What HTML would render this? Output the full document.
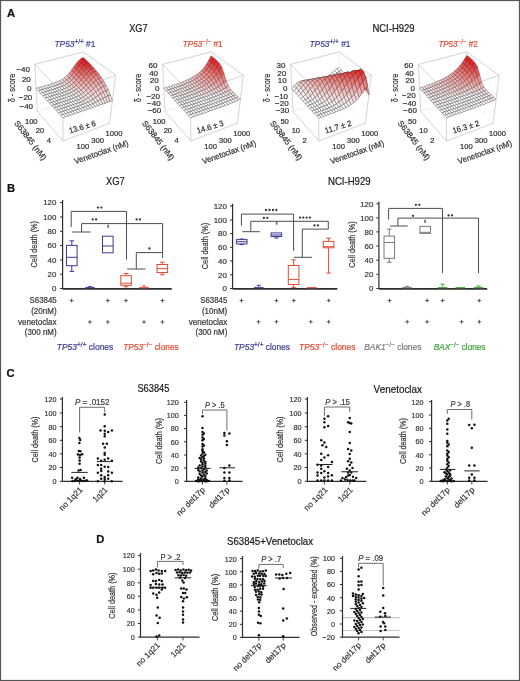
<!DOCTYPE html>
<html><head><meta charset="utf-8"><style>
html,body{margin:0;padding:0;background:#fff;}
body{width:520px;height:681px;overflow:hidden;font-family:"Liberation Sans",sans-serif;}
svg{display:block;will-change:transform;}
</style></head><body>
<svg width="520" height="681" viewBox="0 0 520 681" font-family="Liberation Sans"><text x="7.00" y="16.50" font-size="11.2" fill="#111" stroke="#111" stroke-width="0.22" font-weight="bold">A</text>
<text x="7.00" y="191.90" font-size="11.2" fill="#111" stroke="#111" stroke-width="0.22" font-weight="bold">B</text>
<text x="6.60" y="376.90" font-size="11.2" fill="#111" stroke="#111" stroke-width="0.22" font-weight="bold">C</text>
<text x="96.20" y="542.90" font-size="11.2" fill="#111" stroke="#111" stroke-width="0.22" font-weight="bold">D</text>
<text x="129.20" y="32.10" font-size="10.2" fill="#222" stroke="#222" stroke-width="0.22" textLength="18.40" lengthAdjust="spacingAndGlyphs">XG7</text>
<text x="372.40" y="32.10" font-size="10.2" fill="#222" stroke="#222" stroke-width="0.22" textLength="42.20" lengthAdjust="spacingAndGlyphs">NCI-H929</text>
<line x1="37.30" y1="111.50" x2="83.50" y2="96.00" stroke="#cfcfcf" stroke-width="0.6" stroke-dasharray="1.2,1.2"/>
<line x1="83.50" y1="96.00" x2="109.60" y2="123.30" stroke="#cfcfcf" stroke-width="0.6" stroke-dasharray="1.2,1.2"/>
<line x1="83.50" y1="96.00" x2="83.30" y2="51.90" stroke="#cfcfcf" stroke-width="0.6" stroke-dasharray="1.2,1.2"/>
<line x1="34.80" y1="64.40" x2="83.30" y2="51.90" stroke="#bdbdbd" stroke-width="0.65"/>
<line x1="83.30" y1="51.90" x2="115.60" y2="75.30" stroke="#bdbdbd" stroke-width="0.65"/>
<line x1="34.80" y1="64.40" x2="62.80" y2="93.60" stroke="#bdbdbd" stroke-width="0.65"/>
<line x1="62.80" y1="93.60" x2="115.60" y2="75.30" stroke="#bdbdbd" stroke-width="0.65"/>
<line x1="34.80" y1="64.40" x2="37.30" y2="111.50" stroke="#bdbdbd" stroke-width="0.65"/>
<line x1="115.60" y1="75.30" x2="109.60" y2="123.30" stroke="#bdbdbd" stroke-width="0.65"/>
<line x1="37.30" y1="111.50" x2="63.00" y2="141.00" stroke="#bdbdbd" stroke-width="0.65"/>
<line x1="63.00" y1="141.00" x2="109.60" y2="123.30" stroke="#bdbdbd" stroke-width="0.65"/>
<line x1="62.80" y1="93.60" x2="63.00" y2="141.00" stroke="#bdbdbd" stroke-width="0.65"/>
<g stroke-width="0.5" stroke-linejoin="round"><path d="M83.5,61.3 L85.9,60.1 L83.3,57.6 L80.9,58.8Z" fill="#e41818" stroke="#7d1515"/><path d="M81.1,63.4 L83.5,61.3 L80.9,58.8 L78.5,60.9Z" fill="#e52323" stroke="#7a1a1a"/><path d="M86.1,63.8 L88.6,62.6 L85.9,60.1 L83.5,61.3Z" fill="#e51f1f" stroke="#7b1818"/><path d="M78.7,66.2 L81.1,63.4 L78.5,60.9 L76.1,63.8Z" fill="#e83636" stroke="#762222"/><path d="M83.7,65.9 L86.1,63.8 L83.5,61.3 L81.1,63.4Z" fill="#e62a2a" stroke="#791d1d"/><path d="M76.3,69.4 L78.7,66.2 L76.1,63.8 L73.8,67.0Z" fill="#eb5151" stroke="#722d2d"/><path d="M88.7,66.5 L91.2,65.3 L88.6,62.6 L86.1,63.8Z" fill="#e72d2d" stroke="#781e1e"/><path d="M81.2,68.7 L83.7,65.9 L81.1,63.4 L78.7,66.2Z" fill="#e83d3d" stroke="#752525"/><path d="M73.9,72.6 L76.3,69.4 L73.8,67.0 L71.4,70.2Z" fill="#ee6e6e" stroke="#6c3838"/><path d="M86.2,68.6 L88.7,66.5 L86.1,63.8 L83.7,65.9Z" fill="#e83636" stroke="#762222"/><path d="M78.8,71.9 L81.2,68.7 L78.7,66.2 L76.3,69.4Z" fill="#eb5656" stroke="#712f2f"/><path d="M71.5,75.5 L73.9,72.6 L71.4,70.2 L69.1,73.2Z" fill="#f28c8c" stroke="#684343"/><path d="M91.2,69.2 L93.7,68.0 L91.2,65.3 L88.7,66.5Z" fill="#e94040" stroke="#752626"/><path d="M83.7,71.3 L86.2,68.6 L83.7,65.9 L81.2,68.7Z" fill="#ea4848" stroke="#732a2a"/><path d="M76.3,75.0 L78.8,71.9 L76.3,69.4 L73.9,72.6Z" fill="#ef7373" stroke="#6c3a3a"/><path d="M69.2,78.0 L71.5,75.5 L69.1,73.2 L66.8,75.7Z" fill="#f5a8a8" stroke="#644b4b"/><path d="M88.7,71.3 L91.2,69.2 L88.7,66.5 L86.2,68.6Z" fill="#ea4848" stroke="#732a2a"/><path d="M81.2,74.4 L83.7,71.3 L81.2,68.7 L78.8,71.9Z" fill="#ed6060" stroke="#6f3333"/><path d="M73.9,77.9 L76.3,75.0 L73.9,72.6 L71.5,75.5Z" fill="#f29090" stroke="#674444"/><path d="M93.8,72.2 L96.3,71.0 L93.7,68.0 L91.2,69.2Z" fill="#eb5656" stroke="#712f2f"/><path d="M66.8,80.1 L69.2,78.0 L66.8,75.7 L64.4,77.8Z" fill="#f8c0c0" stroke="#615252"/><path d="M86.2,74.0 L88.7,71.3 L86.2,68.6 L83.7,71.3Z" fill="#ec5959" stroke="#703030"/><path d="M78.8,77.5 L81.2,74.4 L78.8,71.9 L76.3,75.0Z" fill="#f07b7b" stroke="#6a3d3d"/><path d="M71.5,80.4 L73.9,77.9 L71.5,75.5 L69.2,78.0Z" fill="#f5abab" stroke="#634c4c"/><path d="M91.2,74.2 L93.8,72.2 L91.2,69.2 L88.7,71.3Z" fill="#ec5e5e" stroke="#6f3232"/><path d="M64.4,81.7 L66.8,80.1 L64.4,77.8 L62.1,79.4Z" fill="#fad4d4" stroke="#5f5656"/><path d="M83.7,77.0 L86.2,74.0 L83.7,71.3 L81.2,74.4Z" fill="#ee6e6e" stroke="#6c3838"/><path d="M76.4,80.4 L78.8,77.5 L76.3,75.0 L73.9,77.9Z" fill="#f39797" stroke="#664646"/><path d="M96.3,75.3 L98.8,74.1 L96.3,71.0 L93.8,72.2Z" fill="#ee6f6f" stroke="#6c3838"/><path d="M69.2,82.4 L71.5,80.4 L69.2,78.0 L66.8,80.1Z" fill="#f8c2c2" stroke="#615252"/><path d="M88.7,76.8 L91.2,74.2 L88.7,71.3 L86.2,74.0Z" fill="#ee6c6c" stroke="#6d3737"/><path d="M62.1,83.0 L64.4,81.7 L62.1,79.4 L59.7,80.7Z" fill="#fce3e3" stroke="#5d5959"/><path d="M81.2,80.0 L83.7,77.0 L81.2,74.4 L78.8,77.5Z" fill="#f18787" stroke="#684141"/><path d="M73.9,82.8 L76.4,80.4 L73.9,77.9 L71.5,80.4Z" fill="#f6b0b0" stroke="#634d4d"/><path d="M93.7,77.3 L96.3,75.3 L93.8,72.2 L91.2,74.2Z" fill="#ef7575" stroke="#6b3b3b"/><path d="M66.8,84.1 L69.2,82.4 L66.8,80.1 L64.4,81.7Z" fill="#fad5d5" stroke="#5f5656"/><path d="M86.2,79.7 L88.7,76.8 L86.2,74.0 L83.7,77.0Z" fill="#f07f7f" stroke="#6a3e3e"/><path d="M59.7,84.1 L62.1,83.0 L59.7,80.7 L57.4,81.7Z" fill="#fdeded" stroke="#5d5a5a"/><path d="M78.8,82.8 L81.2,80.0 L78.8,77.5 L76.4,80.4Z" fill="#f4a0a0" stroke="#654949"/><path d="M98.7,78.7 L101.3,77.5 L98.8,74.1 L96.3,75.3Z" fill="#f18787" stroke="#684141"/><path d="M71.5,84.8 L73.9,82.8 L71.5,80.4 L69.2,82.4Z" fill="#f8c6c6" stroke="#605353"/><path d="M91.2,79.8 L93.7,77.3 L91.2,74.2 L88.7,76.8Z" fill="#f08181" stroke="#693f3f"/><path d="M64.4,85.4 L66.8,84.1 L64.4,81.7 L62.1,83.0Z" fill="#fce4e4" stroke="#5d5959"/><path d="M83.7,82.6 L86.2,79.7 L83.7,77.0 L81.2,80.0Z" fill="#f39595" stroke="#664545"/><path d="M57.3,85.0 L59.7,84.1 L57.4,81.7 L55.0,82.6Z" fill="#fef4f4" stroke="#5c5b5b"/><path d="M76.3,85.2 L78.8,82.8 L76.4,80.4 L73.9,82.8Z" fill="#f7b7b7" stroke="#624f4f"/><path d="M96.2,80.5 L98.7,78.7 L96.3,75.3 L93.7,77.3Z" fill="#f28d8d" stroke="#684343"/><path d="M69.1,86.4 L71.5,84.8 L69.2,82.4 L66.8,84.1Z" fill="#fad8d8" stroke="#5e5757"/><path d="M88.6,82.6 L91.2,79.8 L88.7,76.8 L86.2,79.7Z" fill="#f29292" stroke="#674444"/><path d="M62.0,86.4 L64.4,85.4 L62.1,83.0 L59.7,84.1Z" fill="#fdeeee" stroke="#5d5a5a"/><path d="M81.2,85.3 L83.7,82.6 L81.2,80.0 L78.8,82.8Z" fill="#f5abab" stroke="#634c4c"/><path d="M101.2,82.4 L103.7,81.2 L101.3,77.5 L98.7,78.7Z" fill="#f49f9f" stroke="#654848"/><path d="M54.9,85.8 L57.3,85.0 L55.0,82.6 L52.6,83.4Z" fill="#fef9f9" stroke="#5c5c5c"/><path d="M73.9,87.2 L76.3,85.2 L73.9,82.8 L71.5,84.8Z" fill="#f9cbcb" stroke="#605454"/><path d="M93.6,82.9 L96.2,80.5 L93.7,77.3 L91.2,79.8Z" fill="#f39797" stroke="#664646"/><path d="M66.7,87.7 L69.1,86.4 L66.8,84.1 L64.4,85.4Z" fill="#fce5e5" stroke="#5d5959"/><path d="M86.1,85.4 L88.6,82.6 L86.2,79.7 L83.7,82.6Z" fill="#f4a4a4" stroke="#644a4a"/><path d="M59.6,87.3 L62.0,86.4 L59.7,84.1 L57.3,85.0Z" fill="#fef5f5" stroke="#5c5b5b"/><path d="M78.7,87.7 L81.2,85.3 L78.8,82.8 L76.3,85.2Z" fill="#f8c0c0" stroke="#615151"/><path d="M98.6,84.1 L101.2,82.4 L98.7,78.7 L96.2,80.5Z" fill="#f4a3a3" stroke="#644a4a"/><path d="M71.5,88.8 L73.9,87.2 L71.5,84.8 L69.1,86.4Z" fill="#fbdbdb" stroke="#5e5757"/><path d="M91.0,85.5 L93.6,82.9 L91.2,79.8 L88.6,82.6Z" fill="#f5a4a4" stroke="#644a4a"/><path d="M52.6,86.5 L54.9,85.8 L52.6,83.4 L50.3,84.2Z" fill="#fffcfc" stroke="#5c5c5c"/><path d="M64.3,88.8 L66.7,87.7 L64.4,85.4 L62.0,86.4Z" fill="#fdefef" stroke="#5d5b5b"/><path d="M83.6,87.9 L86.1,85.4 L83.7,82.6 L81.2,85.3Z" fill="#f7b7b7" stroke="#624f4f"/><path d="M103.5,86.4 L106.0,85.3 L103.7,81.2 L101.2,82.4Z" fill="#f6b4b4" stroke="#624e4e"/><path d="M57.2,88.1 L59.6,87.3 L57.3,85.0 L54.9,85.8Z" fill="#fef9f9" stroke="#5c5c5c"/><path d="M76.3,89.6 L78.7,87.7 L76.3,85.2 L73.9,87.2Z" fill="#fad1d1" stroke="#5f5555"/><path d="M96.0,86.3 L98.6,84.1 L96.2,80.5 L93.6,82.9Z" fill="#f5abab" stroke="#634c4c"/><path d="M88.5,88.2 L91.0,85.5 L88.6,82.6 L86.1,85.4Z" fill="#f6b4b4" stroke="#624e4e"/><path d="M50.2,87.3 L52.6,86.5 L50.3,84.2 L47.9,84.9Z" fill="#fffdfd" stroke="#5c5c5c"/><path d="M69.1,90.0 L71.5,88.8 L69.1,86.4 L66.7,87.7Z" fill="#fce8e8" stroke="#5d5a5a"/><path d="M61.9,89.7 L64.3,88.8 L62.0,86.4 L59.6,87.3Z" fill="#fef5f5" stroke="#5c5b5b"/><path d="M81.1,90.2 L83.6,87.9 L81.2,85.3 L78.7,87.7Z" fill="#f9c9c9" stroke="#605454"/><path d="M100.9,88.0 L103.5,86.4 L101.2,82.4 L98.6,84.1Z" fill="#f7b7b7" stroke="#624f4f"/><path d="M54.9,88.9 L57.2,88.1 L54.9,85.8 L52.6,86.5Z" fill="#fffcfc" stroke="#5c5c5c"/><path d="M73.8,91.1 L76.3,89.6 L73.9,87.2 L71.5,88.8Z" fill="#fbdfdf" stroke="#5e5858"/><path d="M93.4,88.7 L96.0,86.3 L93.6,82.9 L91.0,85.5Z" fill="#f7b6b6" stroke="#624f4f"/><path d="M47.8,88.0 L50.2,87.3 L47.9,84.9 L45.5,85.6Z" fill="#fffefe" stroke="#5c5c5c"/><path d="M66.7,91.1 L69.1,90.0 L66.7,87.7 L64.3,88.8Z" fill="#fdf0f0" stroke="#5d5b5b"/><path d="M86.0,90.6 L88.5,88.2 L86.1,85.4 L83.6,87.9Z" fill="#f8c3c3" stroke="#605252"/><path d="M105.8,90.9 L108.3,89.8 L106.0,85.3 L103.5,86.4Z" fill="#f8c6c6" stroke="#605353"/><path d="M59.5,90.5 L61.9,89.7 L59.6,87.3 L57.2,88.1Z" fill="#fef9f9" stroke="#5c5c5c"/><path d="M78.6,92.0 L81.1,90.2 L78.7,87.7 L76.3,89.6Z" fill="#fad8d8" stroke="#5e5757"/><path d="M98.4,89.9 L100.9,88.0 L98.6,84.1 L96.0,86.3Z" fill="#f7bebe" stroke="#615151"/><path d="M52.5,89.7 L54.9,88.9 L52.6,86.5 L50.2,87.3Z" fill="#fffdfd" stroke="#5c5c5c"/><path d="M71.4,92.4 L73.8,91.1 L71.5,88.8 L69.1,90.0Z" fill="#fdeaea" stroke="#5d5a5a"/><path d="M90.9,91.1 L93.4,88.7 L91.0,85.5 L88.5,88.2Z" fill="#f8c3c3" stroke="#615252"/><path d="M45.4,88.7 L47.8,88.0 L45.5,85.6 L43.2,86.3Z" fill="#ffffff" stroke="#5c5c5c"/><path d="M64.3,92.0 L66.7,91.1 L64.3,88.8 L61.9,89.7Z" fill="#fef6f6" stroke="#5c5b5b"/><path d="M83.4,92.7 L86.0,90.6 L83.6,87.9 L81.1,90.2Z" fill="#fad2d2" stroke="#5f5656"/><path d="M103.2,92.3 L105.8,90.9 L103.5,86.4 L100.9,88.0Z" fill="#f9c9c9" stroke="#605454"/><path d="M57.2,91.3 L59.5,90.5 L57.2,88.1 L54.9,88.9Z" fill="#fffcfc" stroke="#5c5c5c"/><path d="M76.2,93.5 L78.6,92.0 L76.3,89.6 L73.8,91.1Z" fill="#fce4e4" stroke="#5d5959"/><path d="M95.8,92.1 L98.4,89.9 L96.0,86.3 L93.4,88.7Z" fill="#f8c6c6" stroke="#605353"/><path d="M50.1,90.4 L52.5,89.7 L50.2,87.3 L47.8,88.0Z" fill="#fffefe" stroke="#5c5c5c"/><path d="M69.0,93.5 L71.4,92.4 L69.1,90.0 L66.7,91.1Z" fill="#fdf2f2" stroke="#5c5b5b"/><path d="M88.3,93.3 L90.9,91.1 L88.5,88.2 L86.0,90.6Z" fill="#f9cfcf" stroke="#5f5555"/><path d="M107.9,95.9 L110.4,94.9 L108.3,89.8 L105.8,90.9Z" fill="#fad6d6" stroke="#5f5656"/><path d="M43.1,89.4 L45.4,88.7 L43.2,86.3 L40.8,87.0Z" fill="#ffffff" stroke="#5c5c5c"/><path d="M61.9,92.9 L64.3,92.0 L61.9,89.7 L59.5,90.5Z" fill="#fefafa" stroke="#5c5c5c"/><path d="M81.0,94.5 L83.4,92.7 L81.1,90.2 L78.6,92.0Z" fill="#fbdfdf" stroke="#5e5858"/><path d="M100.7,93.9 L103.2,92.3 L100.9,88.0 L98.4,89.9Z" fill="#f9cece" stroke="#5f5555"/><path d="M54.8,92.0 L57.2,91.3 L54.9,88.9 L52.5,89.7Z" fill="#fffdfd" stroke="#5c5c5c"/><path d="M73.7,94.8 L76.2,93.5 L73.8,91.1 L71.4,92.4Z" fill="#fdeded" stroke="#5d5a5a"/><path d="M93.2,94.2 L95.8,92.1 L93.4,88.7 L90.9,91.1Z" fill="#fad0d0" stroke="#5f5555"/><path d="M47.7,91.1 L50.1,90.4 L47.8,88.0 L45.4,88.7Z" fill="#ffffff" stroke="#5c5c5c"/><path d="M66.6,94.4 L69.0,93.5 L66.7,91.1 L64.3,92.0Z" fill="#fef7f7" stroke="#5c5c5c"/><path d="M85.8,95.3 L88.3,93.3 L86.0,90.6 L83.4,92.7Z" fill="#fbdbdb" stroke="#5e5757"/><path d="M105.4,97.1 L107.9,95.9 L105.8,90.9 L103.2,92.3Z" fill="#fad7d7" stroke="#5e5757"/><path d="M78.5,95.9 L81.0,94.5 L78.6,92.0 L76.2,93.5Z" fill="#fce9e9" stroke="#5d5a5a"/><path d="M40.7,90.2 L43.1,89.4 L40.8,87.0 L38.4,87.7Z" fill="#ffffff" stroke="#5c5c5c"/><path d="M98.1,95.7 L100.7,93.9 L98.4,89.9 L95.8,92.1Z" fill="#fad4d4" stroke="#5f5656"/><path d="M59.4,93.7 L61.9,92.9 L59.5,90.5 L57.2,91.3Z" fill="#fffcfc" stroke="#5c5c5c"/><path d="M52.4,92.8 L54.8,92.0 L52.5,89.7 L50.1,90.4Z" fill="#fffefe" stroke="#5c5c5c"/><path d="M71.3,95.8 L73.7,94.8 L71.4,92.4 L69.0,93.5Z" fill="#fef4f4" stroke="#5c5b5b"/><path d="M90.7,96.2 L93.2,94.2 L90.9,91.1 L88.3,93.3Z" fill="#fbdada" stroke="#5e5757"/><path d="M109.9,101.6 L112.4,100.7 L110.4,94.9 L107.9,95.9Z" fill="#fce2e2" stroke="#5e5959"/><path d="M45.3,91.9 L47.7,91.1 L45.4,88.7 L43.1,89.4Z" fill="#ffffff" stroke="#5c5c5c"/><path d="M64.2,95.2 L66.6,94.4 L64.3,92.0 L61.9,92.9Z" fill="#fefbfb" stroke="#5c5c5c"/><path d="M83.3,97.0 L85.8,95.3 L83.4,92.7 L81.0,94.5Z" fill="#fce5e5" stroke="#5d5959"/><path d="M102.9,98.4 L105.4,97.1 L103.2,92.3 L100.7,93.9Z" fill="#fbdbdb" stroke="#5e5757"/><path d="M76.1,97.1 L78.5,95.9 L76.2,93.5 L73.7,94.8Z" fill="#fdf0f0" stroke="#5d5b5b"/><path d="M38.3,90.9 L40.7,90.2 L38.4,87.7 L36.1,88.4Z" fill="#ffffff" stroke="#5c5c5c"/><path d="M57.0,94.4 L59.4,93.7 L57.2,91.3 L54.8,92.0Z" fill="#fffefe" stroke="#5c5c5c"/><path d="M95.5,97.5 L98.1,95.7 L95.8,92.1 L93.2,94.2Z" fill="#fbdbdb" stroke="#5e5757"/><path d="M50.0,93.5 L52.4,92.8 L50.1,90.4 L47.7,91.1Z" fill="#ffffff" stroke="#5c5c5c"/><path d="M68.9,96.7 L71.3,95.8 L69.0,93.5 L66.6,94.4Z" fill="#fef8f8" stroke="#5c5c5c"/><path d="M88.2,98.0 L90.7,96.2 L88.3,93.3 L85.8,95.3Z" fill="#fce3e3" stroke="#5d5959"/><path d="M107.5,102.4 L109.9,101.6 L107.9,95.9 L105.4,97.1Z" fill="#fce3e3" stroke="#5d5959"/><path d="M42.9,92.6 L45.3,91.9 L43.1,89.4 L40.7,90.2Z" fill="#ffffff" stroke="#5c5c5c"/><path d="M100.4,99.7 L102.9,98.4 L100.7,93.9 L98.1,95.7Z" fill="#fbe0e0" stroke="#5e5858"/><path d="M61.7,96.0 L64.2,95.2 L61.9,92.9 L59.4,93.7Z" fill="#fffdfd" stroke="#5c5c5c"/><path d="M80.9,98.4 L83.3,97.0 L81.0,94.5 L78.5,95.9Z" fill="#fdeded" stroke="#5d5a5a"/><path d="M54.6,95.2 L57.0,94.4 L54.8,92.0 L52.4,92.8Z" fill="#fffefe" stroke="#5c5c5c"/><path d="M73.6,98.2 L76.1,97.1 L73.7,94.8 L71.3,95.8Z" fill="#fef6f6" stroke="#5c5b5b"/><path d="M93.0,99.2 L95.5,97.5 L93.2,94.2 L90.7,96.2Z" fill="#fce3e3" stroke="#5d5959"/><path d="M47.6,94.3 L50.0,93.5 L47.7,91.1 L45.3,91.9Z" fill="#ffffff" stroke="#5c5c5c"/><path d="M66.5,97.6 L68.9,96.7 L66.6,94.4 L64.2,95.2Z" fill="#fffbfb" stroke="#5c5c5c"/><path d="M85.7,99.5 L88.2,98.0 L85.8,95.3 L83.3,97.0Z" fill="#fdebeb" stroke="#5d5a5a"/><path d="M105.0,103.3 L107.5,102.4 L105.4,97.1 L102.9,98.4Z" fill="#fce5e5" stroke="#5d5959"/><path d="M40.5,93.3 L42.9,92.6 L40.7,90.2 L38.3,90.9Z" fill="#ffffff" stroke="#5c5c5c"/><path d="M59.3,96.8 L61.7,96.0 L59.4,93.7 L57.0,94.4Z" fill="#fffefe" stroke="#5c5c5c"/><path d="M97.8,101.1 L100.4,99.7 L98.1,95.7 L95.5,97.5Z" fill="#fce5e5" stroke="#5d5959"/><path d="M78.4,99.5 L80.9,98.4 L78.5,95.9 L76.1,97.1Z" fill="#fef3f3" stroke="#5c5b5b"/><path d="M52.2,95.9 L54.6,95.2 L52.4,92.8 L50.0,93.5Z" fill="#ffffff" stroke="#5c5c5c"/><path d="M71.2,99.1 L73.6,98.2 L71.3,95.8 L68.9,96.7Z" fill="#fef9f9" stroke="#5c5c5c"/><path d="M90.5,100.8 L93.0,99.2 L90.7,96.2 L88.2,98.0Z" fill="#fdeaea" stroke="#5d5a5a"/><path d="M45.2,95.0 L47.6,94.3 L45.3,91.9 L42.9,92.6Z" fill="#ffffff" stroke="#5c5c5c"/><path d="M64.0,98.4 L66.5,97.6 L64.2,95.2 L61.7,96.0Z" fill="#fffdfd" stroke="#5c5c5c"/><path d="M83.2,100.8 L85.7,99.5 L83.3,97.0 L80.9,98.4Z" fill="#fdf1f1" stroke="#5d5b5b"/><path d="M102.5,104.1 L105.0,103.3 L102.9,98.4 L100.4,99.7Z" fill="#fce9e9" stroke="#5d5a5a"/><path d="M56.9,97.6 L59.3,96.8 L57.0,94.4 L54.6,95.2Z" fill="#fffefe" stroke="#5c5c5c"/><path d="M75.9,100.5 L78.4,99.5 L76.1,97.1 L73.6,98.2Z" fill="#fef8f8" stroke="#5c5c5c"/><path d="M95.3,102.4 L97.8,101.1 L95.5,97.5 L93.0,99.2Z" fill="#fdeaea" stroke="#5d5a5a"/><path d="M49.8,96.7 L52.2,95.9 L50.0,93.5 L47.6,94.3Z" fill="#ffffff" stroke="#5c5c5c"/><path d="M68.8,100.0 L71.2,99.1 L68.9,96.7 L66.5,97.6Z" fill="#fffcfc" stroke="#5c5c5c"/><path d="M88.0,102.1 L90.5,100.8 L88.2,98.0 L85.7,99.5Z" fill="#fdf0f0" stroke="#5d5b5b"/><path d="M42.8,95.8 L45.2,95.0 L42.9,92.6 L40.5,93.3Z" fill="#ffffff" stroke="#5c5c5c"/><path d="M61.6,99.2 L64.0,98.4 L61.7,96.0 L59.3,96.8Z" fill="#fffefe" stroke="#5c5c5c"/><path d="M80.7,101.9 L83.2,100.8 L80.9,98.4 L78.4,99.5Z" fill="#fef6f6" stroke="#5c5b5b"/><path d="M100.1,105.0 L102.5,104.1 L100.4,99.7 L97.8,101.1Z" fill="#fdeded" stroke="#5d5a5a"/><path d="M54.5,98.4 L56.9,97.6 L54.6,95.2 L52.2,95.9Z" fill="#ffffff" stroke="#5c5c5c"/><path d="M73.5,101.5 L75.9,100.5 L73.6,98.2 L71.2,99.1Z" fill="#fefbfb" stroke="#5c5c5c"/><path d="M92.8,103.7 L95.3,102.4 L93.0,99.2 L90.5,100.8Z" fill="#fdefef" stroke="#5d5b5b"/><path d="M47.4,97.5 L49.8,96.7 L47.6,94.3 L45.2,95.0Z" fill="#ffffff" stroke="#5c5c5c"/><path d="M66.3,100.8 L68.8,100.0 L66.5,97.6 L64.0,98.4Z" fill="#fffdfd" stroke="#5c5c5c"/><path d="M85.5,103.3 L88.0,102.1 L85.7,99.5 L83.2,100.8Z" fill="#fef4f4" stroke="#5c5b5b"/><path d="M59.2,100.0 L61.6,99.2 L59.3,96.8 L56.9,97.6Z" fill="#fffefe" stroke="#5c5c5c"/><path d="M78.3,102.9 L80.7,101.9 L78.4,99.5 L75.9,100.5Z" fill="#fef9f9" stroke="#5c5c5c"/><path d="M97.6,105.8 L100.1,105.0 L97.8,101.1 L95.3,102.4Z" fill="#fdf0f0" stroke="#5d5b5b"/><path d="M52.1,99.1 L54.5,98.4 L52.2,95.9 L49.8,96.7Z" fill="#ffffff" stroke="#5c5c5c"/><path d="M71.1,102.3 L73.5,101.5 L71.2,99.1 L68.8,100.0Z" fill="#fffcfc" stroke="#5c5c5c"/><path d="M90.3,104.8 L92.8,103.7 L90.5,100.8 L88.0,102.1Z" fill="#fef4f4" stroke="#5c5b5b"/><path d="M63.9,101.6 L66.3,100.8 L64.0,98.4 L61.6,99.2Z" fill="#fffefe" stroke="#5c5c5c"/><path d="M45.0,98.2 L47.4,97.5 L45.2,95.0 L42.8,95.8Z" fill="#ffffff" stroke="#5c5c5c"/><path d="M83.1,104.3 L85.5,103.3 L83.2,100.8 L80.7,101.9Z" fill="#fef8f8" stroke="#5c5c5c"/><path d="M56.8,100.8 L59.2,100.0 L56.9,97.6 L54.5,98.4Z" fill="#ffffff" stroke="#5c5c5c"/><path d="M75.8,103.8 L78.3,102.9 L75.9,100.5 L73.5,101.5Z" fill="#fffcfc" stroke="#5c5c5c"/><path d="M95.1,106.7 L97.6,105.8 L95.3,102.4 L92.8,103.7Z" fill="#fef4f4" stroke="#5c5b5b"/><path d="M49.7,99.9 L52.1,99.1 L49.8,96.7 L47.4,97.5Z" fill="#ffffff" stroke="#5c5c5c"/><path d="M87.8,105.8 L90.3,104.8 L88.0,102.1 L85.5,103.3Z" fill="#fef7f7" stroke="#5c5c5c"/><path d="M68.6,103.2 L71.1,102.3 L68.8,100.0 L66.3,100.8Z" fill="#fffefe" stroke="#5c5c5c"/><path d="M61.5,102.4 L63.9,101.6 L61.6,99.2 L59.2,100.0Z" fill="#ffffff" stroke="#5c5c5c"/><path d="M80.6,105.3 L83.1,104.3 L80.7,101.9 L78.3,102.9Z" fill="#fefbfb" stroke="#5c5c5c"/><path d="M54.3,101.5 L56.8,100.8 L54.5,98.4 L52.1,99.1Z" fill="#ffffff" stroke="#5c5c5c"/><path d="M73.4,104.7 L75.8,103.8 L73.5,101.5 L71.1,102.3Z" fill="#fffdfd" stroke="#5c5c5c"/><path d="M92.6,107.6 L95.1,106.7 L92.8,103.7 L90.3,104.8Z" fill="#fef7f7" stroke="#5c5b5b"/><path d="M47.3,100.7 L49.7,99.9 L47.4,97.5 L45.0,98.2Z" fill="#ffffff" stroke="#5c5c5c"/><path d="M85.4,106.8 L87.8,105.8 L85.5,103.3 L83.1,104.3Z" fill="#fefafa" stroke="#5c5c5c"/><path d="M66.2,104.0 L68.6,103.2 L66.3,100.8 L63.9,101.6Z" fill="#fffefe" stroke="#5c5c5c"/><path d="M59.0,103.2 L61.5,102.4 L59.2,100.0 L56.8,100.8Z" fill="#ffffff" stroke="#5c5c5c"/><path d="M78.1,106.2 L80.6,105.3 L78.3,102.9 L75.8,103.8Z" fill="#fffcfc" stroke="#5c5c5c"/><path d="M51.9,102.3 L54.3,101.5 L52.1,99.1 L49.7,99.9Z" fill="#ffffff" stroke="#5c5c5c"/><path d="M70.9,105.5 L73.4,104.7 L71.1,102.3 L68.6,103.2Z" fill="#fffefe" stroke="#5c5c5c"/><path d="M90.2,108.4 L92.6,107.6 L90.3,104.8 L87.8,105.8Z" fill="#fefafa" stroke="#5c5c5c"/><path d="M63.7,104.8 L66.2,104.0 L63.9,101.6 L61.5,102.4Z" fill="#ffffff" stroke="#5c5c5c"/><path d="M82.9,107.7 L85.4,106.8 L83.1,104.3 L80.6,105.3Z" fill="#fffcfc" stroke="#5c5c5c"/><path d="M56.6,104.0 L59.0,103.2 L56.8,100.8 L54.3,101.5Z" fill="#ffffff" stroke="#5c5c5c"/><path d="M75.7,107.1 L78.1,106.2 L75.8,103.8 L73.4,104.7Z" fill="#fffefe" stroke="#5c5c5c"/><path d="M49.5,103.1 L51.9,102.3 L49.7,99.9 L47.3,100.7Z" fill="#ffffff" stroke="#5c5c5c"/><path d="M68.5,106.4 L70.9,105.5 L68.6,103.2 L66.2,104.0Z" fill="#fffefe" stroke="#5c5c5c"/><path d="M87.7,109.3 L90.2,108.4 L87.8,105.8 L85.4,106.8Z" fill="#fffbfb" stroke="#5c5c5c"/><path d="M80.4,108.6 L82.9,107.7 L80.6,105.3 L78.1,106.2Z" fill="#fffdfd" stroke="#5c5c5c"/><path d="M61.3,105.6 L63.7,104.8 L61.5,102.4 L59.0,103.2Z" fill="#ffffff" stroke="#5c5c5c"/><path d="M54.2,104.8 L56.6,104.0 L54.3,101.5 L51.9,102.3Z" fill="#ffffff" stroke="#5c5c5c"/><path d="M73.2,107.9 L75.7,107.1 L73.4,104.7 L70.9,105.5Z" fill="#fffefe" stroke="#5c5c5c"/><path d="M66.0,107.2 L68.5,106.4 L66.2,104.0 L63.7,104.8Z" fill="#ffffff" stroke="#5c5c5c"/><path d="M85.2,110.1 L87.7,109.3 L85.4,106.8 L82.9,107.7Z" fill="#fffdfd" stroke="#5c5c5c"/><path d="M58.8,106.4 L61.3,105.6 L59.0,103.2 L56.6,104.0Z" fill="#ffffff" stroke="#5c5c5c"/><path d="M78.0,109.4 L80.4,108.6 L78.1,106.2 L75.7,107.1Z" fill="#fffefe" stroke="#5c5c5c"/><path d="M51.7,105.5 L54.2,104.8 L51.9,102.3 L49.5,103.1Z" fill="#ffffff" stroke="#5c5c5c"/><path d="M70.7,108.7 L73.2,107.9 L70.9,105.5 L68.5,106.4Z" fill="#ffffff" stroke="#5c5c5c"/><path d="M63.6,108.0 L66.0,107.2 L63.7,104.8 L61.3,105.6Z" fill="#ffffff" stroke="#5c5c5c"/><path d="M82.7,111.0 L85.2,110.1 L82.9,107.7 L80.4,108.6Z" fill="#fffefe" stroke="#5c5c5c"/><path d="M56.4,107.2 L58.8,106.4 L56.6,104.0 L54.2,104.8Z" fill="#ffffff" stroke="#5c5c5c"/><path d="M75.5,110.3 L78.0,109.4 L75.7,107.1 L73.2,107.9Z" fill="#fffefe" stroke="#5c5c5c"/><path d="M68.3,109.6 L70.7,108.7 L68.5,106.4 L66.0,107.2Z" fill="#ffffff" stroke="#5c5c5c"/><path d="M61.1,108.8 L63.6,108.0 L61.3,105.6 L58.8,106.4Z" fill="#ffffff" stroke="#5c5c5c"/><path d="M80.3,111.8 L82.7,111.0 L80.4,108.6 L78.0,109.4Z" fill="#fffefe" stroke="#5c5c5c"/><path d="M54.0,108.0 L56.4,107.2 L54.2,104.8 L51.7,105.5Z" fill="#ffffff" stroke="#5c5c5c"/><path d="M73.0,111.1 L75.5,110.3 L73.2,107.9 L70.7,108.7Z" fill="#ffffff" stroke="#5c5c5c"/><path d="M65.8,110.4 L68.3,109.6 L66.0,107.2 L63.6,108.0Z" fill="#ffffff" stroke="#5c5c5c"/><path d="M58.6,109.6 L61.1,108.8 L58.8,106.4 L56.4,107.2Z" fill="#ffffff" stroke="#5c5c5c"/><path d="M77.8,112.7 L80.3,111.8 L78.0,109.4 L75.5,110.3Z" fill="#ffffff" stroke="#5c5c5c"/><path d="M70.6,112.0 L73.0,111.1 L70.7,108.7 L68.3,109.6Z" fill="#ffffff" stroke="#5c5c5c"/><path d="M63.4,111.2 L65.8,110.4 L63.6,108.0 L61.1,108.8Z" fill="#ffffff" stroke="#5c5c5c"/><path d="M56.2,110.4 L58.6,109.6 L56.4,107.2 L54.0,108.0Z" fill="#ffffff" stroke="#5c5c5c"/><path d="M75.3,113.5 L77.8,112.7 L75.5,110.3 L73.0,111.1Z" fill="#ffffff" stroke="#5c5c5c"/><path d="M68.1,112.8 L70.6,112.0 L68.3,109.6 L65.8,110.4Z" fill="#ffffff" stroke="#5c5c5c"/><path d="M60.9,112.1 L63.4,111.2 L61.1,108.8 L58.6,109.6Z" fill="#ffffff" stroke="#5c5c5c"/><path d="M72.8,114.4 L75.3,113.5 L73.0,111.1 L70.6,112.0Z" fill="#ffffff" stroke="#5c5c5c"/><path d="M65.6,113.6 L68.1,112.8 L65.8,110.4 L63.4,111.2Z" fill="#ffffff" stroke="#5c5c5c"/><path d="M58.4,112.9 L60.9,112.1 L58.6,109.6 L56.2,110.4Z" fill="#ffffff" stroke="#5c5c5c"/><path d="M70.3,115.2 L72.8,114.4 L70.6,112.0 L68.1,112.8Z" fill="#ffffff" stroke="#5c5c5c"/><path d="M63.1,114.5 L65.6,113.6 L63.4,111.2 L60.9,112.1Z" fill="#ffffff" stroke="#5c5c5c"/><path d="M67.9,116.1 L70.3,115.2 L68.1,112.8 L65.6,113.6Z" fill="#ffffff" stroke="#5c5c5c"/><path d="M60.7,115.3 L63.1,114.5 L60.9,112.1 L58.4,112.9Z" fill="#ffffff" stroke="#5c5c5c"/><path d="M65.4,116.9 L67.9,116.1 L65.6,113.6 L63.1,114.5Z" fill="#ffffff" stroke="#5c5c5c"/><path d="M62.9,117.8 L65.4,116.9 L63.1,114.5 L60.7,115.3Z" fill="#ffffff" stroke="#5c5c5c"/></g>
<line x1="165.10" y1="111.50" x2="211.30" y2="96.00" stroke="#cfcfcf" stroke-width="0.6" stroke-dasharray="1.2,1.2"/>
<line x1="211.30" y1="96.00" x2="237.40" y2="123.30" stroke="#cfcfcf" stroke-width="0.6" stroke-dasharray="1.2,1.2"/>
<line x1="211.30" y1="96.00" x2="211.10" y2="51.90" stroke="#cfcfcf" stroke-width="0.6" stroke-dasharray="1.2,1.2"/>
<line x1="162.60" y1="64.40" x2="211.10" y2="51.90" stroke="#bdbdbd" stroke-width="0.65"/>
<line x1="211.10" y1="51.90" x2="243.40" y2="75.30" stroke="#bdbdbd" stroke-width="0.65"/>
<line x1="162.60" y1="64.40" x2="190.60" y2="93.60" stroke="#bdbdbd" stroke-width="0.65"/>
<line x1="190.60" y1="93.60" x2="243.40" y2="75.30" stroke="#bdbdbd" stroke-width="0.65"/>
<line x1="162.60" y1="64.40" x2="165.10" y2="111.50" stroke="#bdbdbd" stroke-width="0.65"/>
<line x1="243.40" y1="75.30" x2="237.40" y2="123.30" stroke="#bdbdbd" stroke-width="0.65"/>
<line x1="165.10" y1="111.50" x2="190.80" y2="141.00" stroke="#bdbdbd" stroke-width="0.65"/>
<line x1="190.80" y1="141.00" x2="237.40" y2="123.30" stroke="#bdbdbd" stroke-width="0.65"/>
<line x1="190.60" y1="93.60" x2="190.80" y2="141.00" stroke="#bdbdbd" stroke-width="0.65"/>
<g stroke-width="0.5" stroke-linejoin="round"><path d="M211.3,62.8 L213.8,58.0 L211.1,55.9 L208.7,60.6Z" fill="#e62929" stroke="#791c1c"/><path d="M208.9,66.7 L211.3,62.8 L208.7,60.6 L206.4,64.5Z" fill="#ea4a4a" stroke="#732a2a"/><path d="M213.9,65.0 L216.4,60.2 L213.8,58.0 L211.3,62.8Z" fill="#e62a2a" stroke="#791d1d"/><path d="M206.5,69.9 L208.9,66.7 L206.4,64.5 L204.0,67.7Z" fill="#ed6666" stroke="#6e3535"/><path d="M211.4,68.9 L213.9,65.0 L211.3,62.8 L208.9,66.7Z" fill="#ea4c4c" stroke="#722b2b"/><path d="M204.1,72.5 L206.5,69.9 L204.0,67.7 L201.6,70.3Z" fill="#f07e7e" stroke="#6a3e3e"/><path d="M216.5,67.6 L219.0,62.9 L216.4,60.2 L213.9,65.0Z" fill="#e72e2e" stroke="#781f1f"/><path d="M209.0,72.1 L211.4,68.9 L208.9,66.7 L206.5,69.9Z" fill="#ed6868" stroke="#6d3636"/><path d="M201.7,74.7 L204.1,72.5 L201.6,70.3 L199.3,72.5Z" fill="#f29393" stroke="#674545"/><path d="M213.9,71.4 L216.5,67.6 L213.9,65.0 L211.4,68.9Z" fill="#eb4f4f" stroke="#722c2c"/><path d="M206.6,74.8 L209.0,72.1 L206.5,69.9 L204.1,72.5Z" fill="#f08080" stroke="#6a3e3e"/><path d="M199.3,76.6 L201.7,74.7 L199.3,72.5 L196.9,74.4Z" fill="#f4a4a4" stroke="#644a4a"/><path d="M219.0,71.3 L221.6,66.9 L219.0,62.9 L216.5,67.6Z" fill="#e83939" stroke="#762323"/><path d="M211.5,74.6 L213.9,71.4 L211.4,68.9 L209.0,72.1Z" fill="#ee6b6b" stroke="#6d3737"/><path d="M204.1,77.0 L206.6,74.8 L204.1,72.5 L201.7,74.7Z" fill="#f39494" stroke="#674545"/><path d="M197.0,78.3 L199.3,76.6 L196.9,74.4 L194.6,76.0Z" fill="#f6b2b2" stroke="#624e4e"/><path d="M216.4,74.8 L219.0,71.3 L216.5,67.6 L213.9,71.4Z" fill="#ec5858" stroke="#703030"/><path d="M209.0,77.2 L211.5,74.6 L209.0,72.1 L206.6,74.8Z" fill="#f18282" stroke="#693f3f"/><path d="M201.7,78.9 L204.1,77.0 L201.7,74.7 L199.3,76.6Z" fill="#f5a5a5" stroke="#644a4a"/><path d="M221.4,76.8 L223.9,73.4 L221.6,66.9 L219.0,71.3Z" fill="#eb5353" stroke="#712e2e"/><path d="M194.6,79.7 L197.0,78.3 L194.6,76.0 L192.2,77.4Z" fill="#f7bebe" stroke="#615151"/><path d="M213.9,77.7 L216.4,74.8 L213.9,71.4 L211.5,74.6Z" fill="#ef7373" stroke="#6c3a3a"/><path d="M206.6,79.4 L209.0,77.2 L206.6,74.8 L204.1,77.0Z" fill="#f39696" stroke="#664646"/><path d="M199.3,80.6 L201.7,78.9 L199.3,76.6 L197.0,78.3Z" fill="#f6b3b3" stroke="#624e4e"/><path d="M218.8,79.6 L221.4,76.8 L219.0,71.3 L216.4,74.8Z" fill="#ee6f6f" stroke="#6c3838"/><path d="M192.2,81.0 L194.6,79.7 L192.2,77.4 L189.9,78.7Z" fill="#f9c8c8" stroke="#605353"/><path d="M211.4,80.2 L213.9,77.7 L211.5,74.6 L209.0,77.2Z" fill="#f18989" stroke="#684242"/><path d="M204.1,81.3 L206.6,79.4 L204.1,77.0 L201.7,78.9Z" fill="#f5a7a7" stroke="#644b4b"/><path d="M223.6,83.2 L226.2,80.9 L223.9,73.4 L221.4,76.8Z" fill="#f08181" stroke="#693f3f"/><path d="M197.0,82.0 L199.3,80.6 L197.0,78.3 L194.6,79.7Z" fill="#f8bfbf" stroke="#615151"/><path d="M216.3,82.0 L218.8,79.6 L216.4,74.8 L213.9,77.7Z" fill="#f18686" stroke="#694141"/><path d="M189.8,82.2 L192.2,81.0 L189.9,78.7 L187.5,79.8Z" fill="#fad1d1" stroke="#5f5555"/><path d="M209.0,82.2 L211.4,80.2 L209.0,77.2 L206.6,79.4Z" fill="#f49c9c" stroke="#654848"/><path d="M201.7,83.0 L204.1,81.3 L201.7,78.9 L199.3,80.6Z" fill="#f6b5b5" stroke="#624f4f"/><path d="M221.1,85.1 L223.6,83.2 L221.4,76.8 L218.8,79.6Z" fill="#f39595" stroke="#664545"/><path d="M194.6,83.3 L197.0,82.0 L194.6,79.7 L192.2,81.0Z" fill="#f9c9c9" stroke="#605454"/><path d="M213.8,84.0 L216.3,82.0 L213.9,77.7 L211.4,80.2Z" fill="#f39a9a" stroke="#664747"/><path d="M187.5,83.2 L189.8,82.2 L187.5,79.8 L185.1,80.9Z" fill="#fad8d8" stroke="#5e5757"/><path d="M206.5,84.0 L209.0,82.2 L206.6,79.4 L204.1,81.3Z" fill="#f5acac" stroke="#634c4c"/><path d="M225.9,87.9 L228.4,86.4 L226.2,80.9 L223.6,83.2Z" fill="#f6b0b0" stroke="#634d4d"/><path d="M199.3,84.4 L201.7,83.0 L199.3,80.6 L197.0,82.0Z" fill="#f8c1c1" stroke="#615252"/><path d="M218.6,86.7 L221.1,85.1 L218.8,79.6 L216.3,82.0Z" fill="#f5a7a7" stroke="#644b4b"/><path d="M192.2,84.5 L194.6,83.3 L192.2,81.0 L189.8,82.2Z" fill="#fad2d2" stroke="#5f5656"/><path d="M211.4,85.7 L213.8,84.0 L211.4,80.2 L209.0,82.2Z" fill="#f5aaaa" stroke="#634c4c"/><path d="M185.1,84.2 L187.5,83.2 L185.1,80.9 L182.8,81.9Z" fill="#fbdede" stroke="#5e5858"/><path d="M204.1,85.6 L206.5,84.0 L204.1,81.3 L201.7,83.0Z" fill="#f7b9b9" stroke="#625050"/><path d="M223.4,89.3 L225.9,87.9 L223.6,83.2 L221.1,85.1Z" fill="#f7bebe" stroke="#615151"/><path d="M196.9,85.7 L199.3,84.4 L197.0,82.0 L194.6,83.3Z" fill="#f9cbcb" stroke="#605454"/><path d="M216.2,88.2 L218.6,86.7 L216.3,82.0 L213.8,84.0Z" fill="#f6b5b5" stroke="#624f4f"/><path d="M189.8,85.6 L192.2,84.5 L189.8,82.2 L187.5,83.2Z" fill="#fbd9d9" stroke="#5e5757"/><path d="M208.9,87.3 L211.4,85.7 L209.0,82.2 L206.5,84.0Z" fill="#f7b8b8" stroke="#624f4f"/><path d="M228.3,91.1 L230.8,89.8 L228.4,86.4 L225.9,87.9Z" fill="#fad0d0" stroke="#5f5555"/><path d="M182.7,85.1 L185.1,84.2 L182.8,81.9 L180.4,82.8Z" fill="#fce3e3" stroke="#5d5959"/><path d="M201.7,86.9 L204.1,85.6 L201.7,83.0 L199.3,84.4Z" fill="#f8c5c5" stroke="#605353"/><path d="M221.0,90.5 L223.4,89.3 L221.1,85.1 L218.6,86.7Z" fill="#f9c9c9" stroke="#605454"/><path d="M194.5,86.8 L196.9,85.7 L194.6,83.3 L192.2,84.5Z" fill="#fad3d3" stroke="#5f5656"/><path d="M213.7,89.5 L216.2,88.2 L213.8,84.0 L211.4,85.7Z" fill="#f8c2c2" stroke="#615252"/><path d="M187.4,86.5 L189.8,85.6 L187.5,83.2 L185.1,84.2Z" fill="#fbdfdf" stroke="#5e5858"/><path d="M206.5,88.6 L208.9,87.3 L206.5,84.0 L204.1,85.6Z" fill="#f8c4c4" stroke="#605252"/><path d="M225.8,92.3 L228.3,91.1 L225.9,87.9 L223.4,89.3Z" fill="#fbd9d9" stroke="#5e5757"/><path d="M199.3,88.2 L201.7,86.9 L199.3,84.4 L196.9,85.7Z" fill="#f9cece" stroke="#5f5555"/><path d="M218.5,91.7 L221.0,90.5 L218.6,86.7 L216.2,88.2Z" fill="#fad3d3" stroke="#5f5656"/><path d="M180.3,86.0 L182.7,85.1 L180.4,82.8 L178.1,83.6Z" fill="#fce8e8" stroke="#5d5a5a"/><path d="M192.1,87.9 L194.5,86.8 L192.2,84.5 L189.8,85.6Z" fill="#fbdada" stroke="#5e5757"/><path d="M211.3,90.7 L213.7,89.5 L211.4,85.7 L208.9,87.3Z" fill="#f9cccc" stroke="#605454"/><path d="M230.7,93.6 L233.2,92.4 L230.8,89.8 L228.3,91.1Z" fill="#fbdfdf" stroke="#5e5858"/><path d="M185.0,87.5 L187.4,86.5 L185.1,84.2 L182.7,85.1Z" fill="#fce4e4" stroke="#5d5959"/><path d="M204.1,89.8 L206.5,88.6 L204.1,85.6 L201.7,86.9Z" fill="#f9cdcd" stroke="#5f5555"/><path d="M223.3,93.4 L225.8,92.3 L223.4,89.3 L221.0,90.5Z" fill="#fce1e1" stroke="#5e5858"/><path d="M216.1,92.7 L218.5,91.7 L216.2,88.2 L213.7,89.5Z" fill="#fbdbdb" stroke="#5e5757"/><path d="M178.0,86.8 L180.3,86.0 L178.1,83.6 L175.7,84.5Z" fill="#fdebeb" stroke="#5d5a5a"/><path d="M196.9,89.3 L199.3,88.2 L196.9,85.7 L194.5,86.8Z" fill="#fad6d6" stroke="#5f5656"/><path d="M189.7,88.9 L192.1,87.9 L189.8,85.6 L187.4,86.5Z" fill="#fbe0e0" stroke="#5e5858"/><path d="M208.8,91.8 L211.3,90.7 L208.9,87.3 L206.5,88.6Z" fill="#fad5d5" stroke="#5f5656"/><path d="M228.2,94.7 L230.7,93.6 L228.3,91.1 L225.8,92.3Z" fill="#fce7e7" stroke="#5d5959"/><path d="M182.6,88.4 L185.0,87.5 L182.7,85.1 L180.3,86.0Z" fill="#fce8e8" stroke="#5d5a5a"/><path d="M201.6,91.0 L204.1,89.8 L201.7,86.9 L199.3,88.2Z" fill="#fad6d6" stroke="#5f5656"/><path d="M220.9,94.4 L223.3,93.4 L221.0,90.5 L218.5,91.7Z" fill="#fce8e8" stroke="#5d5a5a"/><path d="M175.6,87.7 L178.0,86.8 L175.7,84.5 L173.3,85.3Z" fill="#fdeeee" stroke="#5d5b5b"/><path d="M194.5,90.4 L196.9,89.3 L194.5,86.8 L192.1,87.9Z" fill="#fbdddd" stroke="#5e5858"/><path d="M213.6,93.7 L216.1,92.7 L213.7,89.5 L211.3,90.7Z" fill="#fce2e2" stroke="#5e5959"/><path d="M233.1,95.9 L235.6,94.7 L233.2,92.4 L230.7,93.6Z" fill="#fce5e5" stroke="#5d5959"/><path d="M187.3,89.9 L189.7,88.9 L187.4,86.5 L185.0,87.5Z" fill="#fce5e5" stroke="#5d5959"/><path d="M206.4,92.9 L208.8,91.8 L206.5,88.6 L204.1,89.8Z" fill="#fbdcdc" stroke="#5e5858"/><path d="M225.7,95.8 L228.2,94.7 L225.8,92.3 L223.3,93.4Z" fill="#fdeded" stroke="#5d5a5a"/><path d="M180.3,89.2 L182.6,88.4 L180.3,86.0 L178.0,86.8Z" fill="#fdecec" stroke="#5d5a5a"/><path d="M199.2,92.0 L201.6,91.0 L199.3,88.2 L196.9,89.3Z" fill="#fbdddd" stroke="#5e5858"/><path d="M218.4,95.3 L220.9,94.4 L218.5,91.7 L216.1,92.7Z" fill="#fdeded" stroke="#5d5a5a"/><path d="M173.2,88.4 L175.6,87.7 L173.3,85.3 L171.0,86.0Z" fill="#fdf1f1" stroke="#5d5b5b"/><path d="M192.1,91.4 L194.5,90.4 L192.1,87.9 L189.7,88.9Z" fill="#fce3e3" stroke="#5d5959"/><path d="M211.2,94.7 L213.6,93.7 L211.3,90.7 L208.8,91.8Z" fill="#fce8e8" stroke="#5d5a5a"/><path d="M230.6,97.0 L233.1,95.9 L230.7,93.6 L228.2,94.7Z" fill="#fdeded" stroke="#5d5a5a"/><path d="M184.9,90.8 L187.3,89.9 L185.0,87.5 L182.6,88.4Z" fill="#fce9e9" stroke="#5d5a5a"/><path d="M204.0,93.8 L206.4,92.9 L204.1,89.8 L201.6,91.0Z" fill="#fce3e3" stroke="#5d5959"/><path d="M223.2,96.8 L225.7,95.8 L223.3,93.4 L220.9,94.4Z" fill="#fef3f3" stroke="#5c5b5b"/><path d="M177.9,90.1 L180.3,89.2 L178.0,86.8 L175.6,87.7Z" fill="#fdefef" stroke="#5d5b5b"/><path d="M196.8,93.0 L199.2,92.0 L196.9,89.3 L194.5,90.4Z" fill="#fce3e3" stroke="#5d5959"/><path d="M216.0,96.3 L218.4,95.3 L216.1,92.7 L213.6,93.7Z" fill="#fef2f2" stroke="#5c5b5b"/><path d="M235.5,98.1 L238.0,96.9 L235.6,94.7 L233.1,95.9Z" fill="#fce9e9" stroke="#5d5a5a"/><path d="M170.9,89.2 L173.2,88.4 L171.0,86.0 L168.6,86.8Z" fill="#fef3f3" stroke="#5c5b5b"/><path d="M189.6,92.3 L192.1,91.4 L189.7,88.9 L187.3,89.9Z" fill="#fce7e7" stroke="#5d5959"/><path d="M208.7,95.6 L211.2,94.7 L208.8,91.8 L206.4,92.9Z" fill="#fdeded" stroke="#5d5a5a"/><path d="M228.1,98.0 L230.6,97.0 L228.2,94.7 L225.7,95.8Z" fill="#fef3f3" stroke="#5c5b5b"/><path d="M182.5,91.6 L184.9,90.8 L182.6,88.4 L180.3,89.2Z" fill="#fdeded" stroke="#5d5a5a"/><path d="M201.5,94.8 L204.0,93.8 L201.6,91.0 L199.2,92.0Z" fill="#fce8e8" stroke="#5d5a5a"/><path d="M220.8,97.7 L223.2,96.8 L220.9,94.4 L218.4,95.3Z" fill="#fef8f8" stroke="#5c5c5c"/><path d="M175.5,90.9 L177.9,90.1 L175.6,87.7 L173.2,88.4Z" fill="#fdf2f2" stroke="#5c5b5b"/><path d="M194.4,93.9 L196.8,93.0 L194.5,90.4 L192.1,91.4Z" fill="#fce7e7" stroke="#5d5a5a"/><path d="M213.5,97.2 L216.0,96.3 L213.6,93.7 L211.2,94.7Z" fill="#fef7f7" stroke="#5c5b5b"/><path d="M233.0,99.2 L235.5,98.1 L233.1,95.9 L230.6,97.0Z" fill="#fdf0f0" stroke="#5d5b5b"/><path d="M206.3,96.5 L208.7,95.6 L206.4,92.9 L204.0,93.8Z" fill="#fdf1f1" stroke="#5d5b5b"/><path d="M168.5,90.0 L170.9,89.2 L168.6,86.8 L166.2,87.5Z" fill="#fef5f5" stroke="#5c5b5b"/><path d="M225.6,99.0 L228.1,98.0 L225.7,95.8 L223.2,96.8Z" fill="#fef9f9" stroke="#5c5c5c"/><path d="M187.2,93.2 L189.6,92.3 L187.3,89.9 L184.9,90.8Z" fill="#fdebeb" stroke="#5d5a5a"/><path d="M180.2,92.5 L182.5,91.6 L180.3,89.2 L177.9,90.1Z" fill="#fdf0f0" stroke="#5d5b5b"/><path d="M199.1,95.7 L201.5,94.8 L199.2,92.0 L196.8,93.0Z" fill="#fdecec" stroke="#5d5a5a"/><path d="M218.3,98.6 L220.8,97.7 L218.4,95.3 L216.0,96.3Z" fill="#fffefe" stroke="#5c5c5c"/><path d="M237.9,100.3 L240.4,99.1 L238.0,96.9 L235.5,98.1Z" fill="#fdebeb" stroke="#5d5a5a"/><path d="M173.1,91.6 L175.5,90.9 L173.2,88.4 L170.9,89.2Z" fill="#fef4f4" stroke="#5c5b5b"/><path d="M192.0,94.8 L194.4,93.9 L192.1,91.4 L189.6,92.3Z" fill="#fdecec" stroke="#5d5a5a"/><path d="M211.1,98.1 L213.5,97.2 L211.2,94.7 L208.7,95.6Z" fill="#fefbfb" stroke="#5c5c5c"/><path d="M230.5,100.3 L233.0,99.2 L230.6,97.0 L228.1,98.0Z" fill="#fef7f7" stroke="#5c5b5b"/><path d="M203.9,97.4 L206.3,96.5 L204.0,93.8 L201.5,94.8Z" fill="#fef4f4" stroke="#5c5b5b"/><path d="M166.1,90.7 L168.5,90.0 L166.2,87.5 L163.9,88.3Z" fill="#fef7f7" stroke="#5c5b5b"/><path d="M184.8,94.1 L187.2,93.2 L184.9,90.8 L182.5,91.6Z" fill="#fdeeee" stroke="#5d5b5b"/><path d="M223.2,100.0 L225.6,99.0 L223.2,96.8 L220.8,97.7Z" fill="#ffffff" stroke="#5c5c5c"/><path d="M177.8,93.3 L180.2,92.5 L177.9,90.1 L175.5,90.9Z" fill="#fef2f2" stroke="#5c5b5b"/><path d="M196.7,96.5 L199.1,95.7 L196.8,93.0 L194.4,93.9Z" fill="#fdf0f0" stroke="#5d5b5b"/><path d="M215.9,99.5 L218.3,98.6 L216.0,96.3 L213.5,97.2Z" fill="#ffffff" stroke="#5c5c5c"/><path d="M235.4,101.5 L237.9,100.3 L235.5,98.1 L233.0,99.2Z" fill="#fef3f3" stroke="#5c5b5b"/><path d="M170.7,92.4 L173.1,91.6 L170.9,89.2 L168.5,90.0Z" fill="#fef5f5" stroke="#5c5b5b"/><path d="M228.0,101.3 L230.5,100.3 L228.1,98.0 L225.6,99.0Z" fill="#ffffff" stroke="#5c5c5c"/><path d="M189.5,95.7 L192.0,94.8 L189.6,92.3 L187.2,93.2Z" fill="#fdefef" stroke="#5d5b5b"/><path d="M208.6,98.9 L211.1,98.1 L208.7,95.6 L206.3,96.5Z" fill="#ffffff" stroke="#5c5c5c"/><path d="M182.4,94.9 L184.8,94.1 L182.5,91.6 L180.2,92.5Z" fill="#fdf1f1" stroke="#5d5b5b"/><path d="M201.4,98.2 L203.9,97.4 L201.5,94.8 L199.1,95.7Z" fill="#fef7f7" stroke="#5c5c5c"/><path d="M220.7,100.9 L223.2,100.0 L220.8,97.7 L218.3,98.6Z" fill="#ffffff" stroke="#5c5c5c"/><path d="M175.4,94.1 L177.8,93.3 L175.5,90.9 L173.1,91.6Z" fill="#fef4f4" stroke="#5c5b5b"/><path d="M194.3,97.4 L196.7,96.5 L194.4,93.9 L192.0,94.8Z" fill="#fef3f3" stroke="#5c5b5b"/><path d="M213.4,100.4 L215.9,99.5 L213.5,97.2 L211.1,98.1Z" fill="#ffffff" stroke="#5c5c5c"/><path d="M232.9,102.5 L235.4,101.5 L233.0,99.2 L230.5,100.3Z" fill="#fefafa" stroke="#5c5c5c"/><path d="M168.3,93.2 L170.7,92.4 L168.5,90.0 L166.1,90.7Z" fill="#fef7f7" stroke="#5c5b5b"/><path d="M187.1,96.5 L189.5,95.7 L187.2,93.2 L184.8,94.1Z" fill="#fdf2f2" stroke="#5c5b5b"/><path d="M225.5,102.3 L228.0,101.3 L225.6,99.0 L223.2,100.0Z" fill="#ffffff" stroke="#5c5c5c"/><path d="M206.2,99.8 L208.6,98.9 L206.3,96.5 L203.9,97.4Z" fill="#ffffff" stroke="#5c5c5c"/><path d="M180.0,95.7 L182.4,94.9 L180.2,92.5 L177.8,93.3Z" fill="#fef3f3" stroke="#5c5b5b"/><path d="M199.0,99.1 L201.4,98.2 L199.1,95.7 L196.7,96.5Z" fill="#fefafa" stroke="#5c5c5c"/><path d="M218.2,101.8 L220.7,100.9 L218.3,98.6 L215.9,99.5Z" fill="#ffffff" stroke="#5c5c5c"/><path d="M173.0,94.9 L175.4,94.1 L173.1,91.6 L170.7,92.4Z" fill="#fef6f6" stroke="#5c5b5b"/><path d="M191.8,98.2 L194.3,97.4 L192.0,94.8 L189.5,95.7Z" fill="#fef5f5" stroke="#5c5b5b"/><path d="M211.0,101.3 L213.4,100.4 L211.1,98.1 L208.6,98.9Z" fill="#ffffff" stroke="#5c5c5c"/><path d="M230.4,103.6 L232.9,102.5 L230.5,100.3 L228.0,101.3Z" fill="#ffffff" stroke="#5c5c5c"/><path d="M184.7,97.4 L187.1,96.5 L184.8,94.1 L182.4,94.9Z" fill="#fef4f4" stroke="#5c5b5b"/><path d="M203.7,100.6 L206.2,99.8 L203.9,97.4 L201.4,98.2Z" fill="#ffffff" stroke="#5c5c5c"/><path d="M223.1,103.2 L225.5,102.3 L223.2,100.0 L220.7,100.9Z" fill="#ffffff" stroke="#5c5c5c"/><path d="M177.6,96.5 L180.0,95.7 L177.8,93.3 L175.4,94.1Z" fill="#fef5f5" stroke="#5c5b5b"/><path d="M196.6,99.9 L199.0,99.1 L196.7,96.5 L194.3,97.4Z" fill="#fffcfc" stroke="#5c5c5c"/><path d="M215.8,102.7 L218.2,101.8 L215.9,99.5 L213.4,100.4Z" fill="#ffffff" stroke="#5c5c5c"/><path d="M170.6,95.6 L173.0,94.9 L170.7,92.4 L168.3,93.2Z" fill="#fef7f7" stroke="#5c5b5b"/><path d="M189.4,99.1 L191.8,98.2 L189.5,95.7 L187.1,96.5Z" fill="#fef7f7" stroke="#5c5c5c"/><path d="M208.5,102.1 L211.0,101.3 L208.6,98.9 L206.2,99.8Z" fill="#ffffff" stroke="#5c5c5c"/><path d="M227.9,104.5 L230.4,103.6 L228.0,101.3 L225.5,102.3Z" fill="#ffffff" stroke="#5c5c5c"/><path d="M182.3,98.2 L184.7,97.4 L182.4,94.9 L180.0,95.7Z" fill="#fef6f6" stroke="#5c5b5b"/><path d="M201.3,101.5 L203.7,100.6 L201.4,98.2 L199.0,99.1Z" fill="#ffffff" stroke="#5c5c5c"/><path d="M220.6,104.1 L223.1,103.2 L220.7,100.9 L218.2,101.8Z" fill="#ffffff" stroke="#5c5c5c"/><path d="M175.2,97.3 L177.6,96.5 L175.4,94.1 L173.0,94.9Z" fill="#fef6f6" stroke="#5c5b5b"/><path d="M194.1,100.7 L196.6,99.9 L194.3,97.4 L191.8,98.2Z" fill="#fffefe" stroke="#5c5c5c"/><path d="M213.3,103.6 L215.8,102.7 L213.4,100.4 L211.0,101.3Z" fill="#ffffff" stroke="#5c5c5c"/><path d="M187.0,99.9 L189.4,99.1 L187.1,96.5 L184.7,97.4Z" fill="#fef9f9" stroke="#5c5c5c"/><path d="M206.1,103.0 L208.5,102.1 L206.2,99.8 L203.7,100.6Z" fill="#ffffff" stroke="#5c5c5c"/><path d="M225.4,105.5 L227.9,104.5 L225.5,102.3 L223.1,103.2Z" fill="#ffffff" stroke="#5c5c5c"/><path d="M179.9,99.0 L182.3,98.2 L180.0,95.7 L177.6,96.5Z" fill="#fef7f7" stroke="#5c5b5b"/><path d="M198.9,102.3 L201.3,101.5 L199.0,99.1 L196.6,99.9Z" fill="#ffffff" stroke="#5c5c5c"/><path d="M218.1,105.0 L220.6,104.1 L218.2,101.8 L215.8,102.7Z" fill="#ffffff" stroke="#5c5c5c"/><path d="M191.7,101.5 L194.1,100.7 L191.8,98.2 L189.4,99.1Z" fill="#ffffff" stroke="#5c5c5c"/><path d="M172.8,98.1 L175.2,97.3 L173.0,94.9 L170.6,95.6Z" fill="#fef7f7" stroke="#5c5c5c"/><path d="M210.8,104.5 L213.3,103.6 L211.0,101.3 L208.5,102.1Z" fill="#ffffff" stroke="#5c5c5c"/><path d="M184.6,100.7 L187.0,99.9 L184.7,97.4 L182.3,98.2Z" fill="#fefafa" stroke="#5c5c5c"/><path d="M203.6,103.8 L206.1,103.0 L203.7,100.6 L201.3,101.5Z" fill="#ffffff" stroke="#5c5c5c"/><path d="M222.9,106.4 L225.4,105.5 L223.1,103.2 L220.6,104.1Z" fill="#ffffff" stroke="#5c5c5c"/><path d="M177.5,99.8 L179.9,99.0 L177.6,96.5 L175.2,97.3Z" fill="#fef8f8" stroke="#5c5c5c"/><path d="M215.6,105.9 L218.1,105.0 L215.8,102.7 L213.3,103.6Z" fill="#ffffff" stroke="#5c5c5c"/><path d="M196.4,103.1 L198.9,102.3 L196.6,99.9 L194.1,100.7Z" fill="#ffffff" stroke="#5c5c5c"/><path d="M189.3,102.3 L191.7,101.5 L189.4,99.1 L187.0,99.9Z" fill="#ffffff" stroke="#5c5c5c"/><path d="M208.4,105.3 L210.8,104.5 L208.5,102.1 L206.1,103.0Z" fill="#ffffff" stroke="#5c5c5c"/><path d="M182.1,101.5 L184.6,100.7 L182.3,98.2 L179.9,99.0Z" fill="#fefafa" stroke="#5c5c5c"/><path d="M201.2,104.7 L203.6,103.8 L201.3,101.5 L198.9,102.3Z" fill="#ffffff" stroke="#5c5c5c"/><path d="M220.5,107.3 L222.9,106.4 L220.6,104.1 L218.1,105.0Z" fill="#ffffff" stroke="#5c5c5c"/><path d="M175.1,100.6 L177.5,99.8 L175.2,97.3 L172.8,98.1Z" fill="#fef8f8" stroke="#5c5c5c"/><path d="M213.2,106.8 L215.6,105.9 L213.3,103.6 L210.8,104.5Z" fill="#ffffff" stroke="#5c5c5c"/><path d="M194.0,103.9 L196.4,103.1 L194.1,100.7 L191.7,101.5Z" fill="#ffffff" stroke="#5c5c5c"/><path d="M186.8,103.1 L189.3,102.3 L187.0,99.9 L184.6,100.7Z" fill="#ffffff" stroke="#5c5c5c"/><path d="M205.9,106.2 L208.4,105.3 L206.1,103.0 L203.6,103.8Z" fill="#ffffff" stroke="#5c5c5c"/><path d="M179.7,102.3 L182.1,101.5 L179.9,99.0 L177.5,99.8Z" fill="#fefafa" stroke="#5c5c5c"/><path d="M198.7,105.5 L201.2,104.7 L198.9,102.3 L196.4,103.1Z" fill="#ffffff" stroke="#5c5c5c"/><path d="M218.0,108.2 L220.5,107.3 L218.1,105.0 L215.6,105.9Z" fill="#ffffff" stroke="#5c5c5c"/><path d="M191.5,104.7 L194.0,103.9 L191.7,101.5 L189.3,102.3Z" fill="#ffffff" stroke="#5c5c5c"/><path d="M210.7,107.7 L213.2,106.8 L210.8,104.5 L208.4,105.3Z" fill="#ffffff" stroke="#5c5c5c"/><path d="M184.4,103.9 L186.8,103.1 L184.6,100.7 L182.1,101.5Z" fill="#ffffff" stroke="#5c5c5c"/><path d="M203.5,107.0 L205.9,106.2 L203.6,103.8 L201.2,104.7Z" fill="#ffffff" stroke="#5c5c5c"/><path d="M177.3,103.1 L179.7,102.3 L177.5,99.8 L175.1,100.6Z" fill="#fefafa" stroke="#5c5c5c"/><path d="M196.3,106.3 L198.7,105.5 L196.4,103.1 L194.0,103.9Z" fill="#ffffff" stroke="#5c5c5c"/><path d="M215.5,109.1 L218.0,108.2 L215.6,105.9 L213.2,106.8Z" fill="#ffffff" stroke="#5c5c5c"/><path d="M208.2,108.5 L210.7,107.7 L208.4,105.3 L205.9,106.2Z" fill="#ffffff" stroke="#5c5c5c"/><path d="M189.1,105.6 L191.5,104.7 L189.3,102.3 L186.8,103.1Z" fill="#ffffff" stroke="#5c5c5c"/><path d="M182.0,104.7 L184.4,103.9 L182.1,101.5 L179.7,102.3Z" fill="#fffdfd" stroke="#5c5c5c"/><path d="M201.0,107.9 L203.5,107.0 L201.2,104.7 L198.7,105.5Z" fill="#ffffff" stroke="#5c5c5c"/><path d="M193.8,107.1 L196.3,106.3 L194.0,103.9 L191.5,104.7Z" fill="#ffffff" stroke="#5c5c5c"/><path d="M213.0,110.0 L215.5,109.1 L213.2,106.8 L210.7,107.7Z" fill="#ffffff" stroke="#5c5c5c"/><path d="M186.6,106.4 L189.1,105.6 L186.8,103.1 L184.4,103.9Z" fill="#ffffff" stroke="#5c5c5c"/><path d="M205.8,109.4 L208.2,108.5 L205.9,106.2 L203.5,107.0Z" fill="#ffffff" stroke="#5c5c5c"/><path d="M179.5,105.5 L182.0,104.7 L179.7,102.3 L177.3,103.1Z" fill="#fffcfc" stroke="#5c5c5c"/><path d="M198.5,108.7 L201.0,107.9 L198.7,105.5 L196.3,106.3Z" fill="#ffffff" stroke="#5c5c5c"/><path d="M191.4,108.0 L193.8,107.1 L191.5,104.7 L189.1,105.6Z" fill="#ffffff" stroke="#5c5c5c"/><path d="M210.5,110.9 L213.0,110.0 L210.7,107.7 L208.2,108.5Z" fill="#ffffff" stroke="#5c5c5c"/><path d="M184.2,107.2 L186.6,106.4 L184.4,103.9 L182.0,104.7Z" fill="#ffffff" stroke="#5c5c5c"/><path d="M203.3,110.2 L205.8,109.4 L203.5,107.0 L201.0,107.9Z" fill="#ffffff" stroke="#5c5c5c"/><path d="M196.1,109.5 L198.5,108.7 L196.3,106.3 L193.8,107.1Z" fill="#ffffff" stroke="#5c5c5c"/><path d="M188.9,108.8 L191.4,108.0 L189.1,105.6 L186.6,106.4Z" fill="#ffffff" stroke="#5c5c5c"/><path d="M208.1,111.7 L210.5,110.9 L208.2,108.5 L205.8,109.4Z" fill="#ffffff" stroke="#5c5c5c"/><path d="M181.8,108.0 L184.2,107.2 L182.0,104.7 L179.5,105.5Z" fill="#fffefe" stroke="#5c5c5c"/><path d="M200.8,111.1 L203.3,110.2 L201.0,107.9 L198.5,108.7Z" fill="#ffffff" stroke="#5c5c5c"/><path d="M193.6,110.4 L196.1,109.5 L193.8,107.1 L191.4,108.0Z" fill="#ffffff" stroke="#5c5c5c"/><path d="M186.4,109.6 L188.9,108.8 L186.6,106.4 L184.2,107.2Z" fill="#ffffff" stroke="#5c5c5c"/><path d="M205.6,112.6 L208.1,111.7 L205.8,109.4 L203.3,110.2Z" fill="#ffffff" stroke="#5c5c5c"/><path d="M198.4,111.9 L200.8,111.1 L198.5,108.7 L196.1,109.5Z" fill="#ffffff" stroke="#5c5c5c"/><path d="M191.2,111.2 L193.6,110.4 L191.4,108.0 L188.9,108.8Z" fill="#ffffff" stroke="#5c5c5c"/><path d="M184.0,110.4 L186.4,109.6 L184.2,107.2 L181.8,108.0Z" fill="#ffffff" stroke="#5c5c5c"/><path d="M203.1,113.5 L205.6,112.6 L203.3,110.2 L200.8,111.1Z" fill="#ffffff" stroke="#5c5c5c"/><path d="M195.9,112.8 L198.4,111.9 L196.1,109.5 L193.6,110.4Z" fill="#ffffff" stroke="#5c5c5c"/><path d="M188.7,112.0 L191.2,111.2 L188.9,108.8 L186.4,109.6Z" fill="#ffffff" stroke="#5c5c5c"/><path d="M200.6,114.3 L203.1,113.5 L200.8,111.1 L198.4,111.9Z" fill="#ffffff" stroke="#5c5c5c"/><path d="M193.4,113.6 L195.9,112.8 L193.6,110.4 L191.2,111.2Z" fill="#ffffff" stroke="#5c5c5c"/><path d="M186.2,112.9 L188.7,112.0 L186.4,109.6 L184.0,110.4Z" fill="#ffffff" stroke="#5c5c5c"/><path d="M198.1,115.2 L200.6,114.3 L198.4,111.9 L195.9,112.8Z" fill="#ffffff" stroke="#5c5c5c"/><path d="M190.9,114.5 L193.4,113.6 L191.2,111.2 L188.7,112.0Z" fill="#ffffff" stroke="#5c5c5c"/><path d="M195.7,116.1 L198.1,115.2 L195.9,112.8 L193.4,113.6Z" fill="#ffffff" stroke="#5c5c5c"/><path d="M188.5,115.3 L190.9,114.5 L188.7,112.0 L186.2,112.9Z" fill="#ffffff" stroke="#5c5c5c"/><path d="M193.2,116.9 L195.7,116.1 L193.4,113.6 L190.9,114.5Z" fill="#ffffff" stroke="#5c5c5c"/><path d="M190.7,117.8 L193.2,116.9 L190.9,114.5 L188.5,115.3Z" fill="#ffffff" stroke="#5c5c5c"/></g>
<line x1="293.10" y1="111.50" x2="339.30" y2="96.00" stroke="#cfcfcf" stroke-width="0.6" stroke-dasharray="1.2,1.2"/>
<line x1="339.30" y1="96.00" x2="365.40" y2="123.30" stroke="#cfcfcf" stroke-width="0.6" stroke-dasharray="1.2,1.2"/>
<line x1="339.30" y1="96.00" x2="339.10" y2="51.90" stroke="#cfcfcf" stroke-width="0.6" stroke-dasharray="1.2,1.2"/>
<line x1="290.60" y1="64.40" x2="339.10" y2="51.90" stroke="#bdbdbd" stroke-width="0.65"/>
<line x1="339.10" y1="51.90" x2="371.40" y2="75.30" stroke="#bdbdbd" stroke-width="0.65"/>
<line x1="290.60" y1="64.40" x2="318.60" y2="93.60" stroke="#bdbdbd" stroke-width="0.65"/>
<line x1="318.60" y1="93.60" x2="371.40" y2="75.30" stroke="#bdbdbd" stroke-width="0.65"/>
<line x1="290.60" y1="64.40" x2="293.10" y2="111.50" stroke="#bdbdbd" stroke-width="0.65"/>
<line x1="371.40" y1="75.30" x2="365.40" y2="123.30" stroke="#bdbdbd" stroke-width="0.65"/>
<line x1="293.10" y1="111.50" x2="318.80" y2="141.00" stroke="#bdbdbd" stroke-width="0.65"/>
<line x1="318.80" y1="141.00" x2="365.40" y2="123.30" stroke="#bdbdbd" stroke-width="0.65"/>
<line x1="318.60" y1="93.60" x2="318.80" y2="141.00" stroke="#bdbdbd" stroke-width="0.65"/>
<g stroke-width="0.5" stroke-linejoin="round"><path d="M339.3,71.5 L341.7,70.4 L339.2,67.8 L336.8,68.8Z" fill="#ffffff" stroke="#5c5c5c"/><path d="M336.9,73.0 L339.3,71.5 L336.8,68.8 L334.4,70.5Z" fill="#ffffff" stroke="#5c5c5c"/><path d="M341.7,74.9 L344.1,74.0 L341.7,70.4 L339.3,71.5Z" fill="#ffffff" stroke="#5c5c5c"/><path d="M334.5,74.9 L336.9,73.0 L334.4,70.5 L332.1,72.4Z" fill="#ffffff" stroke="#5c5c5c"/><path d="M339.3,76.2 L341.7,74.9 L339.3,71.5 L336.9,73.0Z" fill="#ffffff" stroke="#5c5c5c"/><path d="M332.1,76.8 L334.5,74.9 L332.1,72.4 L329.7,74.5Z" fill="#ffffff" stroke="#5c5c5c"/><path d="M344.2,78.5 L346.6,77.9 L344.1,74.0 L341.7,74.9Z" fill="#ffffff" stroke="#5c5c5c"/><path d="M336.9,77.8 L339.3,76.2 L336.9,73.0 L334.5,74.9Z" fill="#ffffff" stroke="#5c5c5c"/><path d="M329.7,78.4 L332.1,76.8 L329.7,74.5 L327.3,76.3Z" fill="#ffffff" stroke="#5c5c5c"/><path d="M341.8,79.3 L344.2,78.5 L341.7,74.9 L339.3,76.2Z" fill="#fffefe" stroke="#5c5c5c"/><path d="M334.5,79.2 L336.9,77.8 L334.5,74.9 L332.1,76.8Z" fill="#fffefe" stroke="#5c5c5c"/><path d="M327.4,79.7 L329.7,78.4 L327.3,76.3 L325.0,77.8Z" fill="#fffefe" stroke="#5c5c5c"/><path d="M346.6,81.1 L349.0,81.3 L346.6,77.9 L344.2,78.5Z" fill="#fffdfd" stroke="#5c5c5c"/><path d="M339.4,80.2 L341.8,79.3 L339.3,76.2 L336.9,77.8Z" fill="#fffdfd" stroke="#5c5c5c"/><path d="M332.1,80.3 L334.5,79.2 L332.1,76.8 L329.7,78.4Z" fill="#fffdfd" stroke="#5c5c5c"/><path d="M325.0,80.6 L327.4,79.7 L325.0,77.8 L322.6,78.9Z" fill="#fffdfd" stroke="#5c5c5c"/><path d="M344.2,81.3 L346.6,81.1 L344.2,78.5 L341.8,79.3Z" fill="#fefafa" stroke="#5c5c5c"/><path d="M336.9,80.9 L339.4,80.2 L336.9,77.8 L334.5,79.2Z" fill="#fefbfb" stroke="#5c5c5c"/><path d="M329.7,81.1 L332.1,80.3 L329.7,78.4 L327.4,79.7Z" fill="#fffbfb" stroke="#5c5c5c"/><path d="M349.1,81.9 L351.4,84.0 L349.0,81.3 L346.6,81.1Z" fill="#fef8f8" stroke="#5c5c5c"/><path d="M322.6,81.1 L325.0,80.6 L322.6,78.9 L320.3,79.7Z" fill="#fffcfc" stroke="#5c5c5c"/><path d="M341.8,81.3 L344.2,81.3 L341.8,79.3 L339.4,80.2Z" fill="#fef6f6" stroke="#5c5b5b"/><path d="M334.5,81.3 L336.9,80.9 L334.5,79.2 L332.1,80.3Z" fill="#fef7f7" stroke="#5c5c5c"/><path d="M327.3,81.4 L329.7,81.1 L327.4,79.7 L325.0,80.6Z" fill="#fef9f9" stroke="#5c5c5c"/><path d="M346.7,81.2 L349.1,81.9 L346.6,81.1 L344.2,81.3Z" fill="#fdeeee" stroke="#5d5a5a"/><path d="M320.2,81.2 L322.6,81.1 L320.3,79.7 L317.9,80.3Z" fill="#fefafa" stroke="#5c5c5c"/><path d="M339.4,81.0 L341.8,81.3 L339.4,80.2 L336.9,80.9Z" fill="#fdf0f0" stroke="#5d5b5b"/><path d="M332.1,81.2 L334.5,81.3 L332.1,80.3 L329.7,81.1Z" fill="#fef2f2" stroke="#5c5b5b"/><path d="M351.8,80.1 L353.9,85.6 L351.4,84.0 L349.1,81.9Z" fill="#fdeaea" stroke="#5d5a5a"/><path d="M324.9,81.3 L327.3,81.4 L325.0,80.6 L322.6,81.1Z" fill="#fef4f4" stroke="#5c5b5b"/><path d="M344.4,80.2 L346.7,81.2 L344.2,81.3 L341.8,81.3Z" fill="#fce4e4" stroke="#5d5959"/><path d="M317.8,81.1 L320.2,81.2 L317.9,80.3 L315.5,80.6Z" fill="#fef6f6" stroke="#5c5b5b"/><path d="M337.0,80.4 L339.4,81.0 L336.9,80.9 L334.5,81.3Z" fill="#fce8e8" stroke="#5d5a5a"/><path d="M329.7,80.7 L332.1,81.2 L329.7,81.1 L327.3,81.4Z" fill="#fdebeb" stroke="#5d5a5a"/><path d="M349.5,78.4 L351.8,80.1 L349.1,81.9 L346.7,81.2Z" fill="#fad2d2" stroke="#5f5555"/><path d="M322.5,80.8 L324.9,81.3 L322.6,81.1 L320.2,81.2Z" fill="#fdeeee" stroke="#5d5a5a"/><path d="M342.0,78.9 L344.4,80.2 L341.8,81.3 L339.4,81.0Z" fill="#fad7d7" stroke="#5e5757"/><path d="M315.4,80.8 L317.8,81.1 L315.5,80.6 L313.1,80.8Z" fill="#fdf1f1" stroke="#5d5b5b"/><path d="M334.6,79.4 L337.0,80.4 L334.5,81.3 L332.1,81.2Z" fill="#fbdddd" stroke="#5e5858"/><path d="M354.7,75.9 L356.4,86.3 L353.9,85.6 L351.8,80.1Z" fill="#f9cece" stroke="#5f5555"/><path d="M327.3,79.9 L329.7,80.7 L327.3,81.4 L324.9,81.3Z" fill="#fce2e2" stroke="#5e5959"/><path d="M347.1,76.7 L349.5,78.4 L346.7,81.2 L344.4,80.2Z" fill="#f8bfbf" stroke="#615151"/><path d="M320.1,80.2 L322.5,80.8 L320.2,81.2 L317.8,81.1Z" fill="#fce6e6" stroke="#5d5959"/><path d="M339.6,77.5 L342.0,78.9 L339.4,81.0 L337.0,80.4Z" fill="#f9c7c7" stroke="#605353"/><path d="M313.0,80.4 L315.4,80.8 L313.1,80.8 L310.7,80.8Z" fill="#fdebeb" stroke="#5d5a5a"/><path d="M332.2,78.3 L334.6,79.4 L332.1,81.2 L329.7,80.7Z" fill="#f9cfcf" stroke="#5f5555"/><path d="M352.4,74.1 L354.7,75.9 L351.8,80.1 L349.5,78.4Z" fill="#f4a0a0" stroke="#654949"/><path d="M324.9,79.0 L327.3,79.9 L324.9,81.3 L322.5,80.8Z" fill="#fad6d6" stroke="#5f5656"/><path d="M344.7,75.2 L347.1,76.7 L344.4,80.2 L342.0,78.9Z" fill="#f5abab" stroke="#634c4c"/><path d="M317.7,79.5 L320.1,80.2 L317.8,81.1 L315.4,80.8Z" fill="#fbdddd" stroke="#5e5858"/><path d="M337.2,76.3 L339.6,77.5 L337.0,80.4 L334.6,79.4Z" fill="#f6b5b5" stroke="#624f4f"/><path d="M357.8,71.2 L359.0,86.4 L356.4,86.3 L354.7,75.9Z" fill="#f4a3a3" stroke="#644a4a"/><path d="M310.6,80.0 L313.0,80.4 L310.7,80.8 L308.3,80.7Z" fill="#fce4e4" stroke="#5d5959"/><path d="M329.8,77.3 L332.2,78.3 L329.7,80.7 L327.3,79.9Z" fill="#f8bfbf" stroke="#615151"/><path d="M350.0,72.7 L352.4,74.1 L349.5,78.4 L347.1,76.7Z" fill="#f18888" stroke="#684141"/><path d="M322.5,78.2 L324.9,79.0 L322.5,80.8 L320.1,80.2Z" fill="#f9c9c9" stroke="#605454"/><path d="M342.3,74.1 L344.7,75.2 L342.0,78.9 L339.6,77.5Z" fill="#f39696" stroke="#664646"/><path d="M315.3,79.0 L317.7,79.5 L315.4,80.8 L313.0,80.4Z" fill="#fad3d3" stroke="#5f5656"/><path d="M334.8,75.4 L337.2,76.3 L334.6,79.4 L332.2,78.3Z" fill="#f4a3a3" stroke="#644a4a"/><path d="M355.4,70.5 L357.8,71.2 L354.7,75.9 L352.4,74.1Z" fill="#ed6161" stroke="#6f3333"/><path d="M327.3,76.6 L329.8,77.3 L327.3,79.9 L324.9,79.0Z" fill="#f6b0b0" stroke="#634d4d"/><path d="M347.6,72.1 L350.0,72.7 L347.1,76.7 L344.7,75.2Z" fill="#ef7272" stroke="#6c3a3a"/><path d="M308.1,79.9 L310.6,80.0 L308.3,80.7 L305.9,80.5Z" fill="#fbdcdc" stroke="#5e5858"/><path d="M320.0,77.8 L322.5,78.2 L320.1,80.2 L317.7,79.5Z" fill="#f7bdbd" stroke="#615151"/><path d="M339.9,73.7 L342.3,74.1 L339.6,77.5 L337.2,76.3Z" fill="#f18383" stroke="#693f3f"/><path d="M360.8,69.1 L361.7,86.8 L359.0,86.4 L357.8,71.2Z" fill="#ef7979" stroke="#6b3c3c"/><path d="M312.8,78.9 L315.3,79.0 L313.0,80.4 L310.6,80.0Z" fill="#f9c9c9" stroke="#605454"/><path d="M332.3,75.1 L334.8,75.4 L332.2,78.3 L329.8,77.3Z" fill="#f29393" stroke="#674545"/><path d="M352.9,70.9 L355.4,70.5 L352.4,74.1 L350.0,72.7Z" fill="#eb4f4f" stroke="#722c2c"/><path d="M345.0,72.5 L347.6,72.1 L344.7,75.2 L342.3,74.1Z" fill="#ed6262" stroke="#6e3434"/><path d="M305.7,80.2 L308.1,79.9 L305.9,80.5 L303.5,80.5Z" fill="#fad6d6" stroke="#5f5656"/><path d="M324.9,76.5 L327.3,76.6 L324.9,79.0 L322.5,78.2Z" fill="#f4a3a3" stroke="#644a4a"/><path d="M317.6,77.9 L320.0,77.8 L317.7,79.5 L315.3,79.0Z" fill="#f6b2b2" stroke="#624e4e"/><path d="M337.4,74.1 L339.9,73.7 L337.2,76.3 L334.8,75.4Z" fill="#ef7575" stroke="#6b3b3b"/><path d="M358.2,70.6 L360.8,69.1 L357.8,71.2 L355.4,70.5Z" fill="#e73131" stroke="#782020"/><path d="M310.4,79.4 L312.8,78.9 L310.6,80.0 L308.1,79.9Z" fill="#f8c2c2" stroke="#615252"/><path d="M329.8,75.7 L332.3,75.1 L329.8,77.3 L327.3,76.6Z" fill="#f18787" stroke="#684141"/><path d="M350.3,72.4 L352.9,70.9 L350.0,72.7 L347.6,72.1Z" fill="#ea4646" stroke="#742929"/><path d="M303.4,81.1 L305.7,80.2 L303.5,80.5 L301.1,80.9Z" fill="#fad3d3" stroke="#5f5656"/><path d="M322.4,77.2 L324.9,76.5 L322.5,78.2 L320.0,77.8Z" fill="#f39999" stroke="#664747"/><path d="M342.5,74.0 L345.0,72.5 L342.3,74.1 L339.9,73.7Z" fill="#ec5a5a" stroke="#703131"/><path d="M363.5,71.5 L364.2,88.4 L361.7,86.8 L360.8,69.1Z" fill="#ed6565" stroke="#6e3535"/><path d="M315.2,78.8 L317.6,77.9 L315.3,79.0 L312.8,78.9Z" fill="#f5acac" stroke="#634c4c"/><path d="M334.8,75.5 L337.4,74.1 L334.8,75.4 L332.3,75.1Z" fill="#ee6e6e" stroke="#6c3838"/><path d="M355.5,73.2 L358.2,70.6 L355.4,70.5 L352.9,70.9Z" fill="#e73232" stroke="#772020"/><path d="M308.0,80.6 L310.4,79.4 L308.1,79.9 L305.7,80.2Z" fill="#f8c0c0" stroke="#615151"/><path d="M327.3,77.1 L329.8,75.7 L327.3,76.6 L324.9,76.5Z" fill="#f08282" stroke="#693f3f"/><path d="M347.6,74.7 L350.3,72.4 L347.6,72.1 L345.0,72.5Z" fill="#ea4747" stroke="#732929"/><path d="M301.0,82.8 L303.4,81.1 L301.1,80.9 L298.8,81.8Z" fill="#fad5d5" stroke="#5f5656"/><path d="M320.0,78.6 L322.4,77.2 L320.0,77.8 L317.6,77.9Z" fill="#f39696" stroke="#664646"/><path d="M339.9,76.2 L342.5,74.0 L339.9,73.7 L337.4,74.1Z" fill="#ec5b5b" stroke="#703131"/><path d="M360.6,74.9 L363.5,71.5 L360.8,69.1 L358.2,70.6Z" fill="#e62a2a" stroke="#791d1d"/><path d="M312.7,80.4 L315.2,78.8 L312.8,78.9 L310.4,79.4Z" fill="#f5abab" stroke="#634c4c"/><path d="M332.3,77.7 L334.8,75.5 L332.3,75.1 L329.8,75.7Z" fill="#ee6f6f" stroke="#6c3939"/><path d="M352.7,76.4 L355.5,73.2 L352.9,70.9 L350.3,72.4Z" fill="#e93e3e" stroke="#752525"/><path d="M305.6,82.5 L308.0,80.6 L305.7,80.2 L303.4,81.1Z" fill="#f8c2c2" stroke="#615252"/><path d="M324.9,79.2 L327.3,77.1 L324.9,76.5 L322.4,77.2Z" fill="#f18484" stroke="#694040"/><path d="M344.9,77.7 L347.6,74.7 L345.0,72.5 L342.5,74.0Z" fill="#eb5151" stroke="#712d2d"/><path d="M365.7,77.6 L366.7,91.2 L364.2,88.4 L363.5,71.5Z" fill="#ee6f6f" stroke="#6c3939"/><path d="M298.7,85.1 L301.0,82.8 L298.8,81.8 L296.4,83.3Z" fill="#fbdcdc" stroke="#5e5858"/><path d="M317.5,80.8 L320.0,78.6 L317.6,77.9 L315.2,78.8Z" fill="#f39a9a" stroke="#664747"/><path d="M337.3,79.1 L339.9,76.2 L337.4,74.1 L334.8,75.5Z" fill="#ed6565" stroke="#6e3535"/><path d="M357.8,78.9 L360.6,74.9 L358.2,70.6 L355.5,73.2Z" fill="#e93f3f" stroke="#752626"/><path d="M310.3,82.6 L312.7,80.4 L310.4,79.4 L308.0,80.6Z" fill="#f6b1b1" stroke="#634e4e"/><path d="M329.8,80.4 L332.3,77.7 L329.8,75.7 L327.3,77.1Z" fill="#ef7979" stroke="#6b3c3c"/><path d="M350.0,80.0 L352.7,76.4 L350.3,72.4 L347.6,74.7Z" fill="#eb5151" stroke="#722d2d"/><path d="M303.3,84.9 L305.6,82.5 L303.4,81.1 L301.0,82.8Z" fill="#f9cbcb" stroke="#605454"/><path d="M322.4,81.8 L324.9,79.2 L322.4,77.2 L320.0,78.6Z" fill="#f28e8e" stroke="#674343"/><path d="M342.3,81.2 L344.9,77.7 L342.5,74.0 L339.9,76.2Z" fill="#ed6363" stroke="#6e3434"/><path d="M362.8,82.0 L365.7,77.6 L363.5,71.5 L360.6,74.9Z" fill="#ea4949" stroke="#732a2a"/><path d="M334.7,82.3 L337.3,79.1 L334.8,75.5 L332.3,77.7Z" fill="#ef7575" stroke="#6b3b3b"/><path d="M296.4,88.0 L298.7,85.1 L296.4,83.3 L294.1,85.7Z" fill="#fce8e8" stroke="#5d5a5a"/><path d="M354.9,83.0 L357.8,78.9 L355.5,73.2 L352.7,76.4Z" fill="#ec5959" stroke="#703030"/><path d="M315.1,83.3 L317.5,80.8 L315.2,78.8 L312.7,80.4Z" fill="#f4a4a4" stroke="#644a4a"/><path d="M308.0,85.2 L310.3,82.6 L308.0,80.6 L305.6,82.5Z" fill="#f7bcbc" stroke="#615151"/><path d="M327.3,83.4 L329.8,80.4 L327.3,77.1 L324.9,79.2Z" fill="#f18888" stroke="#684141"/><path d="M347.2,83.9 L350.0,80.0 L347.6,74.7 L344.9,77.7Z" fill="#ee6969" stroke="#6d3636"/><path d="M367.6,85.7 L369.0,94.9 L366.7,91.2 L365.7,77.6Z" fill="#f28f8f" stroke="#674343"/><path d="M301.0,87.7 L303.3,84.9 L301.0,82.8 L298.7,85.1Z" fill="#fad8d8" stroke="#5e5757"/><path d="M319.9,84.7 L322.4,81.8 L320.0,78.6 L317.5,80.8Z" fill="#f49c9c" stroke="#654848"/><path d="M339.6,84.8 L342.3,81.2 L339.9,76.2 L337.3,79.1Z" fill="#ef7979" stroke="#6b3c3c"/><path d="M359.8,86.4 L362.8,82.0 L360.6,74.9 L357.8,78.9Z" fill="#ee6868" stroke="#6d3636"/><path d="M332.1,85.7 L334.7,82.3 L332.3,77.7 L329.8,80.4Z" fill="#f18989" stroke="#684242"/><path d="M294.1,91.3 L296.4,88.0 L294.1,85.7 L291.9,88.9Z" fill="#fef8f8" stroke="#5c5c5c"/><path d="M312.7,86.2 L315.1,83.3 L312.7,80.4 L310.3,82.6Z" fill="#f6b2b2" stroke="#624e4e"/><path d="M352.1,87.1 L354.9,83.0 L352.7,76.4 L350.0,80.0Z" fill="#ef7575" stroke="#6b3b3b"/><path d="M305.6,88.1 L308.0,85.2 L305.6,82.5 L303.3,84.9Z" fill="#f9cbcb" stroke="#605454"/><path d="M324.8,86.6 L327.3,83.4 L324.9,79.2 L322.4,81.8Z" fill="#f39b9b" stroke="#664747"/><path d="M344.5,87.8 L347.2,83.9 L344.9,77.7 L342.3,81.2Z" fill="#f18383" stroke="#693f3f"/><path d="M364.7,90.0 L367.6,85.7 L365.7,77.6 L362.8,82.0Z" fill="#f07d7d" stroke="#6a3d3d"/><path d="M298.7,90.8 L301.0,87.7 L298.7,85.1 L296.4,88.0Z" fill="#fce8e8" stroke="#5d5a5a"/><path d="M357.0,90.5 L359.8,86.4 L357.8,78.9 L354.9,83.0Z" fill="#f18787" stroke="#684141"/><path d="M317.5,87.7 L319.9,84.7 L317.5,80.8 L315.1,83.3Z" fill="#f6aeae" stroke="#634d4d"/><path d="M337.0,88.4 L339.6,84.8 L337.3,79.1 L334.7,82.3Z" fill="#f29090" stroke="#674444"/><path d="M310.3,89.1 L312.7,86.2 L310.3,82.6 L308.0,85.2Z" fill="#f8c3c3" stroke="#605252"/><path d="M329.6,89.1 L332.1,85.7 L329.8,80.4 L327.3,83.4Z" fill="#f49f9f" stroke="#654848"/><path d="M349.4,91.0 L352.1,87.1 L350.0,80.0 L347.2,83.9Z" fill="#f29292" stroke="#674444"/><path d="M303.3,91.0 L305.6,88.1 L303.3,84.9 L301.0,87.7Z" fill="#fbdcdc" stroke="#5e5858"/><path d="M322.3,89.8 L324.8,86.6 L322.4,81.8 L319.9,84.7Z" fill="#f6afaf" stroke="#634d4d"/><path d="M341.9,91.4 L344.5,87.8 L342.3,81.2 L339.6,84.8Z" fill="#f49d9d" stroke="#654848"/><path d="M361.8,94.0 L364.7,90.0 L362.8,82.0 L359.8,86.4Z" fill="#f49c9c" stroke="#654848"/><path d="M296.4,93.8 L298.7,90.8 L296.4,88.0 L294.1,91.3Z" fill="#fef8f8" stroke="#5c5c5c"/><path d="M315.1,90.7 L317.5,87.7 L315.1,83.3 L312.7,86.2Z" fill="#f8c0c0" stroke="#615151"/><path d="M354.2,94.3 L357.0,90.5 L354.9,83.0 L352.1,87.1Z" fill="#f4a4a4" stroke="#644a4a"/><path d="M334.4,91.8 L337.0,88.4 L334.7,82.3 L332.1,85.7Z" fill="#f5a8a8" stroke="#644b4b"/><path d="M307.9,91.9 L310.3,89.1 L308.0,85.2 L305.6,88.1Z" fill="#fad4d4" stroke="#5f5656"/><path d="M327.1,92.2 L329.6,89.1 L327.3,83.4 L324.8,86.6Z" fill="#f6b5b5" stroke="#624f4f"/><path d="M346.7,94.5 L349.4,91.0 L347.2,83.9 L344.5,87.8Z" fill="#f5acac" stroke="#634c4c"/><path d="M300.9,93.7 L303.3,91.0 L301.0,87.7 L298.7,90.8Z" fill="#fdecec" stroke="#5d5a5a"/><path d="M319.8,92.7 L322.3,89.8 L319.9,84.7 L317.5,87.7Z" fill="#f8c2c2" stroke="#615252"/><path d="M339.3,94.6 L341.9,91.4 L339.6,84.8 L337.0,88.4Z" fill="#f6b5b5" stroke="#624f4f"/><path d="M359.0,97.4 L361.8,94.0 L359.8,86.4 L357.0,90.5Z" fill="#f7b7b7" stroke="#624f4f"/><path d="M312.6,93.4 L315.1,90.7 L312.7,86.2 L310.3,89.1Z" fill="#fad2d2" stroke="#5f5656"/><path d="M331.9,94.8 L334.4,91.8 L332.1,85.7 L329.6,89.1Z" fill="#f7bebe" stroke="#615151"/><path d="M351.5,97.5 L354.2,94.3 L352.1,87.1 L349.4,91.0Z" fill="#f7bdbd" stroke="#615151"/><path d="M305.6,94.5 L307.9,91.9 L305.6,88.1 L303.3,91.0Z" fill="#fce4e4" stroke="#5d5959"/><path d="M324.6,95.1 L327.1,92.2 L324.8,86.6 L322.3,89.8Z" fill="#f9c8c8" stroke="#605353"/><path d="M344.1,97.5 L346.7,94.5 L344.5,87.8 L341.9,91.4Z" fill="#f8c3c3" stroke="#605252"/><path d="M298.6,96.2 L300.9,93.7 L298.7,90.8 L296.4,93.8Z" fill="#fefafa" stroke="#5c5c5c"/><path d="M317.4,95.4 L319.8,92.7 L317.5,87.7 L315.1,90.7Z" fill="#fad4d4" stroke="#5f5656"/><path d="M336.7,97.5 L339.3,94.6 L337.0,88.4 L334.4,91.8Z" fill="#f9caca" stroke="#605454"/><path d="M356.3,100.3 L359.0,97.4 L357.0,90.5 L354.2,94.3Z" fill="#f9cdcd" stroke="#5f5454"/><path d="M310.2,95.9 L312.6,93.4 L310.3,89.1 L307.9,91.9Z" fill="#fce1e1" stroke="#5e5959"/><path d="M329.4,97.5 L331.9,94.8 L329.6,89.1 L327.1,92.2Z" fill="#fad1d1" stroke="#5f5555"/><path d="M348.9,100.2 L351.5,97.5 L349.4,91.0 L346.7,94.5Z" fill="#fad1d1" stroke="#5f5555"/><path d="M303.2,96.8 L305.6,94.5 L303.3,91.0 L300.9,93.7Z" fill="#fdf2f2" stroke="#5c5b5b"/><path d="M322.1,97.5 L324.6,95.1 L322.3,89.8 L319.8,92.7Z" fill="#fbd9d9" stroke="#5e5757"/><path d="M341.5,100.1 L344.1,97.5 L341.9,91.4 L339.3,94.6Z" fill="#fad5d5" stroke="#5f5656"/><path d="M315.0,97.6 L317.4,95.4 L315.1,90.7 L312.6,93.4Z" fill="#fce3e3" stroke="#5d5959"/><path d="M334.2,99.9 L336.7,97.5 L334.4,91.8 L331.9,94.8Z" fill="#fbdada" stroke="#5e5757"/><path d="M353.7,102.7 L356.3,100.3 L354.2,94.3 L351.5,97.5Z" fill="#fbdddd" stroke="#5e5858"/><path d="M307.9,98.0 L310.2,95.9 L307.9,91.9 L305.6,94.5Z" fill="#fdeeee" stroke="#5d5a5a"/><path d="M326.9,99.7 L329.4,97.5 L327.1,92.2 L324.6,95.1Z" fill="#fbe0e0" stroke="#5e5858"/><path d="M346.3,102.5 L348.9,100.2 L346.7,94.5 L344.1,97.5Z" fill="#fbe0e0" stroke="#5e5858"/><path d="M319.7,99.6 L322.1,97.5 L319.8,92.7 L317.4,95.4Z" fill="#fce6e6" stroke="#5d5959"/><path d="M300.8,98.7 L303.2,96.8 L300.9,93.7 L298.6,96.2Z" fill="#fffcfc" stroke="#5c5c5c"/><path d="M338.9,102.2 L341.5,100.1 L339.3,94.6 L336.7,97.5Z" fill="#fce3e3" stroke="#5d5959"/><path d="M312.5,99.6 L315.0,97.6 L312.6,93.4 L310.2,95.9Z" fill="#fdeeee" stroke="#5d5a5a"/><path d="M331.7,101.9 L334.2,99.9 L331.9,94.8 L329.4,97.5Z" fill="#fce7e7" stroke="#5d5959"/><path d="M351.1,104.6 L353.7,102.7 L351.5,97.5 L348.9,100.2Z" fill="#fdeaea" stroke="#5d5a5a"/><path d="M305.5,99.7 L307.9,98.0 L305.6,94.5 L303.2,96.8Z" fill="#fef7f7" stroke="#5c5c5c"/><path d="M343.7,104.3 L346.3,102.5 L344.1,97.5 L341.5,100.1Z" fill="#fdebeb" stroke="#5d5a5a"/><path d="M324.4,101.6 L326.9,99.7 L324.6,95.1 L322.1,97.5Z" fill="#fdebeb" stroke="#5d5a5a"/><path d="M317.3,101.4 L319.7,99.6 L317.4,95.4 L315.0,97.6Z" fill="#fdf0f0" stroke="#5d5b5b"/><path d="M336.4,104.0 L338.9,102.2 L336.7,97.5 L334.2,99.9Z" fill="#fdeeee" stroke="#5d5a5a"/><path d="M310.1,101.2 L312.5,99.6 L310.2,95.9 L307.9,98.0Z" fill="#fef6f6" stroke="#5c5b5b"/><path d="M329.2,103.6 L331.7,101.9 L329.4,97.5 L326.9,99.7Z" fill="#fdf0f0" stroke="#5d5b5b"/><path d="M348.5,106.3 L351.1,104.6 L348.9,100.2 L346.3,102.5Z" fill="#fdf2f2" stroke="#5c5b5b"/><path d="M303.1,101.1 L305.5,99.7 L303.2,96.8 L300.8,98.7Z" fill="#fffdfd" stroke="#5c5c5c"/><path d="M341.2,105.9 L343.7,104.3 L341.5,100.1 L338.9,102.2Z" fill="#fef3f3" stroke="#5c5b5b"/><path d="M322.0,103.2 L324.4,101.6 L322.1,97.5 L319.7,99.6Z" fill="#fef3f3" stroke="#5c5b5b"/><path d="M314.8,102.8 L317.3,101.4 L315.0,97.6 L312.5,99.6Z" fill="#fef7f7" stroke="#5c5b5b"/><path d="M333.9,105.5 L336.4,104.0 L334.2,99.9 L331.7,101.9Z" fill="#fef5f5" stroke="#5c5b5b"/><path d="M307.7,102.5 L310.1,101.2 L307.9,98.0 L305.5,99.7Z" fill="#fffbfb" stroke="#5c5c5c"/><path d="M326.7,105.0 L329.2,103.6 L326.9,99.7 L324.4,101.6Z" fill="#fef6f6" stroke="#5c5b5b"/><path d="M346.0,107.7 L348.5,106.3 L346.3,102.5 L343.7,104.3Z" fill="#fef7f7" stroke="#5c5c5c"/><path d="M319.5,104.5 L322.0,103.2 L319.7,99.6 L317.3,101.4Z" fill="#fef8f8" stroke="#5c5c5c"/><path d="M338.7,107.2 L341.2,105.9 L338.9,102.2 L336.4,104.0Z" fill="#fef8f8" stroke="#5c5c5c"/><path d="M312.4,104.0 L314.8,102.8 L312.5,99.6 L310.1,101.2Z" fill="#fffbfb" stroke="#5c5c5c"/><path d="M331.5,106.7 L333.9,105.5 L331.7,101.9 L329.2,103.6Z" fill="#fef9f9" stroke="#5c5c5c"/><path d="M305.3,103.6 L307.7,102.5 L305.5,99.7 L303.1,101.1Z" fill="#fffefe" stroke="#5c5c5c"/><path d="M324.3,106.2 L326.7,105.0 L324.4,101.6 L322.0,103.2Z" fill="#fefafa" stroke="#5c5c5c"/><path d="M343.5,108.9 L346.0,107.7 L343.7,104.3 L341.2,105.9Z" fill="#fffbfb" stroke="#5c5c5c"/><path d="M336.2,108.4 L338.7,107.2 L336.4,104.0 L333.9,105.5Z" fill="#fffbfb" stroke="#5c5c5c"/><path d="M317.1,105.6 L319.5,104.5 L317.3,101.4 L314.8,102.8Z" fill="#fffcfc" stroke="#5c5c5c"/><path d="M310.0,105.1 L312.4,104.0 L310.1,101.2 L307.7,102.5Z" fill="#fffdfd" stroke="#5c5c5c"/><path d="M329.0,107.9 L331.5,106.7 L329.2,103.6 L326.7,105.0Z" fill="#fffcfc" stroke="#5c5c5c"/><path d="M321.8,107.3 L324.3,106.2 L322.0,103.2 L319.5,104.5Z" fill="#fffdfd" stroke="#5c5c5c"/><path d="M341.0,109.9 L343.5,108.9 L341.2,105.9 L338.7,107.2Z" fill="#fffdfd" stroke="#5c5c5c"/><path d="M314.6,106.7 L317.1,105.6 L314.8,102.8 L312.4,104.0Z" fill="#fffefe" stroke="#5c5c5c"/><path d="M333.8,109.4 L336.2,108.4 L333.9,105.5 L331.5,106.7Z" fill="#fffdfd" stroke="#5c5c5c"/><path d="M307.5,106.0 L310.0,105.1 L307.7,102.5 L305.3,103.6Z" fill="#ffffff" stroke="#5c5c5c"/><path d="M326.5,108.9 L329.0,107.9 L326.7,105.0 L324.3,106.2Z" fill="#fffdfd" stroke="#5c5c5c"/><path d="M319.4,108.2 L321.8,107.3 L319.5,104.5 L317.1,105.6Z" fill="#fffefe" stroke="#5c5c5c"/><path d="M338.5,110.9 L341.0,109.9 L338.7,107.2 L336.2,108.4Z" fill="#fffefe" stroke="#5c5c5c"/><path d="M312.2,107.6 L314.6,106.7 L312.4,104.0 L310.0,105.1Z" fill="#fffefe" stroke="#5c5c5c"/><path d="M331.3,110.4 L333.8,109.4 L331.5,106.7 L329.0,107.9Z" fill="#fffefe" stroke="#5c5c5c"/><path d="M324.1,109.8 L326.5,108.9 L324.3,106.2 L321.8,107.3Z" fill="#fffefe" stroke="#5c5c5c"/><path d="M316.9,109.2 L319.4,108.2 L317.1,105.6 L314.6,106.7Z" fill="#ffffff" stroke="#5c5c5c"/><path d="M336.1,111.9 L338.5,110.9 L336.2,108.4 L333.8,109.4Z" fill="#fffefe" stroke="#5c5c5c"/><path d="M309.8,108.5 L312.2,107.6 L310.0,105.1 L307.5,106.0Z" fill="#ffffff" stroke="#5c5c5c"/><path d="M328.8,111.3 L331.3,110.4 L329.0,107.9 L326.5,108.9Z" fill="#ffffff" stroke="#5c5c5c"/><path d="M321.6,110.7 L324.1,109.8 L321.8,107.3 L319.4,108.2Z" fill="#ffffff" stroke="#5c5c5c"/><path d="M314.5,110.0 L316.9,109.2 L314.6,106.7 L312.2,107.6Z" fill="#ffffff" stroke="#5c5c5c"/><path d="M333.6,112.8 L336.1,111.9 L333.8,109.4 L331.3,110.4Z" fill="#ffffff" stroke="#5c5c5c"/><path d="M326.3,112.2 L328.8,111.3 L326.5,108.9 L324.1,109.8Z" fill="#ffffff" stroke="#5c5c5c"/><path d="M319.2,111.6 L321.6,110.7 L319.4,108.2 L316.9,109.2Z" fill="#ffffff" stroke="#5c5c5c"/><path d="M312.0,110.9 L314.5,110.0 L312.2,107.6 L309.8,108.5Z" fill="#ffffff" stroke="#5c5c5c"/><path d="M331.1,113.7 L333.6,112.8 L331.3,110.4 L328.8,111.3Z" fill="#ffffff" stroke="#5c5c5c"/><path d="M323.9,113.1 L326.3,112.2 L324.1,109.8 L321.6,110.7Z" fill="#ffffff" stroke="#5c5c5c"/><path d="M316.7,112.5 L319.2,111.6 L316.9,109.2 L314.5,110.0Z" fill="#ffffff" stroke="#5c5c5c"/><path d="M328.6,114.6 L331.1,113.7 L328.8,111.3 L326.3,112.2Z" fill="#ffffff" stroke="#5c5c5c"/><path d="M321.4,114.0 L323.9,113.1 L321.6,110.7 L319.2,111.6Z" fill="#ffffff" stroke="#5c5c5c"/><path d="M314.2,113.4 L316.7,112.5 L314.5,110.0 L312.0,110.9Z" fill="#ffffff" stroke="#5c5c5c"/><path d="M326.1,115.5 L328.6,114.6 L326.3,112.2 L323.9,113.1Z" fill="#ffffff" stroke="#5c5c5c"/><path d="M318.9,114.9 L321.4,114.0 L319.2,111.6 L316.7,112.5Z" fill="#ffffff" stroke="#5c5c5c"/><path d="M323.7,116.4 L326.1,115.5 L323.9,113.1 L321.4,114.0Z" fill="#ffffff" stroke="#5c5c5c"/><path d="M316.5,115.8 L318.9,114.9 L316.7,112.5 L314.2,113.4Z" fill="#ffffff" stroke="#5c5c5c"/><path d="M321.2,117.3 L323.7,116.4 L321.4,114.0 L318.9,114.9Z" fill="#ffffff" stroke="#5c5c5c"/><path d="M318.7,118.2 L321.2,117.3 L318.9,114.9 L316.5,115.8Z" fill="#ffffff" stroke="#5c5c5c"/></g>
<line x1="420.80" y1="111.50" x2="467.00" y2="96.00" stroke="#cfcfcf" stroke-width="0.6" stroke-dasharray="1.2,1.2"/>
<line x1="467.00" y1="96.00" x2="493.10" y2="123.30" stroke="#cfcfcf" stroke-width="0.6" stroke-dasharray="1.2,1.2"/>
<line x1="467.00" y1="96.00" x2="466.80" y2="51.90" stroke="#cfcfcf" stroke-width="0.6" stroke-dasharray="1.2,1.2"/>
<line x1="418.30" y1="64.40" x2="466.80" y2="51.90" stroke="#bdbdbd" stroke-width="0.65"/>
<line x1="466.80" y1="51.90" x2="499.10" y2="75.30" stroke="#bdbdbd" stroke-width="0.65"/>
<line x1="418.30" y1="64.40" x2="446.30" y2="93.60" stroke="#bdbdbd" stroke-width="0.65"/>
<line x1="446.30" y1="93.60" x2="499.10" y2="75.30" stroke="#bdbdbd" stroke-width="0.65"/>
<line x1="418.30" y1="64.40" x2="420.80" y2="111.50" stroke="#bdbdbd" stroke-width="0.65"/>
<line x1="499.10" y1="75.30" x2="493.10" y2="123.30" stroke="#bdbdbd" stroke-width="0.65"/>
<line x1="420.80" y1="111.50" x2="446.50" y2="141.00" stroke="#bdbdbd" stroke-width="0.65"/>
<line x1="446.50" y1="141.00" x2="493.10" y2="123.30" stroke="#bdbdbd" stroke-width="0.65"/>
<line x1="446.30" y1="93.60" x2="446.50" y2="141.00" stroke="#bdbdbd" stroke-width="0.65"/>
<g stroke-width="0.5" stroke-linejoin="round"><path d="M467.0,61.6 L469.5,57.5 L466.8,55.4 L464.4,59.5Z" fill="#e52222" stroke="#7b1919"/><path d="M464.6,65.2 L467.0,61.6 L464.4,59.5 L462.0,63.0Z" fill="#e93e3e" stroke="#752525"/><path d="M469.6,63.8 L472.1,59.7 L469.5,57.5 L467.0,61.6Z" fill="#e52323" stroke="#7a1a1a"/><path d="M462.2,68.2 L464.6,65.2 L462.0,63.0 L459.7,66.0Z" fill="#eb5656" stroke="#712f2f"/><path d="M467.1,67.4 L469.6,63.8 L467.0,61.6 L464.6,65.2Z" fill="#e93f3f" stroke="#752626"/><path d="M459.8,70.8 L462.2,68.2 L459.7,66.0 L457.3,68.6Z" fill="#ee6c6c" stroke="#6d3737"/><path d="M472.2,66.4 L474.7,62.4 L472.1,59.7 L469.6,63.8Z" fill="#e62626" stroke="#7a1b1b"/><path d="M464.7,70.4 L467.1,67.4 L464.6,65.2 L462.2,68.2Z" fill="#ec5858" stroke="#703030"/><path d="M457.4,73.0 L459.8,70.8 L457.3,68.6 L454.9,70.8Z" fill="#f07f7f" stroke="#6a3e3e"/><path d="M469.7,69.9 L472.2,66.4 L469.6,63.8 L467.1,67.4Z" fill="#e94242" stroke="#742727"/><path d="M462.3,73.0 L464.7,70.4 L462.2,68.2 L459.8,70.8Z" fill="#ee6d6d" stroke="#6d3838"/><path d="M455.0,75.0 L457.4,73.0 L454.9,70.8 L452.6,72.8Z" fill="#f28f8f" stroke="#674343"/><path d="M474.7,70.4 L477.3,66.7 L474.7,62.4 L472.2,66.4Z" fill="#e73333" stroke="#772121"/><path d="M467.2,72.9 L469.7,69.9 L467.1,67.4 L464.7,70.4Z" fill="#ec5a5a" stroke="#703131"/><path d="M459.8,75.3 L462.3,73.0 L459.8,70.8 L457.4,73.0Z" fill="#f08080" stroke="#6a3e3e"/><path d="M452.6,76.8 L455.0,75.0 L452.6,72.8 L450.2,74.5Z" fill="#f49d9d" stroke="#654848"/><path d="M472.2,73.6 L474.7,70.4 L472.2,66.4 L469.7,69.9Z" fill="#ea4d4d" stroke="#722c2c"/><path d="M464.7,75.5 L467.2,72.9 L464.7,70.4 L462.3,73.0Z" fill="#ee7070" stroke="#6c3939"/><path d="M457.4,77.3 L459.8,75.3 L457.4,73.0 L455.0,75.0Z" fill="#f29090" stroke="#674444"/><path d="M477.0,77.3 L479.6,74.6 L477.3,66.7 L474.7,70.4Z" fill="#eb5555" stroke="#712f2f"/><path d="M450.3,78.4 L452.6,76.8 L450.2,74.5 L447.9,76.1Z" fill="#f5aaaa" stroke="#644c4c"/><path d="M469.7,76.4 L472.2,73.6 L469.7,69.9 L467.2,72.9Z" fill="#ed6464" stroke="#6e3434"/><path d="M462.3,77.7 L464.7,75.5 L462.3,73.0 L459.8,75.3Z" fill="#f18282" stroke="#693f3f"/><path d="M455.0,79.1 L457.4,77.3 L455.0,75.0 L452.6,76.8Z" fill="#f49e9e" stroke="#654848"/><path d="M474.5,79.6 L477.0,77.3 L474.7,70.4 L472.2,73.6Z" fill="#ee6b6b" stroke="#6d3737"/><path d="M447.9,79.8 L450.3,78.4 L447.9,76.1 L445.5,77.5Z" fill="#f6b5b5" stroke="#624f4f"/><path d="M467.2,78.7 L469.7,76.4 L467.2,72.9 L464.7,75.5Z" fill="#ef7878" stroke="#6b3c3c"/><path d="M459.9,79.7 L462.3,77.7 L459.8,75.3 L457.4,77.3Z" fill="#f29292" stroke="#674444"/><path d="M479.3,84.3 L481.7,82.7 L479.6,74.6 L477.0,77.3Z" fill="#f28d8d" stroke="#684343"/><path d="M452.6,80.7 L455.0,79.1 L452.6,76.8 L450.3,78.4Z" fill="#f5abab" stroke="#634c4c"/><path d="M472.0,81.7 L474.5,79.6 L472.2,73.6 L469.7,76.4Z" fill="#f07e7e" stroke="#6a3e3e"/><path d="M445.5,81.1 L447.9,79.8 L445.5,77.5 L443.2,78.8Z" fill="#f7bebe" stroke="#615151"/><path d="M464.7,80.8 L467.2,78.7 L464.7,75.5 L462.3,77.7Z" fill="#f18989" stroke="#684242"/><path d="M457.4,81.5 L459.9,79.7 L457.4,77.3 L455.0,79.1Z" fill="#f4a0a0" stroke="#654949"/><path d="M476.8,85.8 L479.3,84.3 L477.0,77.3 L474.5,79.6Z" fill="#f49c9c" stroke="#654848"/><path d="M450.3,82.1 L452.6,80.7 L450.3,78.4 L447.9,79.8Z" fill="#f6b5b5" stroke="#624f4f"/><path d="M469.5,83.5 L472.0,81.7 L469.7,76.4 L467.2,78.7Z" fill="#f28f8f" stroke="#674343"/><path d="M443.1,82.3 L445.5,81.1 L443.2,78.8 L440.8,79.9Z" fill="#f8c6c6" stroke="#605353"/><path d="M462.3,82.7 L464.7,80.8 L462.3,77.7 L459.9,79.7Z" fill="#f39999" stroke="#664747"/><path d="M481.6,88.6 L484.0,87.4 L481.7,82.7 L479.3,84.3Z" fill="#f8c1c1" stroke="#615252"/><path d="M455.0,83.1 L457.4,81.5 L455.0,79.1 L452.6,80.7Z" fill="#f5acac" stroke="#634c4c"/><path d="M474.3,87.2 L476.8,85.8 L474.5,79.6 L472.0,81.7Z" fill="#f5a9a9" stroke="#644c4c"/><path d="M447.9,83.4 L450.3,82.1 L447.9,79.8 L445.5,81.1Z" fill="#f8bfbf" stroke="#615151"/><path d="M467.1,85.2 L469.5,83.5 L467.2,78.7 L464.7,80.8Z" fill="#f49e9e" stroke="#654848"/><path d="M440.8,83.4 L443.1,82.3 L440.8,79.9 L438.4,81.0Z" fill="#f9cece" stroke="#5f5555"/><path d="M459.8,84.3 L462.3,82.7 L459.9,79.7 L457.4,81.5Z" fill="#f5a6a6" stroke="#644b4b"/><path d="M479.1,89.8 L481.6,88.6 L479.3,84.3 L476.8,85.8Z" fill="#f9caca" stroke="#605454"/><path d="M452.6,84.5 L455.0,83.1 L452.6,80.7 L450.3,82.1Z" fill="#f7b7b7" stroke="#624f4f"/><path d="M471.9,88.5 L474.3,87.2 L472.0,81.7 L469.5,83.5Z" fill="#f6b5b5" stroke="#624f4f"/><path d="M445.5,84.6 L447.9,83.4 L445.5,81.1 L443.1,82.3Z" fill="#f9c7c7" stroke="#605353"/><path d="M464.6,86.7 L467.1,85.2 L464.7,80.8 L462.3,82.7Z" fill="#f5aaaa" stroke="#634c4c"/><path d="M483.9,91.4 L486.4,90.3 L484.0,87.4 L481.6,88.6Z" fill="#fbdcdc" stroke="#5e5858"/><path d="M438.4,84.4 L440.8,83.4 L438.4,81.0 L436.1,82.0Z" fill="#fad4d4" stroke="#5f5656"/><path d="M457.4,85.8 L459.8,84.3 L457.4,81.5 L455.0,83.1Z" fill="#f6b2b2" stroke="#634e4e"/><path d="M476.6,90.8 L479.1,89.8 L476.8,85.8 L474.3,87.2Z" fill="#fad2d2" stroke="#5f5656"/><path d="M450.2,85.8 L452.6,84.5 L450.3,82.1 L447.9,83.4Z" fill="#f8c0c0" stroke="#615252"/><path d="M469.4,89.6 L471.9,88.5 L469.5,83.5 L467.1,85.2Z" fill="#f8bfbf" stroke="#615151"/><path d="M443.1,85.7 L445.5,84.6 L443.1,82.3 L440.8,83.4Z" fill="#f9cece" stroke="#5f5555"/><path d="M462.2,88.0 L464.6,86.7 L462.3,82.7 L459.8,84.3Z" fill="#f6b6b6" stroke="#624f4f"/><path d="M481.5,92.5 L483.9,91.4 L481.6,88.6 L479.1,89.8Z" fill="#fce2e2" stroke="#5e5959"/><path d="M455.0,87.2 L457.4,85.8 L455.0,83.1 L452.6,84.5Z" fill="#f7bcbc" stroke="#615050"/><path d="M474.2,91.9 L476.6,90.8 L474.3,87.2 L471.9,88.5Z" fill="#fbd8d8" stroke="#5e5757"/><path d="M436.0,85.4 L438.4,84.4 L436.1,82.0 L433.7,83.0Z" fill="#fbd9d9" stroke="#5e5757"/><path d="M447.8,87.0 L450.2,85.8 L447.9,83.4 L445.5,84.6Z" fill="#f9c8c8" stroke="#605353"/><path d="M467.0,90.7 L469.4,89.6 L467.1,85.2 L464.6,86.7Z" fill="#f9c8c8" stroke="#605353"/><path d="M486.3,93.8 L488.8,92.7 L486.4,90.3 L483.9,91.4Z" fill="#fce6e6" stroke="#5d5959"/><path d="M440.7,86.8 L443.1,85.7 L440.8,83.4 L438.4,84.4Z" fill="#fad5d5" stroke="#5f5656"/><path d="M459.8,89.3 L462.2,88.0 L459.8,84.3 L457.4,85.8Z" fill="#f8bfbf" stroke="#615151"/><path d="M479.0,93.5 L481.5,92.5 L479.1,89.8 L476.6,90.8Z" fill="#fce7e7" stroke="#5d5959"/><path d="M471.8,92.8 L474.2,91.9 L471.9,88.5 L469.4,89.6Z" fill="#fbdede" stroke="#5e5858"/><path d="M433.7,86.3 L436.0,85.4 L433.7,83.0 L431.4,83.9Z" fill="#fbdede" stroke="#5e5858"/><path d="M452.6,88.4 L455.0,87.2 L452.6,84.5 L450.2,85.8Z" fill="#f8c4c4" stroke="#605353"/><path d="M445.4,88.1 L447.8,87.0 L445.5,84.6 L443.1,85.7Z" fill="#f9d0d0" stroke="#5f5555"/><path d="M464.5,91.8 L467.0,90.7 L464.6,86.7 L462.2,88.0Z" fill="#f9cfcf" stroke="#5f5555"/><path d="M483.9,94.8 L486.3,93.8 L483.9,91.4 L481.5,92.5Z" fill="#fdebeb" stroke="#5d5a5a"/><path d="M438.3,87.7 L440.7,86.8 L438.4,84.4 L436.0,85.4Z" fill="#fbdada" stroke="#5e5757"/><path d="M457.3,90.4 L459.8,89.3 L457.4,85.8 L455.0,87.2Z" fill="#f9c8c8" stroke="#605353"/><path d="M476.6,94.4 L479.0,93.5 L476.6,90.8 L474.2,91.9Z" fill="#fdecec" stroke="#5d5a5a"/><path d="M431.3,87.2 L433.7,86.3 L431.4,83.9 L429.0,84.8Z" fill="#fce2e2" stroke="#5e5959"/><path d="M450.2,89.6 L452.6,88.4 L450.2,85.8 L447.8,87.0Z" fill="#f9cccc" stroke="#605454"/><path d="M469.3,93.8 L471.8,92.8 L469.4,89.6 L467.0,90.7Z" fill="#fce3e3" stroke="#5d5959"/><path d="M488.8,96.0 L491.3,94.9 L488.8,92.7 L486.3,93.8Z" fill="#fdeaea" stroke="#5d5a5a"/><path d="M443.0,89.2 L445.4,88.1 L443.1,85.7 L440.7,86.8Z" fill="#fad6d6" stroke="#5f5656"/><path d="M462.1,92.8 L464.5,91.8 L462.2,88.0 L459.8,89.3Z" fill="#fad6d6" stroke="#5f5656"/><path d="M481.4,95.8 L483.9,94.8 L481.5,92.5 L479.0,93.5Z" fill="#fdf0f0" stroke="#5d5b5b"/><path d="M435.9,88.7 L438.3,87.7 L436.0,85.4 L433.7,86.3Z" fill="#fbdfdf" stroke="#5e5858"/><path d="M454.9,91.5 L457.3,90.4 L455.0,87.2 L452.6,88.4Z" fill="#f9cfcf" stroke="#5f5555"/><path d="M474.1,95.4 L476.6,94.4 L474.2,91.9 L471.8,92.8Z" fill="#fdf0f0" stroke="#5d5b5b"/><path d="M428.9,88.1 L431.3,87.2 L429.0,84.8 L426.6,85.6Z" fill="#fce6e6" stroke="#5d5959"/><path d="M447.7,90.7 L450.2,89.6 L447.8,87.0 L445.4,88.1Z" fill="#fad3d3" stroke="#5f5656"/><path d="M466.9,94.7 L469.3,93.8 L467.0,90.7 L464.5,91.8Z" fill="#fce8e8" stroke="#5d5a5a"/><path d="M486.3,97.0 L488.8,96.0 L486.3,93.8 L483.9,94.8Z" fill="#fdefef" stroke="#5d5b5b"/><path d="M440.6,90.2 L443.0,89.2 L440.7,86.8 L438.3,87.7Z" fill="#fbdbdb" stroke="#5e5757"/><path d="M459.7,93.7 L462.1,92.8 L459.8,89.3 L457.3,90.4Z" fill="#fbdcdc" stroke="#5e5858"/><path d="M479.0,96.7 L481.4,95.8 L479.0,93.5 L476.6,94.4Z" fill="#fef4f4" stroke="#5c5b5b"/><path d="M433.6,89.6 L435.9,88.7 L433.7,86.3 L431.3,87.2Z" fill="#fce3e3" stroke="#5d5959"/><path d="M452.5,92.6 L454.9,91.5 L452.6,88.4 L450.2,89.6Z" fill="#fad6d6" stroke="#5f5656"/><path d="M471.7,96.3 L474.1,95.4 L471.8,92.8 L469.3,93.8Z" fill="#fef4f4" stroke="#5c5b5b"/><path d="M491.2,98.2 L493.7,97.1 L491.3,94.9 L488.8,96.0Z" fill="#fdecec" stroke="#5d5a5a"/><path d="M426.5,88.9 L428.9,88.1 L426.6,85.6 L424.3,86.5Z" fill="#fce9e9" stroke="#5d5a5a"/><path d="M445.3,91.7 L447.7,90.7 L445.4,88.1 L443.0,89.2Z" fill="#fbd9d9" stroke="#5e5757"/><path d="M464.4,95.6 L466.9,94.7 L464.5,91.8 L462.1,92.8Z" fill="#fdecec" stroke="#5d5a5a"/><path d="M483.8,98.0 L486.3,97.0 L483.9,94.8 L481.4,95.8Z" fill="#fef4f4" stroke="#5c5b5b"/><path d="M438.2,91.1 L440.6,90.2 L438.3,87.7 L435.9,88.7Z" fill="#fbe0e0" stroke="#5e5858"/><path d="M457.2,94.7 L459.7,93.7 L457.3,90.4 L454.9,91.5Z" fill="#fbe1e1" stroke="#5e5858"/><path d="M476.5,97.7 L479.0,96.7 L476.6,94.4 L474.1,95.4Z" fill="#fef8f8" stroke="#5c5c5c"/><path d="M431.2,90.5 L433.6,89.6 L431.3,87.2 L428.9,88.1Z" fill="#fce6e6" stroke="#5d5959"/><path d="M450.1,93.5 L452.5,92.6 L450.2,89.6 L447.7,90.7Z" fill="#fbdbdb" stroke="#5e5757"/><path d="M469.2,97.2 L471.7,96.3 L469.3,93.8 L466.9,94.7Z" fill="#fef7f7" stroke="#5c5b5b"/><path d="M488.7,99.3 L491.2,98.2 L488.8,96.0 L486.3,97.0Z" fill="#fdf2f2" stroke="#5c5b5b"/><path d="M462.0,96.5 L464.4,95.6 L462.1,92.8 L459.7,93.7Z" fill="#fdefef" stroke="#5d5b5b"/><path d="M424.2,89.7 L426.5,88.9 L424.3,86.5 L421.9,87.3Z" fill="#fdecec" stroke="#5d5a5a"/><path d="M481.3,99.0 L483.8,98.0 L481.4,95.8 L479.0,96.7Z" fill="#fef8f8" stroke="#5c5c5c"/><path d="M442.9,92.7 L445.3,91.7 L443.0,89.2 L440.6,90.2Z" fill="#fbdddd" stroke="#5e5858"/><path d="M435.8,92.0 L438.2,91.1 L435.9,88.7 L433.6,89.6Z" fill="#fce4e4" stroke="#5d5959"/><path d="M454.8,95.6 L457.2,94.7 L454.9,91.5 L452.5,92.6Z" fill="#fce5e5" stroke="#5d5959"/><path d="M474.0,98.6 L476.5,97.7 L474.1,95.4 L471.7,96.3Z" fill="#fffcfc" stroke="#5c5c5c"/><path d="M493.6,100.4 L496.1,99.3 L493.7,97.1 L491.2,98.2Z" fill="#fdeeee" stroke="#5d5b5b"/><path d="M428.8,91.3 L431.2,90.5 L428.9,88.1 L426.5,88.9Z" fill="#fde9e9" stroke="#5d5a5a"/><path d="M447.7,94.5 L450.1,93.5 L447.7,90.7 L445.3,91.7Z" fill="#fbe0e0" stroke="#5e5858"/><path d="M466.8,98.0 L469.2,97.2 L466.9,94.7 L464.4,95.6Z" fill="#fefafa" stroke="#5c5c5c"/><path d="M486.2,100.3 L488.7,99.3 L486.3,97.0 L483.8,98.0Z" fill="#fef7f7" stroke="#5c5b5b"/><path d="M459.6,97.3 L462.0,96.5 L459.7,93.7 L457.2,94.7Z" fill="#fdf2f2" stroke="#5c5b5b"/><path d="M421.8,90.5 L424.2,89.7 L421.9,87.3 L419.6,88.1Z" fill="#fdeeee" stroke="#5d5b5b"/><path d="M440.5,93.6 L442.9,92.7 L440.6,90.2 L438.2,91.1Z" fill="#fce2e2" stroke="#5e5959"/><path d="M478.9,99.9 L481.3,99.0 L479.0,96.7 L476.5,97.7Z" fill="#fffdfd" stroke="#5c5c5c"/><path d="M433.4,92.9 L435.8,92.0 L433.6,89.6 L431.2,90.5Z" fill="#fce7e7" stroke="#5d5959"/><path d="M452.4,96.4 L454.8,95.6 L452.5,92.6 L450.1,93.5Z" fill="#fce9e9" stroke="#5d5a5a"/><path d="M471.6,99.5 L474.0,98.6 L471.7,96.3 L469.2,97.2Z" fill="#ffffff" stroke="#5c5c5c"/><path d="M491.1,101.5 L493.6,100.4 L491.2,98.2 L488.7,99.3Z" fill="#fef4f4" stroke="#5c5b5b"/><path d="M426.4,92.1 L428.8,91.3 L426.5,88.9 L424.2,89.7Z" fill="#fdecec" stroke="#5d5a5a"/><path d="M483.7,101.3 L486.2,100.3 L483.8,98.0 L481.3,99.0Z" fill="#fffcfc" stroke="#5c5c5c"/><path d="M445.2,95.4 L447.7,94.5 L445.3,91.7 L442.9,92.7Z" fill="#fce4e4" stroke="#5d5959"/><path d="M464.3,98.9 L466.8,98.0 L464.4,95.6 L462.0,96.5Z" fill="#fffcfc" stroke="#5c5c5c"/><path d="M438.1,94.5 L440.5,93.6 L438.2,91.1 L435.8,92.0Z" fill="#fce6e6" stroke="#5d5959"/><path d="M457.1,98.2 L459.6,97.3 L457.2,94.7 L454.8,95.6Z" fill="#fef4f4" stroke="#5c5b5b"/><path d="M476.4,100.9 L478.9,99.9 L476.5,97.7 L474.0,98.6Z" fill="#ffffff" stroke="#5c5c5c"/><path d="M431.1,93.8 L433.4,92.9 L431.2,90.5 L428.8,91.3Z" fill="#fdeaea" stroke="#5d5a5a"/><path d="M450.0,97.3 L452.4,96.4 L450.1,93.5 L447.7,94.5Z" fill="#fdecec" stroke="#5d5a5a"/><path d="M469.1,100.4 L471.6,99.5 L469.2,97.2 L466.8,98.0Z" fill="#ffffff" stroke="#5c5c5c"/><path d="M488.6,102.5 L491.1,101.5 L488.7,99.3 L486.2,100.3Z" fill="#fefafa" stroke="#5c5c5c"/><path d="M424.0,92.9 L426.4,92.1 L424.2,89.7 L421.8,90.5Z" fill="#fdeeee" stroke="#5d5b5b"/><path d="M442.8,96.3 L445.2,95.4 L442.9,92.7 L440.5,93.6Z" fill="#fce7e7" stroke="#5d5a5a"/><path d="M481.2,102.2 L483.7,101.3 L481.3,99.0 L478.9,99.9Z" fill="#ffffff" stroke="#5c5c5c"/><path d="M461.9,99.7 L464.3,98.9 L462.0,96.5 L459.6,97.3Z" fill="#ffffff" stroke="#5c5c5c"/><path d="M435.7,95.4 L438.1,94.5 L435.8,92.0 L433.4,92.9Z" fill="#fce9e9" stroke="#5d5a5a"/><path d="M454.7,99.0 L457.1,98.2 L454.8,95.6 L452.4,96.4Z" fill="#fef6f6" stroke="#5c5b5b"/><path d="M473.9,101.8 L476.4,100.9 L474.0,98.6 L471.6,99.5Z" fill="#ffffff" stroke="#5c5c5c"/><path d="M428.7,94.6 L431.1,93.8 L428.8,91.3 L426.4,92.1Z" fill="#fdeded" stroke="#5d5a5a"/><path d="M447.5,98.1 L450.0,97.3 L447.7,94.5 L445.2,95.4Z" fill="#fdeeee" stroke="#5d5b5b"/><path d="M466.7,101.2 L469.1,100.4 L466.8,98.0 L464.3,98.9Z" fill="#ffffff" stroke="#5c5c5c"/><path d="M486.1,103.5 L488.6,102.5 L486.2,100.3 L483.7,101.3Z" fill="#ffffff" stroke="#5c5c5c"/><path d="M440.4,97.1 L442.8,96.3 L440.5,93.6 L438.1,94.5Z" fill="#fdeaea" stroke="#5d5a5a"/><path d="M459.4,100.6 L461.9,99.7 L459.6,97.3 L457.1,98.2Z" fill="#ffffff" stroke="#5c5c5c"/><path d="M478.8,103.1 L481.2,102.2 L478.9,99.9 L476.4,100.9Z" fill="#ffffff" stroke="#5c5c5c"/><path d="M433.3,96.2 L435.7,95.4 L433.4,92.9 L431.1,93.8Z" fill="#fdebeb" stroke="#5d5a5a"/><path d="M452.3,99.8 L454.7,99.0 L452.4,96.4 L450.0,97.3Z" fill="#fef8f8" stroke="#5c5c5c"/><path d="M471.5,102.7 L473.9,101.8 L471.6,99.5 L469.1,100.4Z" fill="#ffffff" stroke="#5c5c5c"/><path d="M426.3,95.4 L428.7,94.6 L426.4,92.1 L424.0,92.9Z" fill="#fdefef" stroke="#5d5b5b"/><path d="M445.1,99.0 L447.5,98.1 L445.2,95.4 L442.8,96.3Z" fill="#fdf1f1" stroke="#5d5b5b"/><path d="M464.2,102.1 L466.7,101.2 L464.3,98.9 L461.9,99.7Z" fill="#ffffff" stroke="#5c5c5c"/><path d="M483.6,104.5 L486.1,103.5 L483.7,101.3 L481.2,102.2Z" fill="#ffffff" stroke="#5c5c5c"/><path d="M438.0,98.0 L440.4,97.1 L438.1,94.5 L435.7,95.4Z" fill="#fdeded" stroke="#5d5a5a"/><path d="M457.0,101.4 L459.4,100.6 L457.1,98.2 L454.7,99.0Z" fill="#ffffff" stroke="#5c5c5c"/><path d="M476.3,104.1 L478.8,103.1 L476.4,100.9 L473.9,101.8Z" fill="#ffffff" stroke="#5c5c5c"/><path d="M430.9,97.1 L433.3,96.2 L431.1,93.8 L428.7,94.6Z" fill="#fdeeee" stroke="#5d5a5a"/><path d="M449.8,100.7 L452.3,99.8 L450.0,97.3 L447.5,98.1Z" fill="#fef9f9" stroke="#5c5c5c"/><path d="M469.0,103.5 L471.5,102.7 L469.1,100.4 L466.7,101.2Z" fill="#ffffff" stroke="#5c5c5c"/><path d="M442.7,99.8 L445.1,99.0 L442.8,96.3 L440.4,97.1Z" fill="#fef3f3" stroke="#5c5b5b"/><path d="M461.8,102.9 L464.2,102.1 L461.9,99.7 L459.4,100.6Z" fill="#ffffff" stroke="#5c5c5c"/><path d="M481.1,105.4 L483.6,104.5 L481.2,102.2 L478.8,103.1Z" fill="#ffffff" stroke="#5c5c5c"/><path d="M435.6,98.8 L438.0,98.0 L435.7,95.4 L433.3,96.2Z" fill="#fdefef" stroke="#5d5b5b"/><path d="M454.6,102.3 L457.0,101.4 L454.7,99.0 L452.3,99.8Z" fill="#ffffff" stroke="#5c5c5c"/><path d="M473.8,105.0 L476.3,104.1 L473.9,101.8 L471.5,102.7Z" fill="#ffffff" stroke="#5c5c5c"/><path d="M447.4,101.5 L449.8,100.7 L447.5,98.1 L445.1,99.0Z" fill="#fefafa" stroke="#5c5c5c"/><path d="M428.5,97.9 L430.9,97.1 L428.7,94.6 L426.3,95.4Z" fill="#fdf0f0" stroke="#5d5b5b"/><path d="M466.5,104.4 L469.0,103.5 L466.7,101.2 L464.2,102.1Z" fill="#ffffff" stroke="#5c5c5c"/><path d="M440.3,100.6 L442.7,99.8 L440.4,97.1 L438.0,98.0Z" fill="#fef4f4" stroke="#5c5b5b"/><path d="M459.3,103.8 L461.8,102.9 L459.4,100.6 L457.0,101.4Z" fill="#ffffff" stroke="#5c5c5c"/><path d="M478.6,106.3 L481.1,105.4 L478.8,103.1 L476.3,104.1Z" fill="#ffffff" stroke="#5c5c5c"/><path d="M433.2,99.6 L435.6,98.8 L433.3,96.2 L430.9,97.1Z" fill="#fdf1f1" stroke="#5d5b5b"/><path d="M471.3,105.9 L473.8,105.0 L471.5,102.7 L469.0,103.5Z" fill="#ffffff" stroke="#5c5c5c"/><path d="M452.1,103.1 L454.6,102.3 L452.3,99.8 L449.8,100.7Z" fill="#ffffff" stroke="#5c5c5c"/><path d="M445.0,102.3 L447.4,101.5 L445.1,99.0 L442.7,99.8Z" fill="#fffbfb" stroke="#5c5c5c"/><path d="M464.1,105.3 L466.5,104.4 L464.2,102.1 L461.8,102.9Z" fill="#ffffff" stroke="#5c5c5c"/><path d="M437.8,101.4 L440.3,100.6 L438.0,98.0 L435.6,98.8Z" fill="#fef5f5" stroke="#5c5b5b"/><path d="M456.9,104.6 L459.3,103.8 L457.0,101.4 L454.6,102.3Z" fill="#ffffff" stroke="#5c5c5c"/><path d="M476.2,107.3 L478.6,106.3 L476.3,104.1 L473.8,105.0Z" fill="#ffffff" stroke="#5c5c5c"/><path d="M430.7,100.4 L433.2,99.6 L430.9,97.1 L428.5,97.9Z" fill="#fef2f2" stroke="#5c5b5b"/><path d="M468.9,106.7 L471.3,105.9 L469.0,103.5 L466.5,104.4Z" fill="#ffffff" stroke="#5c5c5c"/><path d="M449.7,103.9 L452.1,103.1 L449.8,100.7 L447.4,101.5Z" fill="#ffffff" stroke="#5c5c5c"/><path d="M442.5,103.1 L445.0,102.3 L442.7,99.8 L440.3,100.6Z" fill="#fffbfb" stroke="#5c5c5c"/><path d="M461.6,106.1 L464.1,105.3 L461.8,102.9 L459.3,103.8Z" fill="#ffffff" stroke="#5c5c5c"/><path d="M435.4,102.2 L437.8,101.4 L435.6,98.8 L433.2,99.6Z" fill="#fef6f6" stroke="#5c5b5b"/><path d="M454.4,105.5 L456.9,104.6 L454.6,102.3 L452.1,103.1Z" fill="#ffffff" stroke="#5c5c5c"/><path d="M473.7,108.2 L476.2,107.3 L473.8,105.0 L471.3,105.9Z" fill="#ffffff" stroke="#5c5c5c"/><path d="M447.2,104.7 L449.7,103.9 L447.4,101.5 L445.0,102.3Z" fill="#ffffff" stroke="#5c5c5c"/><path d="M466.4,107.6 L468.9,106.7 L466.5,104.4 L464.1,105.3Z" fill="#ffffff" stroke="#5c5c5c"/><path d="M440.1,103.9 L442.5,103.1 L440.3,100.6 L437.8,101.4Z" fill="#fffbfb" stroke="#5c5c5c"/><path d="M459.2,107.0 L461.6,106.1 L459.3,103.8 L456.9,104.6Z" fill="#ffffff" stroke="#5c5c5c"/><path d="M433.0,103.0 L435.4,102.2 L433.2,99.6 L430.7,100.4Z" fill="#fef6f6" stroke="#5c5b5b"/><path d="M452.0,106.3 L454.4,105.5 L452.1,103.1 L449.7,103.9Z" fill="#ffffff" stroke="#5c5c5c"/><path d="M471.2,109.1 L473.7,108.2 L471.3,105.9 L468.9,106.7Z" fill="#ffffff" stroke="#5c5c5c"/><path d="M463.9,108.5 L466.4,107.6 L464.1,105.3 L461.6,106.1Z" fill="#ffffff" stroke="#5c5c5c"/><path d="M444.8,105.5 L447.2,104.7 L445.0,102.3 L442.5,103.1Z" fill="#ffffff" stroke="#5c5c5c"/><path d="M437.7,104.7 L440.1,103.9 L437.8,101.4 L435.4,102.2Z" fill="#fffbfb" stroke="#5c5c5c"/><path d="M456.7,107.8 L459.2,107.0 L456.9,104.6 L454.4,105.5Z" fill="#ffffff" stroke="#5c5c5c"/><path d="M449.5,107.1 L452.0,106.3 L449.7,103.9 L447.2,104.7Z" fill="#ffffff" stroke="#5c5c5c"/><path d="M468.7,109.9 L471.2,109.1 L468.9,106.7 L466.4,107.6Z" fill="#ffffff" stroke="#5c5c5c"/><path d="M442.3,106.3 L444.8,105.5 L442.5,103.1 L440.1,103.9Z" fill="#ffffff" stroke="#5c5c5c"/><path d="M461.5,109.3 L463.9,108.5 L461.6,106.1 L459.2,107.0Z" fill="#ffffff" stroke="#5c5c5c"/><path d="M435.2,105.5 L437.7,104.7 L435.4,102.2 L433.0,103.0Z" fill="#fefafa" stroke="#5c5c5c"/><path d="M454.2,108.7 L456.7,107.8 L454.4,105.5 L452.0,106.3Z" fill="#ffffff" stroke="#5c5c5c"/><path d="M447.1,107.9 L449.5,107.1 L447.2,104.7 L444.8,105.5Z" fill="#ffffff" stroke="#5c5c5c"/><path d="M466.2,110.8 L468.7,109.9 L466.4,107.6 L463.9,108.5Z" fill="#ffffff" stroke="#5c5c5c"/><path d="M439.9,107.2 L442.3,106.3 L440.1,103.9 L437.7,104.7Z" fill="#fffefe" stroke="#5c5c5c"/><path d="M459.0,110.2 L461.5,109.3 L459.2,107.0 L456.7,107.8Z" fill="#ffffff" stroke="#5c5c5c"/><path d="M451.8,109.5 L454.2,108.7 L452.0,106.3 L449.5,107.1Z" fill="#ffffff" stroke="#5c5c5c"/><path d="M444.6,108.8 L447.1,107.9 L444.8,105.5 L442.3,106.3Z" fill="#ffffff" stroke="#5c5c5c"/><path d="M463.8,111.7 L466.2,110.8 L463.9,108.5 L461.5,109.3Z" fill="#ffffff" stroke="#5c5c5c"/><path d="M437.5,108.0 L439.9,107.2 L437.7,104.7 L435.2,105.5Z" fill="#fffcfc" stroke="#5c5c5c"/><path d="M456.5,111.1 L459.0,110.2 L456.7,107.8 L454.2,108.7Z" fill="#ffffff" stroke="#5c5c5c"/><path d="M449.3,110.4 L451.8,109.5 L449.5,107.1 L447.1,107.9Z" fill="#ffffff" stroke="#5c5c5c"/><path d="M442.1,109.6 L444.6,108.8 L442.3,106.3 L439.9,107.2Z" fill="#ffffff" stroke="#5c5c5c"/><path d="M461.3,112.6 L463.8,111.7 L461.5,109.3 L459.0,110.2Z" fill="#ffffff" stroke="#5c5c5c"/><path d="M454.1,111.9 L456.5,111.1 L454.2,108.7 L451.8,109.5Z" fill="#ffffff" stroke="#5c5c5c"/><path d="M446.9,111.2 L449.3,110.4 L447.1,107.9 L444.6,108.8Z" fill="#ffffff" stroke="#5c5c5c"/><path d="M439.7,110.4 L442.1,109.6 L439.9,107.2 L437.5,108.0Z" fill="#fffdfd" stroke="#5c5c5c"/><path d="M458.8,113.4 L461.3,112.6 L459.0,110.2 L456.5,111.1Z" fill="#ffffff" stroke="#5c5c5c"/><path d="M451.6,112.8 L454.1,111.9 L451.8,109.5 L449.3,110.4Z" fill="#ffffff" stroke="#5c5c5c"/><path d="M444.4,112.0 L446.9,111.2 L444.6,108.8 L442.1,109.6Z" fill="#ffffff" stroke="#5c5c5c"/><path d="M456.3,114.3 L458.8,113.4 L456.5,111.1 L454.1,111.9Z" fill="#ffffff" stroke="#5c5c5c"/><path d="M449.1,113.6 L451.6,112.8 L449.3,110.4 L446.9,111.2Z" fill="#ffffff" stroke="#5c5c5c"/><path d="M441.9,112.9 L444.4,112.0 L442.1,109.6 L439.7,110.4Z" fill="#fffefe" stroke="#5c5c5c"/><path d="M453.8,115.2 L456.3,114.3 L454.1,111.9 L451.6,112.8Z" fill="#ffffff" stroke="#5c5c5c"/><path d="M446.6,114.5 L449.1,113.6 L446.9,111.2 L444.4,112.0Z" fill="#ffffff" stroke="#5c5c5c"/><path d="M451.4,116.0 L453.8,115.2 L451.6,112.8 L449.1,113.6Z" fill="#ffffff" stroke="#5c5c5c"/><path d="M444.2,115.3 L446.6,114.5 L444.4,112.0 L441.9,112.9Z" fill="#fffefe" stroke="#5c5c5c"/><path d="M448.9,116.9 L451.4,116.0 L449.1,113.6 L446.6,114.5Z" fill="#ffffff" stroke="#5c5c5c"/><path d="M446.4,117.7 L448.9,116.9 L446.6,114.5 L444.2,115.3Z" fill="#fffefe" stroke="#5c5c5c"/></g>
<text x="54.50" y="46.8" font-size="8.8" fill="#3d3d96" stroke="#3d3d96" stroke-width="0.22" textLength="40.8" lengthAdjust="spacingAndGlyphs"><tspan font-style="italic">TP53</tspan><tspan font-size="6.8" dy="-2.8">+/+</tspan><tspan dy="2.8"> #1</tspan></text>
<text x="182.80" y="46.8" font-size="8.8" fill="#e24a35" stroke="#e24a35" stroke-width="0.22" textLength="39.8" lengthAdjust="spacingAndGlyphs"><tspan font-style="italic">TP53</tspan><tspan font-size="6.8" dy="-2.8">−/−</tspan><tspan dy="2.8"> #1</tspan></text>
<text x="309.50" y="46.8" font-size="8.8" fill="#3d3d96" stroke="#3d3d96" stroke-width="0.22" textLength="41.0" lengthAdjust="spacingAndGlyphs"><tspan font-style="italic">TP53</tspan><tspan font-size="6.8" dy="-2.8">+/+</tspan><tspan dy="2.8"> #1</tspan></text>
<text x="438.40" y="46.8" font-size="8.8" fill="#e24a35" stroke="#e24a35" stroke-width="0.22" textLength="39.2" lengthAdjust="spacingAndGlyphs"><tspan font-style="italic">TP53</tspan><tspan font-size="6.8" dy="-2.8">−/−</tspan><tspan dy="2.8"> #2</tspan></text>
<text x="29.99" y="72.30" font-size="8.0" fill="#333" stroke="#333" stroke-width="0.22" text-anchor="end">−40</text>
<text x="30.79" y="81.80" font-size="8.0" fill="#333" stroke="#333" stroke-width="0.22" text-anchor="end">20</text>
<text x="31.57" y="91.10" font-size="8.0" fill="#333" stroke="#333" stroke-width="0.22" text-anchor="end">0</text>
<text x="32.32" y="100.00" font-size="8.0" fill="#333" stroke="#333" stroke-width="0.22" text-anchor="end">−20</text>
<text x="33.04" y="108.50" font-size="8.0" fill="#333" stroke="#333" stroke-width="0.22" text-anchor="end">−40</text>
<text x="157.40" y="67.60" font-size="8.0" fill="#333" stroke="#333" stroke-width="0.22" text-anchor="end">60</text>
<text x="158.09" y="75.80" font-size="8.0" fill="#333" stroke="#333" stroke-width="0.22" text-anchor="end">40</text>
<text x="158.73" y="83.40" font-size="8.0" fill="#333" stroke="#333" stroke-width="0.22" text-anchor="end">20</text>
<text x="159.37" y="91.10" font-size="8.0" fill="#333" stroke="#333" stroke-width="0.22" text-anchor="end">0</text>
<text x="160.01" y="98.70" font-size="8.0" fill="#333" stroke="#333" stroke-width="0.22" text-anchor="end">−20</text>
<text x="160.63" y="106.00" font-size="8.0" fill="#333" stroke="#333" stroke-width="0.22" text-anchor="end">−40</text>
<text x="161.21" y="113.00" font-size="8.0" fill="#333" stroke="#333" stroke-width="0.22" text-anchor="end">−60</text>
<text x="285.45" y="68.20" font-size="8.0" fill="#333" stroke="#333" stroke-width="0.22" text-anchor="end">30</text>
<text x="286.11" y="76.10" font-size="8.0" fill="#333" stroke="#333" stroke-width="0.22" text-anchor="end">20</text>
<text x="286.73" y="83.40" font-size="8.0" fill="#333" stroke="#333" stroke-width="0.22" text-anchor="end">10</text>
<text x="287.36" y="90.90" font-size="8.0" fill="#333" stroke="#333" stroke-width="0.22" text-anchor="end">0</text>
<text x="288.05" y="99.10" font-size="8.0" fill="#333" stroke="#333" stroke-width="0.22" text-anchor="end">−10</text>
<text x="288.62" y="105.90" font-size="8.0" fill="#333" stroke="#333" stroke-width="0.22" text-anchor="end">−20</text>
<text x="289.21" y="112.90" font-size="8.0" fill="#333" stroke="#333" stroke-width="0.22" text-anchor="end">−30</text>
<text x="413.14" y="68.10" font-size="8.0" fill="#333" stroke="#333" stroke-width="0.22" text-anchor="end">60</text>
<text x="413.80" y="75.90" font-size="8.0" fill="#333" stroke="#333" stroke-width="0.22" text-anchor="end">40</text>
<text x="414.43" y="83.40" font-size="8.0" fill="#333" stroke="#333" stroke-width="0.22" text-anchor="end">20</text>
<text x="415.06" y="90.90" font-size="8.0" fill="#333" stroke="#333" stroke-width="0.22" text-anchor="end">0</text>
<text x="415.69" y="98.40" font-size="8.0" fill="#333" stroke="#333" stroke-width="0.22" text-anchor="end">−20</text>
<text x="416.31" y="105.80" font-size="8.0" fill="#333" stroke="#333" stroke-width="0.22" text-anchor="end">−40</text>
<text x="416.92" y="113.10" font-size="8.0" fill="#333" stroke="#333" stroke-width="0.22" text-anchor="end">−60</text>
<text x="15.20" y="88.00" font-size="8.8" fill="#333" stroke="#333" stroke-width="0.22" text-anchor="middle" textLength="28.50" lengthAdjust="spacingAndGlyphs" transform="rotate(-90.00 15.20 88.00)">δ - score</text>
<text x="37.60" y="124.00" font-size="7.6" fill="#333" stroke="#333" stroke-width="0.22" text-anchor="end">100</text>
<text x="44.30" y="132.70" font-size="7.6" fill="#333" stroke="#333" stroke-width="0.22" text-anchor="end">20</text>
<text x="51.00" y="143.30" font-size="7.6" fill="#333" stroke="#333" stroke-width="0.22" text-anchor="end">4</text>
<text x="76.50" y="148.80" font-size="7.6" fill="#333" stroke="#333" stroke-width="0.22">100</text>
<text x="91.30" y="142.80" font-size="7.6" fill="#333" stroke="#333" stroke-width="0.22">300</text>
<text x="105.50" y="136.00" font-size="7.6" fill="#333" stroke="#333" stroke-width="0.22">1000</text>
<text x="75.60" y="164.20" font-size="8.2" fill="#333" stroke="#333" stroke-width="0.22" textLength="56.50" lengthAdjust="spacingAndGlyphs" transform="rotate(-19.50 75.60 164.20)">Venetoclax (nM)</text>
<text x="13.80" y="123.20" font-size="8.2" fill="#333" stroke="#333" stroke-width="0.22" textLength="47.50" lengthAdjust="spacingAndGlyphs" transform="rotate(52.50 13.80 123.20)">S63845 (nM)</text>
<text x="140.80" y="88.00" font-size="8.8" fill="#333" stroke="#333" stroke-width="0.22" text-anchor="middle" textLength="28.50" lengthAdjust="spacingAndGlyphs" transform="rotate(-90.00 140.80 88.00)">δ - score</text>
<text x="165.40" y="124.00" font-size="7.6" fill="#333" stroke="#333" stroke-width="0.22" text-anchor="end">100</text>
<text x="172.10" y="132.70" font-size="7.6" fill="#333" stroke="#333" stroke-width="0.22" text-anchor="end">20</text>
<text x="178.80" y="143.30" font-size="7.6" fill="#333" stroke="#333" stroke-width="0.22" text-anchor="end">4</text>
<text x="204.30" y="148.80" font-size="7.6" fill="#333" stroke="#333" stroke-width="0.22">100</text>
<text x="219.10" y="142.80" font-size="7.6" fill="#333" stroke="#333" stroke-width="0.22">300</text>
<text x="233.30" y="136.00" font-size="7.6" fill="#333" stroke="#333" stroke-width="0.22">1000</text>
<text x="203.40" y="164.20" font-size="8.2" fill="#333" stroke="#333" stroke-width="0.22" textLength="56.50" lengthAdjust="spacingAndGlyphs" transform="rotate(-19.50 203.40 164.20)">Venetoclax (nM)</text>
<text x="141.60" y="123.20" font-size="8.2" fill="#333" stroke="#333" stroke-width="0.22" textLength="47.50" lengthAdjust="spacingAndGlyphs" transform="rotate(52.50 141.60 123.20)">S63845 (nM)</text>
<text x="269.80" y="88.00" font-size="8.8" fill="#333" stroke="#333" stroke-width="0.22" text-anchor="middle" textLength="28.50" lengthAdjust="spacingAndGlyphs" transform="rotate(-90.00 269.80 88.00)">δ - score</text>
<text x="280.40" y="124.00" font-size="7.6" fill="#333" stroke="#333" stroke-width="0.22">50</text>
<text x="300.10" y="132.70" font-size="7.6" fill="#333" stroke="#333" stroke-width="0.22" text-anchor="end">10</text>
<text x="306.80" y="143.30" font-size="7.6" fill="#333" stroke="#333" stroke-width="0.22" text-anchor="end">2</text>
<text x="332.30" y="148.80" font-size="7.6" fill="#333" stroke="#333" stroke-width="0.22">100</text>
<text x="347.10" y="142.80" font-size="7.6" fill="#333" stroke="#333" stroke-width="0.22">300</text>
<text x="361.30" y="136.00" font-size="7.6" fill="#333" stroke="#333" stroke-width="0.22">1000</text>
<text x="331.40" y="164.20" font-size="8.2" fill="#333" stroke="#333" stroke-width="0.22" textLength="56.50" lengthAdjust="spacingAndGlyphs" transform="rotate(-19.50 331.40 164.20)">Venetoclax (nM)</text>
<text x="269.60" y="123.20" font-size="8.2" fill="#333" stroke="#333" stroke-width="0.22" textLength="47.50" lengthAdjust="spacingAndGlyphs" transform="rotate(52.50 269.60 123.20)">S63845 (nM)</text>
<text x="397.50" y="88.00" font-size="8.8" fill="#333" stroke="#333" stroke-width="0.22" text-anchor="middle" textLength="28.50" lengthAdjust="spacingAndGlyphs" transform="rotate(-90.00 397.50 88.00)">δ - score</text>
<text x="408.10" y="124.00" font-size="7.6" fill="#333" stroke="#333" stroke-width="0.22">50</text>
<text x="427.80" y="132.70" font-size="7.6" fill="#333" stroke="#333" stroke-width="0.22" text-anchor="end">10</text>
<text x="434.50" y="143.30" font-size="7.6" fill="#333" stroke="#333" stroke-width="0.22" text-anchor="end">2</text>
<text x="460.00" y="148.80" font-size="7.6" fill="#333" stroke="#333" stroke-width="0.22">100</text>
<text x="474.80" y="142.80" font-size="7.6" fill="#333" stroke="#333" stroke-width="0.22">300</text>
<text x="489.00" y="136.00" font-size="7.6" fill="#333" stroke="#333" stroke-width="0.22">1000</text>
<text x="459.10" y="164.20" font-size="8.2" fill="#333" stroke="#333" stroke-width="0.22" textLength="56.50" lengthAdjust="spacingAndGlyphs" transform="rotate(-19.50 459.10 164.20)">Venetoclax (nM)</text>
<text x="397.30" y="123.20" font-size="8.2" fill="#333" stroke="#333" stroke-width="0.22" textLength="47.50" lengthAdjust="spacingAndGlyphs" transform="rotate(52.50 397.30 123.20)">S63845 (nM)</text>
<text x="70.00" y="133.50" font-size="8" fill="#333" stroke="#333" stroke-width="0.22" textLength="27.50" lengthAdjust="spacingAndGlyphs" transform="rotate(-17.00 70.00 133.50)">13.6 ± 6</text>
<text x="197.80" y="133.50" font-size="8" fill="#333" stroke="#333" stroke-width="0.22" textLength="27.50" lengthAdjust="spacingAndGlyphs" transform="rotate(-17.00 197.80 133.50)">14.6 ± 3</text>
<text x="325.80" y="133.50" font-size="8" fill="#333" stroke="#333" stroke-width="0.22" textLength="27.50" lengthAdjust="spacingAndGlyphs" transform="rotate(-17.00 325.80 133.50)">11.7 ± 2</text>
<text x="453.50" y="133.50" font-size="8" fill="#333" stroke="#333" stroke-width="0.22" textLength="27.50" lengthAdjust="spacingAndGlyphs" transform="rotate(-17.00 453.50 133.50)">16.3 ± 2</text>
<text x="106.00" y="185.10" font-size="10.2" fill="#222" stroke="#222" stroke-width="0.22" textLength="18.60" lengthAdjust="spacingAndGlyphs">XG7</text>
<text x="328.00" y="185.10" font-size="10.2" fill="#222" stroke="#222" stroke-width="0.22" textLength="42.60" lengthAdjust="spacingAndGlyphs">NCI-H929</text>
<line x1="62.60" y1="200.00" x2="62.60" y2="289.10" stroke="#2e2e2e" stroke-width="1.2"/>
<line x1="60.00" y1="202.60" x2="62.60" y2="202.60" stroke="#2e2e2e" stroke-width="1.0"/>
<text x="56.40" y="205.40" font-size="7.9" fill="#3a3a3a" stroke="#3a3a3a" stroke-width="0.22" text-anchor="end">120</text>
<line x1="60.00" y1="217.00" x2="62.60" y2="217.00" stroke="#2e2e2e" stroke-width="1.0"/>
<text x="56.40" y="219.80" font-size="7.9" fill="#3a3a3a" stroke="#3a3a3a" stroke-width="0.22" text-anchor="end">100</text>
<line x1="60.00" y1="231.30" x2="62.60" y2="231.30" stroke="#2e2e2e" stroke-width="1.0"/>
<text x="56.40" y="234.10" font-size="7.9" fill="#3a3a3a" stroke="#3a3a3a" stroke-width="0.22" text-anchor="end">80</text>
<line x1="60.00" y1="245.60" x2="62.60" y2="245.60" stroke="#2e2e2e" stroke-width="1.0"/>
<text x="56.40" y="248.40" font-size="7.9" fill="#3a3a3a" stroke="#3a3a3a" stroke-width="0.22" text-anchor="end">60</text>
<line x1="60.00" y1="259.90" x2="62.60" y2="259.90" stroke="#2e2e2e" stroke-width="1.0"/>
<text x="56.40" y="262.70" font-size="7.9" fill="#3a3a3a" stroke="#3a3a3a" stroke-width="0.22" text-anchor="end">40</text>
<line x1="60.00" y1="274.20" x2="62.60" y2="274.20" stroke="#2e2e2e" stroke-width="1.0"/>
<text x="56.40" y="277.00" font-size="7.9" fill="#3a3a3a" stroke="#3a3a3a" stroke-width="0.22" text-anchor="end">20</text>
<line x1="60.00" y1="288.50" x2="62.60" y2="288.50" stroke="#2e2e2e" stroke-width="1.0"/>
<text x="56.40" y="291.30" font-size="7.9" fill="#3a3a3a" stroke="#3a3a3a" stroke-width="0.22" text-anchor="end">0</text>
<text x="36.80" y="244.20" font-size="8.6" fill="#3a3a3a" stroke="#3a3a3a" stroke-width="0.22" text-anchor="middle" textLength="46.50" lengthAdjust="spacingAndGlyphs" transform="rotate(-90.00 36.80 244.20)">Cell death (%)</text>
<line x1="62.60" y1="288.90" x2="171.80" y2="288.90" stroke="#2e2e2e" stroke-width="1.6"/>
<line x1="71.80" y1="240.80" x2="71.80" y2="245.40" stroke="#3d3d96" stroke-width="1.0"/>
<line x1="69.50" y1="240.80" x2="74.10" y2="240.80" stroke="#3d3d96" stroke-width="1.0"/>
<line x1="71.80" y1="265.70" x2="71.80" y2="271.40" stroke="#3d3d96" stroke-width="1.0"/>
<line x1="69.50" y1="271.40" x2="74.10" y2="271.40" stroke="#3d3d96" stroke-width="1.0"/>
<rect x="66.50" y="245.40" width="10.60" height="20.30" fill="none" stroke="#3d3d96" stroke-width="1.0"/>
<line x1="66.50" y1="257.30" x2="77.10" y2="257.30" stroke="#3d3d96" stroke-width="1.0"/>
<line x1="85.20" y1="287.70" x2="94.80" y2="287.70" stroke="#3d3d96" stroke-width="1.2"/>
<line x1="90.00" y1="286.60" x2="90.00" y2="287.00" stroke="#3d3d96" stroke-width="0.9"/>
<line x1="87.70" y1="286.60" x2="92.30" y2="286.60" stroke="#3d3d96" stroke-width="0.9"/>
<rect x="102.50" y="236.20" width="10.60" height="16.60" fill="none" stroke="#3d3d96" stroke-width="1.0"/>
<line x1="102.50" y1="246.00" x2="113.10" y2="246.00" stroke="#3d3d96" stroke-width="1.0"/>
<line x1="126.10" y1="273.50" x2="126.10" y2="275.70" stroke="#e24a35" stroke-width="1.0"/>
<line x1="123.80" y1="273.50" x2="128.40" y2="273.50" stroke="#e24a35" stroke-width="1.0"/>
<line x1="126.10" y1="285.30" x2="126.10" y2="286.80" stroke="#e24a35" stroke-width="1.0"/>
<line x1="123.80" y1="286.80" x2="128.40" y2="286.80" stroke="#e24a35" stroke-width="1.0"/>
<rect x="120.80" y="275.70" width="10.60" height="9.60" fill="none" stroke="#e24a35" stroke-width="1.0"/>
<line x1="120.80" y1="283.20" x2="131.40" y2="283.20" stroke="#e24a35" stroke-width="1.0"/>
<line x1="139.20" y1="287.70" x2="148.80" y2="287.70" stroke="#e24a35" stroke-width="1.2"/>
<line x1="144.00" y1="285.90" x2="144.00" y2="287.00" stroke="#e24a35" stroke-width="0.9"/>
<line x1="141.70" y1="285.90" x2="146.30" y2="285.90" stroke="#e24a35" stroke-width="0.9"/>
<line x1="162.30" y1="262.20" x2="162.30" y2="264.50" stroke="#e24a35" stroke-width="1.0"/>
<line x1="160.00" y1="262.20" x2="164.60" y2="262.20" stroke="#e24a35" stroke-width="1.0"/>
<line x1="162.30" y1="272.50" x2="162.30" y2="274.80" stroke="#e24a35" stroke-width="1.0"/>
<line x1="160.00" y1="274.80" x2="164.60" y2="274.80" stroke="#e24a35" stroke-width="1.0"/>
<rect x="157.00" y="264.50" width="10.60" height="8.00" fill="none" stroke="#e24a35" stroke-width="1.0"/>
<line x1="157.00" y1="268.70" x2="167.60" y2="268.70" stroke="#e24a35" stroke-width="1.0"/>
<polyline points="71.20,227.00 71.20,211.40 126.50,211.40 126.50,259.60" stroke="#4d4d4d" stroke-width="1.0" fill="none"/>
<polyline points="72.20,232.00 90.60,232.00" stroke="#4d4d4d" stroke-width="1.0" fill="none"/>
<polyline points="81.60,232.00 81.60,223.60 162.60,223.60 162.60,258.00" stroke="#4d4d4d" stroke-width="1.0" fill="none"/>
<polyline points="127.20,269.00 145.40,269.00" stroke="#4d4d4d" stroke-width="1.0" fill="none"/>
<polyline points="136.30,269.00 136.30,252.60 162.60,252.60" stroke="#4d4d4d" stroke-width="1.0" fill="none"/>
<circle cx="97.90" cy="207.60" r="1.15" fill="#333"/>
<circle cx="101.30" cy="207.60" r="1.15" fill="#333"/>
<circle cx="92.70" cy="219.40" r="1.15" fill="#333"/>
<circle cx="96.10" cy="219.40" r="1.15" fill="#333"/>
<circle cx="136.60" cy="219.40" r="1.15" fill="#333"/>
<circle cx="140.00" cy="219.40" r="1.15" fill="#333"/>
<circle cx="149.40" cy="248.50" r="1.15" fill="#333"/>
<line x1="108.20" y1="224.60" x2="108.20" y2="228.00" stroke="#555" stroke-width="0.8"/>
<line x1="107.20" y1="225.60" x2="109.20" y2="225.60" stroke="#555" stroke-width="0.7"/>
<line x1="107.20" y1="227.00" x2="109.20" y2="227.00" stroke="#555" stroke-width="0.7"/>
<line x1="69.70" y1="300.60" x2="73.50" y2="300.60" stroke="#333" stroke-width="0.8"/>
<line x1="71.60" y1="298.70" x2="71.60" y2="302.50" stroke="#333" stroke-width="0.8"/>
<line x1="105.90" y1="300.60" x2="109.70" y2="300.60" stroke="#333" stroke-width="0.8"/>
<line x1="107.80" y1="298.70" x2="107.80" y2="302.50" stroke="#333" stroke-width="0.8"/>
<line x1="124.10" y1="300.60" x2="127.90" y2="300.60" stroke="#333" stroke-width="0.8"/>
<line x1="126.00" y1="298.70" x2="126.00" y2="302.50" stroke="#333" stroke-width="0.8"/>
<line x1="160.50" y1="300.60" x2="164.30" y2="300.60" stroke="#333" stroke-width="0.8"/>
<line x1="162.40" y1="298.70" x2="162.40" y2="302.50" stroke="#333" stroke-width="0.8"/>
<line x1="88.00" y1="322.00" x2="91.80" y2="322.00" stroke="#333" stroke-width="0.8"/>
<line x1="89.90" y1="320.10" x2="89.90" y2="323.90" stroke="#333" stroke-width="0.8"/>
<line x1="105.90" y1="322.00" x2="109.70" y2="322.00" stroke="#333" stroke-width="0.8"/>
<line x1="107.80" y1="320.10" x2="107.80" y2="323.90" stroke="#333" stroke-width="0.8"/>
<line x1="142.10" y1="322.00" x2="145.90" y2="322.00" stroke="#333" stroke-width="0.8"/>
<line x1="144.00" y1="320.10" x2="144.00" y2="323.90" stroke="#333" stroke-width="0.8"/>
<line x1="160.50" y1="322.00" x2="164.30" y2="322.00" stroke="#333" stroke-width="0.8"/>
<line x1="162.40" y1="320.10" x2="162.40" y2="323.90" stroke="#333" stroke-width="0.8"/>
<text x="56.60" y="303.40" font-size="8.2" fill="#3a3a3a" stroke="#3a3a3a" stroke-width="0.22" text-anchor="end" textLength="27.00" lengthAdjust="spacingAndGlyphs">S63845</text>
<text x="56.60" y="313.60" font-size="8.2" fill="#3a3a3a" stroke="#3a3a3a" stroke-width="0.22" text-anchor="end" textLength="25.40" lengthAdjust="spacingAndGlyphs">(20nM)</text>
<text x="56.60" y="324.80" font-size="8.2" fill="#3a3a3a" stroke="#3a3a3a" stroke-width="0.22" text-anchor="end" textLength="38.60" lengthAdjust="spacingAndGlyphs">venetoclax</text>
<text x="56.60" y="334.80" font-size="8.2" fill="#3a3a3a" stroke="#3a3a3a" stroke-width="0.22" text-anchor="end" textLength="31.80" lengthAdjust="spacingAndGlyphs">(300 nM)</text>
<text x="56.80" y="350.00" font-size="8.8" fill="#3d3d96" stroke="#3d3d96" stroke-width="0.22" textLength="56.5" lengthAdjust="spacingAndGlyphs"><tspan font-style="italic">TP53</tspan><tspan font-size="6.8" dy="-3.2">+/+</tspan><tspan dy="3.2"> clones</tspan></text>
<text x="123.20" y="350.00" font-size="8.8" fill="#e24a35" stroke="#e24a35" stroke-width="0.22" textLength="55.5" lengthAdjust="spacingAndGlyphs"><tspan font-style="italic">TP53</tspan><tspan font-size="6.8" dy="-3.2">−/−</tspan><tspan dy="3.2"> clones</tspan></text>
<line x1="232.60" y1="203.80" x2="232.60" y2="289.10" stroke="#2e2e2e" stroke-width="1.2"/>
<line x1="230.00" y1="206.00" x2="232.60" y2="206.00" stroke="#2e2e2e" stroke-width="1.0"/>
<text x="226.80" y="208.80" font-size="7.9" fill="#3a3a3a" stroke="#3a3a3a" stroke-width="0.22" text-anchor="end">120</text>
<line x1="230.00" y1="220.00" x2="232.60" y2="220.00" stroke="#2e2e2e" stroke-width="1.0"/>
<text x="226.80" y="222.80" font-size="7.9" fill="#3a3a3a" stroke="#3a3a3a" stroke-width="0.22" text-anchor="end">100</text>
<line x1="230.00" y1="233.60" x2="232.60" y2="233.60" stroke="#2e2e2e" stroke-width="1.0"/>
<text x="226.80" y="236.40" font-size="7.9" fill="#3a3a3a" stroke="#3a3a3a" stroke-width="0.22" text-anchor="end">80</text>
<line x1="230.00" y1="247.30" x2="232.60" y2="247.30" stroke="#2e2e2e" stroke-width="1.0"/>
<text x="226.80" y="250.10" font-size="7.9" fill="#3a3a3a" stroke="#3a3a3a" stroke-width="0.22" text-anchor="end">60</text>
<line x1="230.00" y1="261.00" x2="232.60" y2="261.00" stroke="#2e2e2e" stroke-width="1.0"/>
<text x="226.80" y="263.80" font-size="7.9" fill="#3a3a3a" stroke="#3a3a3a" stroke-width="0.22" text-anchor="end">40</text>
<line x1="230.00" y1="274.80" x2="232.60" y2="274.80" stroke="#2e2e2e" stroke-width="1.0"/>
<text x="226.80" y="277.60" font-size="7.9" fill="#3a3a3a" stroke="#3a3a3a" stroke-width="0.22" text-anchor="end">20</text>
<line x1="230.00" y1="288.50" x2="232.60" y2="288.50" stroke="#2e2e2e" stroke-width="1.0"/>
<text x="226.80" y="291.30" font-size="7.9" fill="#3a3a3a" stroke="#3a3a3a" stroke-width="0.22" text-anchor="end">0</text>
<text x="207.50" y="246.00" font-size="8.6" fill="#3a3a3a" stroke="#3a3a3a" stroke-width="0.22" text-anchor="middle" textLength="46.50" lengthAdjust="spacingAndGlyphs" transform="rotate(-90.00 207.50 246.00)">Cell death (%)</text>
<line x1="232.60" y1="288.90" x2="337.40" y2="288.90" stroke="#2e2e2e" stroke-width="1.6"/>
<line x1="241.70" y1="239.00" x2="241.70" y2="239.60" stroke="#3d3d96" stroke-width="1.0"/>
<line x1="239.40" y1="239.00" x2="244.00" y2="239.00" stroke="#3d3d96" stroke-width="1.0"/>
<line x1="241.70" y1="243.90" x2="241.70" y2="244.60" stroke="#3d3d96" stroke-width="1.0"/>
<line x1="239.40" y1="244.60" x2="244.00" y2="244.60" stroke="#3d3d96" stroke-width="1.0"/>
<rect x="236.40" y="239.60" width="10.60" height="4.30" fill="none" stroke="#3d3d96" stroke-width="1.0"/>
<line x1="236.40" y1="241.70" x2="247.00" y2="241.70" stroke="#3d3d96" stroke-width="1.0"/>
<line x1="254.00" y1="287.70" x2="263.60" y2="287.70" stroke="#3d3d96" stroke-width="1.2"/>
<line x1="258.80" y1="285.30" x2="258.80" y2="287.00" stroke="#3d3d96" stroke-width="0.9"/>
<line x1="256.50" y1="285.30" x2="261.10" y2="285.30" stroke="#3d3d96" stroke-width="0.9"/>
<line x1="276.40" y1="236.50" x2="276.40" y2="238.00" stroke="#3d3d96" stroke-width="1.0"/>
<line x1="274.10" y1="238.00" x2="278.70" y2="238.00" stroke="#3d3d96" stroke-width="1.0"/>
<rect x="271.10" y="232.90" width="10.60" height="3.60" fill="none" stroke="#3d3d96" stroke-width="1.0"/>
<line x1="271.10" y1="235.00" x2="281.70" y2="235.00" stroke="#3d3d96" stroke-width="1.0"/>
<line x1="293.60" y1="259.90" x2="293.60" y2="265.50" stroke="#e24a35" stroke-width="1.0"/>
<line x1="291.30" y1="259.90" x2="295.90" y2="259.90" stroke="#e24a35" stroke-width="1.0"/>
<line x1="293.60" y1="284.50" x2="293.60" y2="287.60" stroke="#e24a35" stroke-width="1.0"/>
<line x1="291.30" y1="287.60" x2="295.90" y2="287.60" stroke="#e24a35" stroke-width="1.0"/>
<rect x="288.30" y="265.50" width="10.60" height="19.00" fill="none" stroke="#e24a35" stroke-width="1.0"/>
<line x1="288.30" y1="279.40" x2="298.90" y2="279.40" stroke="#e24a35" stroke-width="1.0"/>
<line x1="307.00" y1="287.70" x2="316.60" y2="287.70" stroke="#e24a35" stroke-width="1.2"/>
<line x1="328.60" y1="238.20" x2="328.60" y2="241.40" stroke="#e24a35" stroke-width="1.0"/>
<line x1="326.30" y1="238.20" x2="330.90" y2="238.20" stroke="#e24a35" stroke-width="1.0"/>
<line x1="328.60" y1="247.80" x2="328.60" y2="273.10" stroke="#e24a35" stroke-width="1.0"/>
<line x1="326.30" y1="273.10" x2="330.90" y2="273.10" stroke="#e24a35" stroke-width="1.0"/>
<rect x="323.30" y="241.40" width="10.60" height="6.40" fill="none" stroke="#e24a35" stroke-width="1.0"/>
<line x1="323.30" y1="246.70" x2="333.90" y2="246.70" stroke="#e24a35" stroke-width="1.0"/>
<polyline points="241.40,225.80 241.40,214.10 293.60,214.10 293.60,250.80" stroke="#4d4d4d" stroke-width="1.0" fill="none"/>
<polyline points="242.30,231.70 259.90,231.70" stroke="#4d4d4d" stroke-width="1.0" fill="none"/>
<polyline points="250.80,231.70 250.80,221.30 328.30,221.30 328.30,229.10" stroke="#4d4d4d" stroke-width="1.0" fill="none"/>
<polyline points="293.70,257.30 311.90,257.30" stroke="#4d4d4d" stroke-width="1.0" fill="none"/>
<polyline points="302.30,257.30 302.30,229.10 328.30,229.10" stroke="#4d4d4d" stroke-width="1.0" fill="none"/>
<circle cx="265.95" cy="210.00" r="1.15" fill="#333"/>
<circle cx="269.45" cy="210.00" r="1.15" fill="#333"/>
<circle cx="272.95" cy="210.00" r="1.15" fill="#333"/>
<circle cx="276.45" cy="210.00" r="1.15" fill="#333"/>
<circle cx="263.90" cy="217.90" r="1.15" fill="#333"/>
<circle cx="267.30" cy="217.90" r="1.15" fill="#333"/>
<circle cx="300.05" cy="217.60" r="1.15" fill="#333"/>
<circle cx="303.35" cy="217.60" r="1.15" fill="#333"/>
<circle cx="306.65" cy="217.60" r="1.15" fill="#333"/>
<circle cx="309.95" cy="217.60" r="1.15" fill="#333"/>
<circle cx="314.50" cy="225.40" r="1.15" fill="#333"/>
<circle cx="317.90" cy="225.40" r="1.15" fill="#333"/>
<line x1="276.70" y1="221.40" x2="276.70" y2="224.80" stroke="#555" stroke-width="0.8"/>
<line x1="275.70" y1="222.40" x2="277.70" y2="222.40" stroke="#555" stroke-width="0.7"/>
<line x1="275.70" y1="223.80" x2="277.70" y2="223.80" stroke="#555" stroke-width="0.7"/>
<line x1="239.60" y1="300.60" x2="243.40" y2="300.60" stroke="#333" stroke-width="0.8"/>
<line x1="241.50" y1="298.70" x2="241.50" y2="302.50" stroke="#333" stroke-width="0.8"/>
<line x1="274.50" y1="300.60" x2="278.30" y2="300.60" stroke="#333" stroke-width="0.8"/>
<line x1="276.40" y1="298.70" x2="276.40" y2="302.50" stroke="#333" stroke-width="0.8"/>
<line x1="291.90" y1="300.60" x2="295.70" y2="300.60" stroke="#333" stroke-width="0.8"/>
<line x1="293.80" y1="298.70" x2="293.80" y2="302.50" stroke="#333" stroke-width="0.8"/>
<line x1="326.80" y1="300.60" x2="330.60" y2="300.60" stroke="#333" stroke-width="0.8"/>
<line x1="328.70" y1="298.70" x2="328.70" y2="302.50" stroke="#333" stroke-width="0.8"/>
<line x1="256.60" y1="321.80" x2="260.40" y2="321.80" stroke="#333" stroke-width="0.8"/>
<line x1="258.50" y1="319.90" x2="258.50" y2="323.70" stroke="#333" stroke-width="0.8"/>
<line x1="274.50" y1="321.80" x2="278.30" y2="321.80" stroke="#333" stroke-width="0.8"/>
<line x1="276.40" y1="319.90" x2="276.40" y2="323.70" stroke="#333" stroke-width="0.8"/>
<line x1="308.90" y1="321.80" x2="312.70" y2="321.80" stroke="#333" stroke-width="0.8"/>
<line x1="310.80" y1="319.90" x2="310.80" y2="323.70" stroke="#333" stroke-width="0.8"/>
<line x1="326.80" y1="321.80" x2="330.60" y2="321.80" stroke="#333" stroke-width="0.8"/>
<line x1="328.70" y1="319.90" x2="328.70" y2="323.70" stroke="#333" stroke-width="0.8"/>
<text x="227.30" y="303.40" font-size="8.2" fill="#3a3a3a" stroke="#3a3a3a" stroke-width="0.22" text-anchor="end" textLength="27.00" lengthAdjust="spacingAndGlyphs">S63845</text>
<text x="227.30" y="313.60" font-size="8.2" fill="#3a3a3a" stroke="#3a3a3a" stroke-width="0.22" text-anchor="end" textLength="25.40" lengthAdjust="spacingAndGlyphs">(10nM)</text>
<text x="227.30" y="324.80" font-size="8.2" fill="#3a3a3a" stroke="#3a3a3a" stroke-width="0.22" text-anchor="end" textLength="38.60" lengthAdjust="spacingAndGlyphs">venetoclax</text>
<text x="227.30" y="334.80" font-size="8.2" fill="#3a3a3a" stroke="#3a3a3a" stroke-width="0.22" text-anchor="end" textLength="31.80" lengthAdjust="spacingAndGlyphs">(300 nM)</text>
<text x="234.00" y="350.00" font-size="8.8" fill="#3d3d96" stroke="#3d3d96" stroke-width="0.22" textLength="56.0" lengthAdjust="spacingAndGlyphs"><tspan font-style="italic">TP53</tspan><tspan font-size="6.8" dy="-3.2">+/+</tspan><tspan dy="3.2"> clones</tspan></text>
<text x="299.00" y="350.00" font-size="8.8" fill="#e24a35" stroke="#e24a35" stroke-width="0.22" textLength="56.5" lengthAdjust="spacingAndGlyphs"><tspan font-style="italic">TP53</tspan><tspan font-size="6.8" dy="-3.2">−/−</tspan><tspan dy="3.2"> clones</tspan></text>
<line x1="378.90" y1="201.50" x2="378.90" y2="289.10" stroke="#2e2e2e" stroke-width="1.2"/>
<line x1="376.30" y1="203.80" x2="378.90" y2="203.80" stroke="#2e2e2e" stroke-width="1.0"/>
<text x="373.40" y="206.60" font-size="7.9" fill="#3a3a3a" stroke="#3a3a3a" stroke-width="0.22" text-anchor="end">120</text>
<line x1="376.30" y1="217.90" x2="378.90" y2="217.90" stroke="#2e2e2e" stroke-width="1.0"/>
<text x="373.40" y="220.70" font-size="7.9" fill="#3a3a3a" stroke="#3a3a3a" stroke-width="0.22" text-anchor="end">100</text>
<line x1="376.30" y1="231.90" x2="378.90" y2="231.90" stroke="#2e2e2e" stroke-width="1.0"/>
<text x="373.40" y="234.70" font-size="7.9" fill="#3a3a3a" stroke="#3a3a3a" stroke-width="0.22" text-anchor="end">80</text>
<line x1="376.30" y1="246.00" x2="378.90" y2="246.00" stroke="#2e2e2e" stroke-width="1.0"/>
<text x="373.40" y="248.80" font-size="7.9" fill="#3a3a3a" stroke="#3a3a3a" stroke-width="0.22" text-anchor="end">60</text>
<line x1="376.30" y1="260.20" x2="378.90" y2="260.20" stroke="#2e2e2e" stroke-width="1.0"/>
<text x="373.40" y="263.00" font-size="7.9" fill="#3a3a3a" stroke="#3a3a3a" stroke-width="0.22" text-anchor="end">40</text>
<line x1="376.30" y1="274.30" x2="378.90" y2="274.30" stroke="#2e2e2e" stroke-width="1.0"/>
<text x="373.40" y="277.10" font-size="7.9" fill="#3a3a3a" stroke="#3a3a3a" stroke-width="0.22" text-anchor="end">20</text>
<line x1="376.30" y1="288.50" x2="378.90" y2="288.50" stroke="#2e2e2e" stroke-width="1.0"/>
<text x="373.40" y="291.30" font-size="7.9" fill="#3a3a3a" stroke="#3a3a3a" stroke-width="0.22" text-anchor="end">0</text>
<text x="354.50" y="244.50" font-size="8.6" fill="#3a3a3a" stroke="#3a3a3a" stroke-width="0.22" text-anchor="middle" textLength="46.50" lengthAdjust="spacingAndGlyphs" transform="rotate(-90.00 354.50 244.50)">Cell death (%)</text>
<line x1="378.90" y1="288.90" x2="487.20" y2="288.90" stroke="#2e2e2e" stroke-width="1.6"/>
<line x1="389.30" y1="229.10" x2="389.30" y2="236.10" stroke="#7a7a7a" stroke-width="1.0"/>
<line x1="387.00" y1="229.10" x2="391.60" y2="229.10" stroke="#7a7a7a" stroke-width="1.0"/>
<line x1="389.30" y1="258.30" x2="389.30" y2="262.30" stroke="#7a7a7a" stroke-width="1.0"/>
<line x1="387.00" y1="262.30" x2="391.60" y2="262.30" stroke="#7a7a7a" stroke-width="1.0"/>
<rect x="384.00" y="236.10" width="10.60" height="22.20" fill="none" stroke="#7a7a7a" stroke-width="1.0"/>
<line x1="384.00" y1="242.50" x2="394.60" y2="242.50" stroke="#7a7a7a" stroke-width="1.0"/>
<line x1="402.20" y1="287.70" x2="411.80" y2="287.70" stroke="#7a7a7a" stroke-width="1.2"/>
<line x1="407.00" y1="286.30" x2="407.00" y2="287.00" stroke="#7a7a7a" stroke-width="0.9"/>
<line x1="404.70" y1="286.30" x2="409.30" y2="286.30" stroke="#7a7a7a" stroke-width="0.9"/>
<rect x="419.90" y="226.40" width="10.60" height="7.00" fill="none" stroke="#7a7a7a" stroke-width="1.0"/>
<line x1="419.90" y1="232.30" x2="430.50" y2="232.30" stroke="#7a7a7a" stroke-width="1.0"/>
<line x1="437.80" y1="287.70" x2="447.40" y2="287.70" stroke="#3ea23a" stroke-width="1.2"/>
<line x1="442.60" y1="284.20" x2="442.60" y2="287.00" stroke="#3ea23a" stroke-width="0.9"/>
<line x1="440.30" y1="284.20" x2="444.90" y2="284.20" stroke="#3ea23a" stroke-width="0.9"/>
<line x1="455.50" y1="287.70" x2="465.10" y2="287.70" stroke="#3ea23a" stroke-width="1.2"/>
<line x1="473.70" y1="287.70" x2="483.30" y2="287.70" stroke="#3ea23a" stroke-width="1.2"/>
<line x1="478.50" y1="286.00" x2="478.50" y2="287.00" stroke="#3ea23a" stroke-width="0.9"/>
<line x1="476.20" y1="286.00" x2="480.80" y2="286.00" stroke="#3ea23a" stroke-width="0.9"/>
<polyline points="388.60,219.60 388.60,208.40 442.50,208.40 442.50,273.00" stroke="#4d4d4d" stroke-width="1.0" fill="none"/>
<polyline points="390.00,226.00 407.70,226.00" stroke="#4d4d4d" stroke-width="1.0" fill="none"/>
<polyline points="397.90,226.00 397.90,218.10 478.50,218.10 478.50,273.00" stroke="#4d4d4d" stroke-width="1.0" fill="none"/>
<circle cx="415.90" cy="204.80" r="1.15" fill="#333"/>
<circle cx="419.30" cy="204.80" r="1.15" fill="#333"/>
<circle cx="413.00" cy="215.80" r="1.15" fill="#333"/>
<circle cx="448.60" cy="215.40" r="1.15" fill="#333"/>
<circle cx="452.00" cy="215.40" r="1.15" fill="#333"/>
<line x1="425.00" y1="219.60" x2="425.00" y2="223.00" stroke="#555" stroke-width="0.8"/>
<line x1="424.00" y1="220.60" x2="426.00" y2="220.60" stroke="#555" stroke-width="0.7"/>
<line x1="424.00" y1="222.00" x2="426.00" y2="222.00" stroke="#555" stroke-width="0.7"/>
<line x1="387.60" y1="300.60" x2="391.40" y2="300.60" stroke="#333" stroke-width="0.8"/>
<line x1="389.50" y1="298.70" x2="389.50" y2="302.50" stroke="#333" stroke-width="0.8"/>
<line x1="425.20" y1="300.60" x2="429.00" y2="300.60" stroke="#333" stroke-width="0.8"/>
<line x1="427.10" y1="298.70" x2="427.10" y2="302.50" stroke="#333" stroke-width="0.8"/>
<line x1="440.70" y1="300.60" x2="444.50" y2="300.60" stroke="#333" stroke-width="0.8"/>
<line x1="442.60" y1="298.70" x2="442.60" y2="302.50" stroke="#333" stroke-width="0.8"/>
<line x1="477.40" y1="300.60" x2="481.20" y2="300.60" stroke="#333" stroke-width="0.8"/>
<line x1="479.30" y1="298.70" x2="479.30" y2="302.50" stroke="#333" stroke-width="0.8"/>
<line x1="405.30" y1="321.80" x2="409.10" y2="321.80" stroke="#333" stroke-width="0.8"/>
<line x1="407.20" y1="319.90" x2="407.20" y2="323.70" stroke="#333" stroke-width="0.8"/>
<line x1="425.20" y1="321.80" x2="429.00" y2="321.80" stroke="#333" stroke-width="0.8"/>
<line x1="427.10" y1="319.90" x2="427.10" y2="323.70" stroke="#333" stroke-width="0.8"/>
<line x1="459.70" y1="321.80" x2="463.50" y2="321.80" stroke="#333" stroke-width="0.8"/>
<line x1="461.60" y1="319.90" x2="461.60" y2="323.70" stroke="#333" stroke-width="0.8"/>
<line x1="477.40" y1="321.80" x2="481.20" y2="321.80" stroke="#333" stroke-width="0.8"/>
<line x1="479.30" y1="319.90" x2="479.30" y2="323.70" stroke="#333" stroke-width="0.8"/>
<text x="364.30" y="350.00" font-size="8.8" fill="#7a7a7a" stroke="#7a7a7a" stroke-width="0.22" textLength="57.0" lengthAdjust="spacingAndGlyphs"><tspan font-style="italic">BAK1</tspan><tspan font-size="6.8" dy="-3.2">−/−</tspan><tspan dy="3.2"> clones</tspan></text>
<text x="433.70" y="350.00" font-size="8.8" fill="#3ea23a" stroke="#3ea23a" stroke-width="0.22" textLength="51.8" lengthAdjust="spacingAndGlyphs"><tspan font-style="italic">BAX</tspan><tspan font-size="6.8" dy="-3.2">−/−</tspan><tspan dy="3.2"> clones</tspan></text>
<text x="137.40" y="392.40" font-size="10.0" fill="#222" stroke="#222" stroke-width="0.22" textLength="32.00" lengthAdjust="spacingAndGlyphs">S63845</text>
<text x="373.60" y="392.60" font-size="10.0" fill="#222" stroke="#222" stroke-width="0.22" textLength="48.40" lengthAdjust="spacingAndGlyphs">Venetoclax</text>
<line x1="62.40" y1="396.90" x2="62.40" y2="481.90" stroke="#2e2e2e" stroke-width="1.2"/>
<line x1="59.80" y1="399.00" x2="62.40" y2="399.00" stroke="#2e2e2e" stroke-width="1.0"/>
<text x="56.40" y="401.85" font-size="8.0" fill="#3a3a3a" stroke="#3a3a3a" stroke-width="0.22" text-anchor="end" textLength="12.00" lengthAdjust="spacingAndGlyphs">120</text>
<line x1="59.80" y1="413.00" x2="62.40" y2="413.00" stroke="#2e2e2e" stroke-width="1.0"/>
<text x="56.40" y="415.85" font-size="8.0" fill="#3a3a3a" stroke="#3a3a3a" stroke-width="0.22" text-anchor="end" textLength="12.00" lengthAdjust="spacingAndGlyphs">100</text>
<line x1="59.80" y1="426.70" x2="62.40" y2="426.70" stroke="#2e2e2e" stroke-width="1.0"/>
<text x="56.40" y="429.55" font-size="8.0" fill="#3a3a3a" stroke="#3a3a3a" stroke-width="0.22" text-anchor="end" textLength="8.00" lengthAdjust="spacingAndGlyphs">80</text>
<line x1="59.80" y1="440.30" x2="62.40" y2="440.30" stroke="#2e2e2e" stroke-width="1.0"/>
<text x="56.40" y="443.15" font-size="8.0" fill="#3a3a3a" stroke="#3a3a3a" stroke-width="0.22" text-anchor="end" textLength="8.00" lengthAdjust="spacingAndGlyphs">60</text>
<line x1="59.80" y1="453.90" x2="62.40" y2="453.90" stroke="#2e2e2e" stroke-width="1.0"/>
<text x="56.40" y="456.75" font-size="8.0" fill="#3a3a3a" stroke="#3a3a3a" stroke-width="0.22" text-anchor="end" textLength="8.00" lengthAdjust="spacingAndGlyphs">40</text>
<line x1="59.80" y1="467.50" x2="62.40" y2="467.50" stroke="#2e2e2e" stroke-width="1.0"/>
<text x="56.40" y="470.35" font-size="8.0" fill="#3a3a3a" stroke="#3a3a3a" stroke-width="0.22" text-anchor="end" textLength="8.00" lengthAdjust="spacingAndGlyphs">20</text>
<line x1="59.80" y1="481.30" x2="62.40" y2="481.30" stroke="#2e2e2e" stroke-width="1.0"/>
<text x="56.40" y="484.15" font-size="8.0" fill="#3a3a3a" stroke="#3a3a3a" stroke-width="0.22" text-anchor="end" textLength="4.00" lengthAdjust="spacingAndGlyphs">0</text>
<text x="37.50" y="439.50" font-size="8.2" fill="#3a3a3a" stroke="#3a3a3a" stroke-width="0.22" text-anchor="middle" textLength="46.00" lengthAdjust="spacingAndGlyphs" transform="rotate(-90.00 37.50 439.50)">Cell death (%)</text>
<line x1="62.40" y1="481.30" x2="122.60" y2="481.30" stroke="#2e2e2e" stroke-width="1.3"/>
<line x1="79.60" y1="481.30" x2="79.60" y2="484.50" stroke="#2e2e2e" stroke-width="0.9"/>
<line x1="104.70" y1="481.30" x2="104.70" y2="484.50" stroke="#2e2e2e" stroke-width="0.9"/>
<polyline points="79.60,432.50 79.60,407.30 104.70,407.30 104.70,412.50" stroke="#6e6e6e" stroke-width="1.0" fill="none"/>
<text x="75.00" y="404.70" font-size="8.6" fill="#3a3a3a" stroke="#3a3a3a" stroke-width="0.22" textLength="34.5" lengthAdjust="spacingAndGlyphs"><tspan font-style="italic">P</tspan> = .0152</text>
<g fill="#111111"><circle cx="79.40" cy="438.10" r="1.25"/><circle cx="80.20" cy="439.90" r="1.25"/><circle cx="79.40" cy="443.10" r="1.25"/><circle cx="78.80" cy="451.10" r="1.25"/><circle cx="80.40" cy="451.30" r="1.25"/><circle cx="77.90" cy="454.60" r="1.25"/><circle cx="80.20" cy="455.00" r="1.25"/><circle cx="82.20" cy="454.30" r="1.25"/><circle cx="79.60" cy="457.50" r="1.25"/><circle cx="79.60" cy="460.40" r="1.25"/><circle cx="79.60" cy="463.80" r="1.25"/><circle cx="78.60" cy="470.40" r="1.25"/><circle cx="80.60" cy="470.00" r="1.25"/><circle cx="72.10" cy="477.80" r="1.25"/><circle cx="77.50" cy="477.80" r="1.25"/><circle cx="83.90" cy="477.80" r="1.25"/><circle cx="72.50" cy="480.90" r="1.25"/><circle cx="74.60" cy="481.00" r="1.25"/><circle cx="76.80" cy="480.60" r="1.25"/><circle cx="78.90" cy="481.00" r="1.25"/><circle cx="81.10" cy="480.60" r="1.25"/><circle cx="83.20" cy="481.00" r="1.25"/><circle cx="85.40" cy="480.80" r="1.25"/><circle cx="87.00" cy="480.60" r="1.25"/><circle cx="75.70" cy="479.20" r="1.25"/><circle cx="80.00" cy="479.00" r="1.25"/></g>
<g fill="#111111"><circle cx="104.75" cy="414.40" r="1.25"/><circle cx="104.75" cy="426.20" r="1.25"/><circle cx="100.60" cy="430.60" r="1.25"/><circle cx="104.75" cy="430.80" r="1.25"/><circle cx="108.10" cy="431.90" r="1.25"/><circle cx="111.90" cy="430.60" r="1.25"/><circle cx="104.75" cy="433.80" r="1.25"/><circle cx="104.75" cy="436.30" r="1.25"/><circle cx="103.10" cy="443.80" r="1.25"/><circle cx="106.90" cy="443.80" r="1.25"/><circle cx="104.75" cy="447.50" r="1.25"/><circle cx="104.70" cy="453.00" r="1.25"/><circle cx="104.70" cy="454.80" r="1.25"/><circle cx="97.90" cy="458.40" r="1.25"/><circle cx="101.20" cy="460.80" r="1.25"/><circle cx="104.70" cy="459.70" r="1.25"/><circle cx="108.20" cy="458.60" r="1.25"/><circle cx="111.90" cy="460.80" r="1.25"/><circle cx="97.90" cy="465.10" r="1.25"/><circle cx="101.20" cy="465.10" r="1.25"/><circle cx="104.70" cy="466.70" r="1.25"/><circle cx="108.20" cy="467.00" r="1.25"/><circle cx="101.20" cy="468.80" r="1.25"/><circle cx="101.20" cy="471.00" r="1.25"/><circle cx="97.90" cy="472.80" r="1.25"/><circle cx="108.20" cy="471.50" r="1.25"/><circle cx="111.90" cy="472.80" r="1.25"/><circle cx="101.20" cy="475.30" r="1.25"/><circle cx="104.70" cy="476.90" r="1.25"/><circle cx="108.20" cy="475.30" r="1.25"/><circle cx="101.20" cy="478.70" r="1.25"/><circle cx="104.70" cy="478.90" r="1.25"/><circle cx="108.20" cy="478.70" r="1.25"/><circle cx="97.90" cy="481.20" r="1.25"/><circle cx="104.70" cy="481.20" r="1.25"/><circle cx="111.90" cy="481.20" r="1.25"/></g>
<line x1="71.30" y1="472.40" x2="87.70" y2="472.40" stroke="#222" stroke-width="1.0"/>
<line x1="96.80" y1="461.60" x2="113.00" y2="461.60" stroke="#222" stroke-width="1.0"/>
<text x="83.20" y="490.40" font-size="8.2" fill="#3a3a3a" stroke="#3a3a3a" stroke-width="0.22" text-anchor="end" textLength="29.50" lengthAdjust="spacingAndGlyphs" transform="rotate(-45.00 83.20 490.40)">no 1q21</text>
<text x="108.00" y="490.40" font-size="8.2" fill="#3a3a3a" stroke="#3a3a3a" stroke-width="0.22" text-anchor="end" textLength="17.00" lengthAdjust="spacingAndGlyphs" transform="rotate(-45.00 108.00 490.40)">1q21</text>
<line x1="186.60" y1="399.90" x2="186.60" y2="481.90" stroke="#2e2e2e" stroke-width="1.2"/>
<line x1="184.00" y1="402.30" x2="186.60" y2="402.30" stroke="#2e2e2e" stroke-width="1.0"/>
<text x="178.80" y="405.15" font-size="8.0" fill="#3a3a3a" stroke="#3a3a3a" stroke-width="0.22" text-anchor="end" textLength="12.00" lengthAdjust="spacingAndGlyphs">120</text>
<line x1="184.00" y1="415.40" x2="186.60" y2="415.40" stroke="#2e2e2e" stroke-width="1.0"/>
<text x="178.80" y="418.25" font-size="8.0" fill="#3a3a3a" stroke="#3a3a3a" stroke-width="0.22" text-anchor="end" textLength="12.00" lengthAdjust="spacingAndGlyphs">100</text>
<line x1="184.00" y1="428.60" x2="186.60" y2="428.60" stroke="#2e2e2e" stroke-width="1.0"/>
<text x="178.80" y="431.45" font-size="8.0" fill="#3a3a3a" stroke="#3a3a3a" stroke-width="0.22" text-anchor="end" textLength="8.00" lengthAdjust="spacingAndGlyphs">80</text>
<line x1="184.00" y1="441.80" x2="186.60" y2="441.80" stroke="#2e2e2e" stroke-width="1.0"/>
<text x="178.80" y="444.65" font-size="8.0" fill="#3a3a3a" stroke="#3a3a3a" stroke-width="0.22" text-anchor="end" textLength="8.00" lengthAdjust="spacingAndGlyphs">60</text>
<line x1="184.00" y1="455.00" x2="186.60" y2="455.00" stroke="#2e2e2e" stroke-width="1.0"/>
<text x="178.80" y="457.85" font-size="8.0" fill="#3a3a3a" stroke="#3a3a3a" stroke-width="0.22" text-anchor="end" textLength="8.00" lengthAdjust="spacingAndGlyphs">40</text>
<line x1="184.00" y1="468.10" x2="186.60" y2="468.10" stroke="#2e2e2e" stroke-width="1.0"/>
<text x="178.80" y="470.95" font-size="8.0" fill="#3a3a3a" stroke="#3a3a3a" stroke-width="0.22" text-anchor="end" textLength="8.00" lengthAdjust="spacingAndGlyphs">20</text>
<line x1="184.00" y1="481.30" x2="186.60" y2="481.30" stroke="#2e2e2e" stroke-width="1.0"/>
<text x="178.80" y="484.15" font-size="8.0" fill="#3a3a3a" stroke="#3a3a3a" stroke-width="0.22" text-anchor="end" textLength="4.00" lengthAdjust="spacingAndGlyphs">0</text>
<text x="161.70" y="441.00" font-size="8.2" fill="#3a3a3a" stroke="#3a3a3a" stroke-width="0.22" text-anchor="middle" textLength="46.00" lengthAdjust="spacingAndGlyphs" transform="rotate(-90.00 161.70 441.00)">Cell death (%)</text>
<line x1="186.60" y1="481.30" x2="242.60" y2="481.30" stroke="#2e2e2e" stroke-width="1.3"/>
<line x1="202.50" y1="481.30" x2="202.50" y2="484.50" stroke="#2e2e2e" stroke-width="0.9"/>
<line x1="226.90" y1="481.30" x2="226.90" y2="484.50" stroke="#2e2e2e" stroke-width="0.9"/>
<polyline points="202.50,413.80 202.50,410.00 226.90,410.00 226.90,430.60" stroke="#6e6e6e" stroke-width="1.0" fill="none"/>
<text x="205.00" y="408.20" font-size="8.6" fill="#3a3a3a" stroke="#3a3a3a" stroke-width="0.22" textLength="19.5" lengthAdjust="spacingAndGlyphs"><tspan font-style="italic">P</tspan> > .5</text>
<g fill="#111111"><circle cx="202.50" cy="481.30" r="1.25"/><circle cx="205.31" cy="481.20" r="1.25"/><circle cx="199.69" cy="481.10" r="1.25"/><circle cx="199.88" cy="480.90" r="1.25"/><circle cx="202.94" cy="480.60" r="1.25"/><circle cx="201.20" cy="480.50" r="1.25"/><circle cx="203.54" cy="480.20" r="1.25"/><circle cx="206.71" cy="480.00" r="1.25"/><circle cx="198.29" cy="479.80" r="1.25"/><circle cx="203.76" cy="479.60" r="1.25"/><circle cx="198.16" cy="479.40" r="1.25"/><circle cx="201.10" cy="478.60" r="1.25"/><circle cx="205.31" cy="478.20" r="1.25"/><circle cx="198.29" cy="477.60" r="1.25"/><circle cx="202.50" cy="476.60" r="1.25"/><circle cx="205.31" cy="476.00" r="1.25"/><circle cx="201.10" cy="475.40" r="1.25"/><circle cx="203.90" cy="474.50" r="1.25"/><circle cx="199.69" cy="474.00" r="1.25"/><circle cx="206.71" cy="473.50" r="1.25"/><circle cx="202.50" cy="472.60" r="1.25"/><circle cx="205.31" cy="472.00" r="1.25"/><circle cx="199.69" cy="471.60" r="1.25"/><circle cx="202.50" cy="470.80" r="1.25"/><circle cx="206.71" cy="470.40" r="1.25"/><circle cx="198.29" cy="470.00" r="1.25"/><circle cx="203.90" cy="469.20" r="1.25"/><circle cx="201.10" cy="468.30" r="1.25"/><circle cx="205.31" cy="468.00" r="1.25"/><circle cx="198.29" cy="467.40" r="1.25"/><circle cx="202.50" cy="466.50" r="1.25"/><circle cx="205.31" cy="466.00" r="1.25"/><circle cx="199.69" cy="465.60" r="1.25"/><circle cx="202.50" cy="464.60" r="1.25"/><circle cx="205.31" cy="463.80" r="1.25"/><circle cx="202.50" cy="462.80" r="1.25"/><circle cx="205.31" cy="462.00" r="1.25"/><circle cx="201.10" cy="461.60" r="1.25"/><circle cx="203.90" cy="460.60" r="1.25"/><circle cx="201.10" cy="459.50" r="1.25"/><circle cx="203.90" cy="458.60" r="1.25"/><circle cx="199.69" cy="458.00" r="1.25"/><circle cx="202.50" cy="457.30" r="1.25"/><circle cx="203.90" cy="456.00" r="1.25"/><circle cx="201.10" cy="455.50" r="1.25"/><circle cx="205.31" cy="454.80" r="1.25"/><circle cx="202.50" cy="453.60" r="1.25"/><circle cx="203.90" cy="452.30" r="1.25"/><circle cx="202.50" cy="451.00" r="1.25"/><circle cx="202.50" cy="449.20" r="1.25"/><circle cx="202.50" cy="446.60" r="1.25"/><circle cx="203.90" cy="445.40" r="1.25"/><circle cx="202.50" cy="444.00" r="1.25"/><circle cx="202.50" cy="440.20" r="1.25"/><circle cx="203.90" cy="439.00" r="1.25"/><circle cx="202.50" cy="437.60" r="1.25"/><circle cx="202.50" cy="434.80" r="1.25"/><circle cx="203.90" cy="433.60" r="1.25"/><circle cx="202.50" cy="432.00" r="1.25"/><circle cx="202.50" cy="428.00" r="1.25"/><circle cx="202.50" cy="416.30" r="1.25"/></g>
<g fill="#111111"><circle cx="196.00" cy="481.00" r="1.25"/><circle cx="198.20" cy="481.20" r="1.25"/><circle cx="206.80" cy="481.20" r="1.25"/><circle cx="209.00" cy="481.00" r="1.25"/><circle cx="200.00" cy="480.20" r="1.25"/><circle cx="205.00" cy="480.40" r="1.25"/></g>
<g fill="#111111"><circle cx="224.40" cy="433.00" r="1.25"/><circle cx="224.40" cy="435.60" r="1.25"/><circle cx="229.40" cy="433.50" r="1.25"/><circle cx="226.90" cy="441.30" r="1.25"/><circle cx="226.90" cy="445.00" r="1.25"/><circle cx="229.40" cy="465.60" r="1.25"/><circle cx="224.40" cy="468.00" r="1.25"/><circle cx="224.40" cy="472.50" r="1.25"/><circle cx="229.40" cy="472.50" r="1.25"/><circle cx="224.40" cy="478.00" r="1.25"/><circle cx="229.40" cy="478.00" r="1.25"/><circle cx="229.40" cy="480.60" r="1.25"/><circle cx="224.40" cy="480.80" r="1.25"/></g>
<line x1="194.40" y1="468.40" x2="210.60" y2="468.40" stroke="#222" stroke-width="1.0"/>
<line x1="219.40" y1="467.80" x2="235.00" y2="467.80" stroke="#222" stroke-width="1.0"/>
<text x="205.60" y="490.40" font-size="8.2" fill="#3a3a3a" stroke="#3a3a3a" stroke-width="0.22" text-anchor="end" textLength="36.50" lengthAdjust="spacingAndGlyphs" transform="rotate(-45.00 205.60 490.40)">no del17p</text>
<text x="230.00" y="490.40" font-size="8.2" fill="#3a3a3a" stroke="#3a3a3a" stroke-width="0.22" text-anchor="end" textLength="25.50" lengthAdjust="spacingAndGlyphs" transform="rotate(-45.00 230.00 490.40)">del17p</text>
<line x1="307.40" y1="396.90" x2="307.40" y2="481.90" stroke="#2e2e2e" stroke-width="1.2"/>
<line x1="304.80" y1="399.00" x2="307.40" y2="399.00" stroke="#2e2e2e" stroke-width="1.0"/>
<text x="301.40" y="401.85" font-size="8.0" fill="#3a3a3a" stroke="#3a3a3a" stroke-width="0.22" text-anchor="end" textLength="12.00" lengthAdjust="spacingAndGlyphs">120</text>
<line x1="304.80" y1="413.00" x2="307.40" y2="413.00" stroke="#2e2e2e" stroke-width="1.0"/>
<text x="301.40" y="415.85" font-size="8.0" fill="#3a3a3a" stroke="#3a3a3a" stroke-width="0.22" text-anchor="end" textLength="12.00" lengthAdjust="spacingAndGlyphs">100</text>
<line x1="304.80" y1="426.70" x2="307.40" y2="426.70" stroke="#2e2e2e" stroke-width="1.0"/>
<text x="301.40" y="429.55" font-size="8.0" fill="#3a3a3a" stroke="#3a3a3a" stroke-width="0.22" text-anchor="end" textLength="8.00" lengthAdjust="spacingAndGlyphs">80</text>
<line x1="304.80" y1="440.30" x2="307.40" y2="440.30" stroke="#2e2e2e" stroke-width="1.0"/>
<text x="301.40" y="443.15" font-size="8.0" fill="#3a3a3a" stroke="#3a3a3a" stroke-width="0.22" text-anchor="end" textLength="8.00" lengthAdjust="spacingAndGlyphs">60</text>
<line x1="304.80" y1="453.90" x2="307.40" y2="453.90" stroke="#2e2e2e" stroke-width="1.0"/>
<text x="301.40" y="456.75" font-size="8.0" fill="#3a3a3a" stroke="#3a3a3a" stroke-width="0.22" text-anchor="end" textLength="8.00" lengthAdjust="spacingAndGlyphs">40</text>
<line x1="304.80" y1="467.50" x2="307.40" y2="467.50" stroke="#2e2e2e" stroke-width="1.0"/>
<text x="301.40" y="470.35" font-size="8.0" fill="#3a3a3a" stroke="#3a3a3a" stroke-width="0.22" text-anchor="end" textLength="8.00" lengthAdjust="spacingAndGlyphs">20</text>
<line x1="304.80" y1="481.30" x2="307.40" y2="481.30" stroke="#2e2e2e" stroke-width="1.0"/>
<text x="301.40" y="484.15" font-size="8.0" fill="#3a3a3a" stroke="#3a3a3a" stroke-width="0.22" text-anchor="end" textLength="4.00" lengthAdjust="spacingAndGlyphs">0</text>
<text x="282.60" y="439.50" font-size="8.2" fill="#3a3a3a" stroke="#3a3a3a" stroke-width="0.22" text-anchor="middle" textLength="46.00" lengthAdjust="spacingAndGlyphs" transform="rotate(-90.00 282.60 439.50)">Cell death (%)</text>
<line x1="307.40" y1="481.30" x2="366.40" y2="481.30" stroke="#2e2e2e" stroke-width="1.3"/>
<line x1="324.40" y1="481.30" x2="324.40" y2="484.50" stroke="#2e2e2e" stroke-width="0.9"/>
<line x1="349.80" y1="481.30" x2="349.80" y2="484.50" stroke="#2e2e2e" stroke-width="0.9"/>
<polyline points="324.40,416.20 324.40,407.00 349.80,407.00 349.80,412.00" stroke="#6e6e6e" stroke-width="1.0" fill="none"/>
<text x="325.30" y="404.70" font-size="8.6" fill="#3a3a3a" stroke="#3a3a3a" stroke-width="0.22" textLength="24.5" lengthAdjust="spacingAndGlyphs"><tspan font-style="italic">P</tspan> > .15</text>
<g fill="#111111"><circle cx="328.10" cy="416.25" r="1.25"/><circle cx="324.40" cy="418.75" r="1.25"/><circle cx="324.40" cy="422.25" r="1.25"/><circle cx="328.10" cy="426.00" r="1.25"/><circle cx="324.40" cy="427.25" r="1.25"/><circle cx="321.25" cy="440.25" r="1.25"/><circle cx="324.40" cy="442.50" r="1.25"/><circle cx="322.50" cy="445.25" r="1.25"/><circle cx="326.25" cy="446.90" r="1.25"/><circle cx="321.25" cy="453.75" r="1.25"/><circle cx="328.10" cy="455.25" r="1.25"/><circle cx="324.40" cy="457.50" r="1.25"/><circle cx="321.25" cy="460.00" r="1.25"/><circle cx="331.90" cy="462.10" r="1.25"/><circle cx="317.50" cy="464.75" r="1.25"/><circle cx="328.10" cy="466.90" r="1.25"/><circle cx="321.25" cy="468.75" r="1.25"/><circle cx="324.40" cy="471.25" r="1.25"/><circle cx="317.50" cy="472.50" r="1.25"/><circle cx="321.25" cy="473.10" r="1.25"/><circle cx="328.10" cy="473.10" r="1.25"/><circle cx="317.50" cy="475.60" r="1.25"/><circle cx="331.90" cy="475.25" r="1.25"/><circle cx="324.40" cy="477.50" r="1.25"/><circle cx="328.10" cy="476.50" r="1.25"/><circle cx="317.50" cy="480.60" r="1.25"/><circle cx="321.25" cy="480.60" r="1.25"/><circle cx="324.40" cy="480.60" r="1.25"/><circle cx="328.10" cy="480.60" r="1.25"/><circle cx="331.90" cy="480.60" r="1.25"/><circle cx="321.20" cy="465.50" r="1.25"/></g>
<g fill="#111111"><circle cx="349.75" cy="418.00" r="1.25"/><circle cx="348.10" cy="422.25" r="1.25"/><circle cx="349.75" cy="422.90" r="1.25"/><circle cx="351.25" cy="423.50" r="1.25"/><circle cx="349.75" cy="431.90" r="1.25"/><circle cx="349.75" cy="443.10" r="1.25"/><circle cx="348.10" cy="449.00" r="1.25"/><circle cx="351.25" cy="450.60" r="1.25"/><circle cx="349.75" cy="454.00" r="1.25"/><circle cx="349.75" cy="458.75" r="1.25"/><circle cx="348.10" cy="461.25" r="1.25"/><circle cx="351.25" cy="462.50" r="1.25"/><circle cx="349.75" cy="465.00" r="1.25"/><circle cx="346.90" cy="468.75" r="1.25"/><circle cx="352.50" cy="468.10" r="1.25"/><circle cx="349.75" cy="470.60" r="1.25"/><circle cx="348.10" cy="472.50" r="1.25"/><circle cx="351.25" cy="472.50" r="1.25"/><circle cx="349.75" cy="475.00" r="1.25"/><circle cx="348.10" cy="475.60" r="1.25"/><circle cx="342.50" cy="478.10" r="1.25"/><circle cx="345.00" cy="479.40" r="1.25"/><circle cx="347.50" cy="480.00" r="1.25"/><circle cx="350.00" cy="480.60" r="1.25"/><circle cx="352.50" cy="480.60" r="1.25"/><circle cx="356.25" cy="478.10" r="1.25"/><circle cx="354.40" cy="480.60" r="1.25"/><circle cx="340.90" cy="480.60" r="1.25"/><circle cx="346.00" cy="477.20" r="1.25"/><circle cx="353.00" cy="476.80" r="1.25"/></g>
<line x1="316.25" y1="464.50" x2="332.50" y2="464.50" stroke="#222" stroke-width="1.0"/>
<line x1="341.25" y1="471.75" x2="358.00" y2="471.75" stroke="#222" stroke-width="1.0"/>
<text x="328.20" y="490.40" font-size="8.2" fill="#3a3a3a" stroke="#3a3a3a" stroke-width="0.22" text-anchor="end" textLength="29.50" lengthAdjust="spacingAndGlyphs" transform="rotate(-45.00 328.20 490.40)">no 1q21</text>
<text x="353.20" y="490.40" font-size="8.2" fill="#3a3a3a" stroke="#3a3a3a" stroke-width="0.22" text-anchor="end" textLength="17.00" lengthAdjust="spacingAndGlyphs" transform="rotate(-45.00 353.20 490.40)">1q21</text>
<line x1="431.60" y1="399.90" x2="431.60" y2="481.90" stroke="#2e2e2e" stroke-width="1.2"/>
<line x1="429.00" y1="401.70" x2="431.60" y2="401.70" stroke="#2e2e2e" stroke-width="1.0"/>
<text x="423.60" y="404.55" font-size="8.0" fill="#3a3a3a" stroke="#3a3a3a" stroke-width="0.22" text-anchor="end" textLength="12.00" lengthAdjust="spacingAndGlyphs">120</text>
<line x1="429.00" y1="415.00" x2="431.60" y2="415.00" stroke="#2e2e2e" stroke-width="1.0"/>
<text x="423.60" y="417.85" font-size="8.0" fill="#3a3a3a" stroke="#3a3a3a" stroke-width="0.22" text-anchor="end" textLength="12.00" lengthAdjust="spacingAndGlyphs">100</text>
<line x1="429.00" y1="428.30" x2="431.60" y2="428.30" stroke="#2e2e2e" stroke-width="1.0"/>
<text x="423.60" y="431.15" font-size="8.0" fill="#3a3a3a" stroke="#3a3a3a" stroke-width="0.22" text-anchor="end" textLength="8.00" lengthAdjust="spacingAndGlyphs">80</text>
<line x1="429.00" y1="441.60" x2="431.60" y2="441.60" stroke="#2e2e2e" stroke-width="1.0"/>
<text x="423.60" y="444.45" font-size="8.0" fill="#3a3a3a" stroke="#3a3a3a" stroke-width="0.22" text-anchor="end" textLength="8.00" lengthAdjust="spacingAndGlyphs">60</text>
<line x1="429.00" y1="454.80" x2="431.60" y2="454.80" stroke="#2e2e2e" stroke-width="1.0"/>
<text x="423.60" y="457.65" font-size="8.0" fill="#3a3a3a" stroke="#3a3a3a" stroke-width="0.22" text-anchor="end" textLength="8.00" lengthAdjust="spacingAndGlyphs">40</text>
<line x1="429.00" y1="468.10" x2="431.60" y2="468.10" stroke="#2e2e2e" stroke-width="1.0"/>
<text x="423.60" y="470.95" font-size="8.0" fill="#3a3a3a" stroke="#3a3a3a" stroke-width="0.22" text-anchor="end" textLength="8.00" lengthAdjust="spacingAndGlyphs">20</text>
<line x1="429.00" y1="481.30" x2="431.60" y2="481.30" stroke="#2e2e2e" stroke-width="1.0"/>
<text x="423.60" y="484.15" font-size="8.0" fill="#3a3a3a" stroke="#3a3a3a" stroke-width="0.22" text-anchor="end" textLength="4.00" lengthAdjust="spacingAndGlyphs">0</text>
<text x="406.30" y="441.00" font-size="8.2" fill="#3a3a3a" stroke="#3a3a3a" stroke-width="0.22" text-anchor="middle" textLength="46.00" lengthAdjust="spacingAndGlyphs" transform="rotate(-90.00 406.30 441.00)">Cell death (%)</text>
<line x1="431.60" y1="481.30" x2="487.60" y2="481.30" stroke="#2e2e2e" stroke-width="1.3"/>
<line x1="447.30" y1="481.30" x2="447.30" y2="484.50" stroke="#2e2e2e" stroke-width="0.9"/>
<line x1="471.80" y1="481.30" x2="471.80" y2="484.50" stroke="#2e2e2e" stroke-width="0.9"/>
<polyline points="447.30,413.80 447.30,409.50 471.80,409.50 471.80,419.50" stroke="#6e6e6e" stroke-width="1.0" fill="none"/>
<text x="450.50" y="407.40" font-size="8.6" fill="#3a3a3a" stroke="#3a3a3a" stroke-width="0.22" textLength="19.5" lengthAdjust="spacingAndGlyphs"><tspan font-style="italic">P</tspan> > .8</text>
<g fill="#111111"><circle cx="447.30" cy="481.20" r="1.25"/><circle cx="450.11" cy="481.00" r="1.25"/><circle cx="444.50" cy="480.80" r="1.25"/><circle cx="442.43" cy="480.60" r="1.25"/><circle cx="450.67" cy="480.20" r="1.25"/><circle cx="444.89" cy="480.00" r="1.25"/><circle cx="448.70" cy="479.60" r="1.25"/><circle cx="444.64" cy="479.20" r="1.25"/><circle cx="451.51" cy="478.60" r="1.25"/><circle cx="447.30" cy="478.20" r="1.25"/><circle cx="448.70" cy="477.00" r="1.25"/><circle cx="445.90" cy="476.40" r="1.25"/><circle cx="450.11" cy="475.80" r="1.25"/><circle cx="447.30" cy="474.60" r="1.25"/><circle cx="450.11" cy="474.00" r="1.25"/><circle cx="445.90" cy="473.40" r="1.25"/><circle cx="448.70" cy="472.60" r="1.25"/><circle cx="444.50" cy="472.20" r="1.25"/><circle cx="447.30" cy="471.00" r="1.25"/><circle cx="450.11" cy="470.20" r="1.25"/><circle cx="445.90" cy="469.40" r="1.25"/><circle cx="447.30" cy="467.70" r="1.25"/><circle cx="448.70" cy="466.00" r="1.25"/><circle cx="447.30" cy="464.20" r="1.25"/><circle cx="448.70" cy="462.50" r="1.25"/><circle cx="447.30" cy="460.80" r="1.25"/><circle cx="447.30" cy="459.00" r="1.25"/><circle cx="448.70" cy="457.30" r="1.25"/><circle cx="447.30" cy="455.60" r="1.25"/><circle cx="447.30" cy="453.80" r="1.25"/><circle cx="448.70" cy="452.10" r="1.25"/><circle cx="447.30" cy="450.40" r="1.25"/><circle cx="447.30" cy="446.30" r="1.25"/><circle cx="448.70" cy="444.60" r="1.25"/><circle cx="447.30" cy="442.80" r="1.25"/><circle cx="447.30" cy="441.00" r="1.25"/><circle cx="447.30" cy="433.70" r="1.25"/><circle cx="447.30" cy="429.40" r="1.25"/><circle cx="447.30" cy="423.80" r="1.25"/><circle cx="447.30" cy="420.40" r="1.25"/><circle cx="448.70" cy="418.70" r="1.25"/></g>
<g fill="#111111"><circle cx="440.80" cy="481.00" r="1.25"/><circle cx="443.00" cy="481.20" r="1.25"/><circle cx="451.60" cy="481.20" r="1.25"/><circle cx="453.80" cy="481.00" r="1.25"/><circle cx="445.00" cy="480.20" r="1.25"/><circle cx="449.80" cy="480.40" r="1.25"/></g>
<g fill="#111111"><circle cx="469.20" cy="425.00" r="1.25"/><circle cx="474.40" cy="424.80" r="1.25"/><circle cx="471.80" cy="428.20" r="1.25"/><circle cx="471.80" cy="447.80" r="1.25"/><circle cx="469.20" cy="465.60" r="1.25"/><circle cx="474.40" cy="465.60" r="1.25"/><circle cx="471.80" cy="474.60" r="1.25"/><circle cx="469.20" cy="477.80" r="1.25"/><circle cx="474.40" cy="477.80" r="1.25"/><circle cx="469.20" cy="480.60" r="1.25"/><circle cx="474.40" cy="480.60" r="1.25"/></g>
<line x1="439.80" y1="469.40" x2="455.40" y2="469.40" stroke="#222" stroke-width="1.0"/>
<line x1="464.40" y1="470.90" x2="479.60" y2="470.90" stroke="#222" stroke-width="1.0"/>
<text x="450.40" y="490.40" font-size="8.2" fill="#3a3a3a" stroke="#3a3a3a" stroke-width="0.22" text-anchor="end" textLength="36.50" lengthAdjust="spacingAndGlyphs" transform="rotate(-45.00 450.40 490.40)">no del17p</text>
<text x="475.00" y="490.40" font-size="8.2" fill="#3a3a3a" stroke="#3a3a3a" stroke-width="0.22" text-anchor="end" textLength="25.50" lengthAdjust="spacingAndGlyphs" transform="rotate(-45.00 475.00 490.40)">del17p</text>
<text x="227.00" y="545.30" font-size="10.0" fill="#222" stroke="#222" stroke-width="0.22" textLength="86.00" lengthAdjust="spacingAndGlyphs">S63845+Venetoclax</text>
<line x1="140.50" y1="553.00" x2="140.50" y2="637.70" stroke="#2e2e2e" stroke-width="1.2"/>
<line x1="137.90" y1="555.60" x2="140.50" y2="555.60" stroke="#2e2e2e" stroke-width="1.0"/>
<text x="134.80" y="558.45" font-size="8.0" fill="#3a3a3a" stroke="#3a3a3a" stroke-width="0.22" text-anchor="end" textLength="12.00" lengthAdjust="spacingAndGlyphs">120</text>
<line x1="137.90" y1="569.20" x2="140.50" y2="569.20" stroke="#2e2e2e" stroke-width="1.0"/>
<text x="134.80" y="572.05" font-size="8.0" fill="#3a3a3a" stroke="#3a3a3a" stroke-width="0.22" text-anchor="end" textLength="12.00" lengthAdjust="spacingAndGlyphs">100</text>
<line x1="137.90" y1="582.80" x2="140.50" y2="582.80" stroke="#2e2e2e" stroke-width="1.0"/>
<text x="134.80" y="585.65" font-size="8.0" fill="#3a3a3a" stroke="#3a3a3a" stroke-width="0.22" text-anchor="end" textLength="8.00" lengthAdjust="spacingAndGlyphs">80</text>
<line x1="137.90" y1="596.30" x2="140.50" y2="596.30" stroke="#2e2e2e" stroke-width="1.0"/>
<text x="134.80" y="599.15" font-size="8.0" fill="#3a3a3a" stroke="#3a3a3a" stroke-width="0.22" text-anchor="end" textLength="8.00" lengthAdjust="spacingAndGlyphs">60</text>
<line x1="137.90" y1="609.90" x2="140.50" y2="609.90" stroke="#2e2e2e" stroke-width="1.0"/>
<text x="134.80" y="612.75" font-size="8.0" fill="#3a3a3a" stroke="#3a3a3a" stroke-width="0.22" text-anchor="end" textLength="8.00" lengthAdjust="spacingAndGlyphs">40</text>
<line x1="137.90" y1="623.50" x2="140.50" y2="623.50" stroke="#2e2e2e" stroke-width="1.0"/>
<text x="134.80" y="626.35" font-size="8.0" fill="#3a3a3a" stroke="#3a3a3a" stroke-width="0.22" text-anchor="end" textLength="8.00" lengthAdjust="spacingAndGlyphs">20</text>
<line x1="137.90" y1="637.10" x2="140.50" y2="637.10" stroke="#2e2e2e" stroke-width="1.0"/>
<text x="134.80" y="639.95" font-size="8.0" fill="#3a3a3a" stroke="#3a3a3a" stroke-width="0.22" text-anchor="end" textLength="4.00" lengthAdjust="spacingAndGlyphs">0</text>
<text x="114.60" y="595.60" font-size="8.2" fill="#3a3a3a" stroke="#3a3a3a" stroke-width="0.22" text-anchor="middle" textLength="46.20" lengthAdjust="spacingAndGlyphs" transform="rotate(-90.00 114.60 595.60)">Cell death (%)</text>
<line x1="140.50" y1="637.10" x2="199.60" y2="637.10" stroke="#2e2e2e" stroke-width="1.3"/>
<line x1="157.40" y1="637.10" x2="157.40" y2="640.30" stroke="#2e2e2e" stroke-width="0.9"/>
<line x1="183.00" y1="637.10" x2="183.00" y2="640.30" stroke="#2e2e2e" stroke-width="0.9"/>
<polyline points="157.40,567.50 157.40,561.40 183.00,561.40 183.00,565.00" stroke="#6e6e6e" stroke-width="1.0" fill="none"/>
<text x="160.40" y="559.80" font-size="8.6" fill="#3a3a3a" stroke="#3a3a3a" stroke-width="0.22" textLength="20.0" lengthAdjust="spacingAndGlyphs"><tspan>P</tspan> > .2</text>
<g fill="#111111"><circle cx="150.60" cy="571.10" r="1.25"/><circle cx="153.20" cy="570.50" r="1.25"/><circle cx="155.90" cy="569.60" r="1.25"/><circle cx="158.50" cy="570.50" r="1.25"/><circle cx="161.80" cy="571.10" r="1.25"/><circle cx="165.10" cy="570.90" r="1.25"/><circle cx="153.20" cy="574.30" r="1.25"/><circle cx="156.50" cy="573.10" r="1.25"/><circle cx="159.20" cy="573.80" r="1.25"/><circle cx="161.80" cy="573.50" r="1.25"/><circle cx="153.20" cy="581.00" r="1.25"/><circle cx="155.90" cy="581.00" r="1.25"/><circle cx="159.20" cy="580.10" r="1.25"/><circle cx="161.80" cy="581.00" r="1.25"/><circle cx="150.60" cy="585.00" r="1.25"/><circle cx="155.90" cy="584.10" r="1.25"/><circle cx="159.20" cy="584.40" r="1.25"/><circle cx="162.50" cy="584.60" r="1.25"/><circle cx="150.60" cy="587.70" r="1.25"/><circle cx="153.20" cy="587.70" r="1.25"/><circle cx="156.50" cy="587.70" r="1.25"/><circle cx="159.20" cy="587.70" r="1.25"/><circle cx="162.50" cy="587.70" r="1.25"/><circle cx="165.10" cy="587.70" r="1.25"/><circle cx="153.20" cy="593.60" r="1.25"/><circle cx="156.50" cy="594.70" r="1.25"/><circle cx="159.20" cy="592.60" r="1.25"/><circle cx="161.80" cy="589.60" r="1.25"/><circle cx="157.20" cy="597.80" r="1.25"/><circle cx="157.80" cy="607.50" r="1.25"/><circle cx="156.50" cy="615.40" r="1.25"/><circle cx="159.60" cy="617.70" r="1.25"/><circle cx="157.80" cy="623.00" r="1.25"/><circle cx="156.50" cy="636.60" r="1.25"/><circle cx="159.20" cy="635.60" r="1.25"/></g>
<g fill="#111111"><circle cx="175.60" cy="570.00" r="1.25"/><circle cx="178.20" cy="569.60" r="1.25"/><circle cx="180.80" cy="570.40" r="1.25"/><circle cx="183.40" cy="569.60" r="1.25"/><circle cx="186.00" cy="570.20" r="1.25"/><circle cx="188.60" cy="569.80" r="1.25"/><circle cx="191.00" cy="570.40" r="1.25"/><circle cx="177.00" cy="572.60" r="1.25"/><circle cx="179.60" cy="572.20" r="1.25"/><circle cx="182.20" cy="573.00" r="1.25"/><circle cx="184.80" cy="572.40" r="1.25"/><circle cx="187.40" cy="572.80" r="1.25"/><circle cx="190.00" cy="572.40" r="1.25"/><circle cx="178.40" cy="575.20" r="1.25"/><circle cx="181.00" cy="575.60" r="1.25"/><circle cx="183.60" cy="575.00" r="1.25"/><circle cx="186.20" cy="575.80" r="1.25"/><circle cx="180.00" cy="577.80" r="1.25"/><circle cx="185.00" cy="578.00" r="1.25"/><circle cx="182.30" cy="580.40" r="1.25"/><circle cx="183.60" cy="582.40" r="1.25"/><circle cx="181.20" cy="588.40" r="1.25"/><circle cx="183.80" cy="588.60" r="1.25"/><circle cx="186.50" cy="589.40" r="1.25"/><circle cx="183.00" cy="593.00" r="1.25"/><circle cx="185.20" cy="593.00" r="1.25"/><circle cx="181.20" cy="597.00" r="1.25"/><circle cx="183.80" cy="598.60" r="1.25"/><circle cx="186.80" cy="597.20" r="1.25"/><circle cx="183.00" cy="601.30" r="1.25"/><circle cx="183.00" cy="607.50" r="1.25"/><circle cx="183.00" cy="611.50" r="1.25"/><circle cx="183.00" cy="614.80" r="1.25"/><circle cx="183.00" cy="619.40" r="1.25"/><circle cx="183.00" cy="622.40" r="1.25"/></g>
<line x1="149.30" y1="587.40" x2="165.80" y2="587.40" stroke="#222" stroke-width="1.0"/>
<line x1="174.60" y1="577.80" x2="191.30" y2="577.80" stroke="#222" stroke-width="1.0"/>
<text x="160.40" y="645.80" font-size="8.2" fill="#3a3a3a" stroke="#3a3a3a" stroke-width="0.22" text-anchor="end" textLength="29.50" lengthAdjust="spacingAndGlyphs" transform="rotate(-45.00 160.40 645.80)">no 1q21</text>
<text x="186.00" y="645.80" font-size="8.2" fill="#3a3a3a" stroke="#3a3a3a" stroke-width="0.22" text-anchor="end" textLength="17.00" lengthAdjust="spacingAndGlyphs" transform="rotate(-45.00 186.00 645.80)">1q21</text>
<line x1="242.50" y1="556.00" x2="242.50" y2="638.00" stroke="#2e2e2e" stroke-width="1.2"/>
<line x1="239.90" y1="558.70" x2="242.50" y2="558.70" stroke="#2e2e2e" stroke-width="1.0"/>
<text x="236.80" y="561.55" font-size="8.0" fill="#3a3a3a" stroke="#3a3a3a" stroke-width="0.22" text-anchor="end" textLength="12.00" lengthAdjust="spacingAndGlyphs">120</text>
<line x1="239.90" y1="571.80" x2="242.50" y2="571.80" stroke="#2e2e2e" stroke-width="1.0"/>
<text x="236.80" y="574.65" font-size="8.0" fill="#3a3a3a" stroke="#3a3a3a" stroke-width="0.22" text-anchor="end" textLength="12.00" lengthAdjust="spacingAndGlyphs">100</text>
<line x1="239.90" y1="584.90" x2="242.50" y2="584.90" stroke="#2e2e2e" stroke-width="1.0"/>
<text x="236.80" y="587.75" font-size="8.0" fill="#3a3a3a" stroke="#3a3a3a" stroke-width="0.22" text-anchor="end" textLength="8.00" lengthAdjust="spacingAndGlyphs">80</text>
<line x1="239.90" y1="598.00" x2="242.50" y2="598.00" stroke="#2e2e2e" stroke-width="1.0"/>
<text x="236.80" y="600.85" font-size="8.0" fill="#3a3a3a" stroke="#3a3a3a" stroke-width="0.22" text-anchor="end" textLength="8.00" lengthAdjust="spacingAndGlyphs">60</text>
<line x1="239.90" y1="611.10" x2="242.50" y2="611.10" stroke="#2e2e2e" stroke-width="1.0"/>
<text x="236.80" y="613.95" font-size="8.0" fill="#3a3a3a" stroke="#3a3a3a" stroke-width="0.22" text-anchor="end" textLength="8.00" lengthAdjust="spacingAndGlyphs">40</text>
<line x1="239.90" y1="624.30" x2="242.50" y2="624.30" stroke="#2e2e2e" stroke-width="1.0"/>
<text x="236.80" y="627.15" font-size="8.0" fill="#3a3a3a" stroke="#3a3a3a" stroke-width="0.22" text-anchor="end" textLength="8.00" lengthAdjust="spacingAndGlyphs">20</text>
<line x1="239.90" y1="637.40" x2="242.50" y2="637.40" stroke="#2e2e2e" stroke-width="1.0"/>
<text x="236.80" y="640.25" font-size="8.0" fill="#3a3a3a" stroke="#3a3a3a" stroke-width="0.22" text-anchor="end" textLength="4.00" lengthAdjust="spacingAndGlyphs">0</text>
<text x="217.90" y="597.50" font-size="8.2" fill="#3a3a3a" stroke="#3a3a3a" stroke-width="0.22" text-anchor="middle" textLength="47.50" lengthAdjust="spacingAndGlyphs" transform="rotate(-90.00 217.90 597.50)">Cell death (%)</text>
<line x1="242.50" y1="637.40" x2="299.60" y2="637.40" stroke="#2e2e2e" stroke-width="1.3"/>
<line x1="258.90" y1="637.40" x2="258.90" y2="640.60" stroke="#2e2e2e" stroke-width="0.9"/>
<line x1="283.20" y1="637.40" x2="283.20" y2="640.60" stroke="#2e2e2e" stroke-width="0.9"/>
<polyline points="258.90,568.80 258.90,564.40 283.20,564.40 283.20,568.00" stroke="#6e6e6e" stroke-width="1.0" fill="none"/>
<text x="261.20" y="562.30" font-size="8.6" fill="#3a3a3a" stroke="#3a3a3a" stroke-width="0.22" textLength="20.0" lengthAdjust="spacingAndGlyphs"><tspan font-style="italic">P</tspan> > .7</text>
<g fill="#111111"><circle cx="252.55" cy="570.96" r="1.25"/><circle cx="255.12" cy="570.97" r="1.25"/><circle cx="257.66" cy="570.58" r="1.25"/><circle cx="260.36" cy="571.44" r="1.25"/><circle cx="262.97" cy="571.29" r="1.25"/><circle cx="265.79" cy="570.48" r="1.25"/><circle cx="253.71" cy="573.71" r="1.25"/><circle cx="256.04" cy="573.04" r="1.25"/><circle cx="259.19" cy="573.57" r="1.25"/><circle cx="261.78" cy="574.05" r="1.25"/><circle cx="264.47" cy="574.11" r="1.25"/><circle cx="252.07" cy="576.56" r="1.25"/><circle cx="254.81" cy="576.72" r="1.25"/><circle cx="257.85" cy="575.72" r="1.25"/><circle cx="259.96" cy="575.86" r="1.25"/><circle cx="263.32" cy="576.12" r="1.25"/><circle cx="265.75" cy="575.96" r="1.25"/><circle cx="254.86" cy="578.66" r="1.25"/><circle cx="257.43" cy="578.90" r="1.25"/><circle cx="260.32" cy="579.29" r="1.25"/><circle cx="263.10" cy="579.31" r="1.25"/><circle cx="253.79" cy="581.99" r="1.25"/><circle cx="256.34" cy="581.00" r="1.25"/><circle cx="259.19" cy="581.96" r="1.25"/><circle cx="261.92" cy="581.48" r="1.25"/><circle cx="264.47" cy="581.05" r="1.25"/><circle cx="253.77" cy="584.09" r="1.25"/><circle cx="256.03" cy="583.48" r="1.25"/><circle cx="259.18" cy="584.59" r="1.25"/><circle cx="261.27" cy="584.36" r="1.25"/><circle cx="264.23" cy="583.58" r="1.25"/><circle cx="254.69" cy="586.92" r="1.25"/><circle cx="257.85" cy="586.05" r="1.25"/><circle cx="260.34" cy="586.05" r="1.25"/><circle cx="263.12" cy="586.40" r="1.25"/><circle cx="255.15" cy="589.78" r="1.25"/><circle cx="257.55" cy="589.80" r="1.25"/><circle cx="260.10" cy="588.69" r="1.25"/><circle cx="263.03" cy="588.64" r="1.25"/><circle cx="255.96" cy="591.69" r="1.25"/><circle cx="258.99" cy="591.39" r="1.25"/><circle cx="261.23" cy="592.24" r="1.25"/><circle cx="256.05" cy="594.95" r="1.25"/><circle cx="259.22" cy="594.25" r="1.25"/><circle cx="261.57" cy="594.42" r="1.25"/><circle cx="257.67" cy="597.11" r="1.25"/><circle cx="260.30" cy="597.14" r="1.25"/><circle cx="257.90" cy="599.61" r="1.25"/><circle cx="260.19" cy="599.86" r="1.25"/><circle cx="259.20" cy="602.20" r="1.25"/><circle cx="258.90" cy="608.00" r="1.25"/><circle cx="258.90" cy="611.50" r="1.25"/><circle cx="258.90" cy="614.80" r="1.25"/><circle cx="260.80" cy="616.00" r="1.25"/><circle cx="258.00" cy="622.70" r="1.25"/><circle cx="260.40" cy="623.30" r="1.25"/><circle cx="258.90" cy="635.20" r="1.25"/></g>
<g fill="#111111"><circle cx="276.10" cy="574.50" r="1.25"/><circle cx="279.30" cy="574.50" r="1.25"/><circle cx="282.30" cy="575.10" r="1.25"/><circle cx="286.30" cy="573.80" r="1.25"/><circle cx="290.20" cy="573.10" r="1.25"/><circle cx="279.70" cy="578.40" r="1.25"/><circle cx="283.00" cy="578.00" r="1.25"/><circle cx="287.00" cy="578.00" r="1.25"/><circle cx="283.60" cy="589.00" r="1.25"/><circle cx="283.20" cy="608.60" r="1.25"/><circle cx="283.20" cy="620.50" r="1.25"/><circle cx="286.90" cy="618.40" r="1.25"/><circle cx="283.20" cy="636.20" r="1.25"/></g>
<line x1="251.00" y1="585.70" x2="266.80" y2="585.70" stroke="#222" stroke-width="1.0"/>
<line x1="275.00" y1="578.00" x2="292.00" y2="578.00" stroke="#222" stroke-width="1.0"/>
<text x="262.00" y="645.80" font-size="8.2" fill="#3a3a3a" stroke="#3a3a3a" stroke-width="0.22" text-anchor="end" textLength="36.50" lengthAdjust="spacingAndGlyphs" transform="rotate(-45.00 262.00 645.80)">no del17p</text>
<text x="286.30" y="645.80" font-size="8.2" fill="#3a3a3a" stroke="#3a3a3a" stroke-width="0.22" text-anchor="end" textLength="25.50" lengthAdjust="spacingAndGlyphs" transform="rotate(-45.00 286.30 645.80)">del17p</text>
<line x1="342.50" y1="617.60" x2="399.60" y2="617.60" stroke="#c4c4c4" stroke-width="1.1"/>
<line x1="342.50" y1="630.50" x2="399.60" y2="630.50" stroke="#c4c4c4" stroke-width="1.1"/>
<line x1="342.50" y1="556.00" x2="342.50" y2="637.80" stroke="#2e2e2e" stroke-width="1.2"/>
<line x1="339.90" y1="558.30" x2="342.50" y2="558.30" stroke="#2e2e2e" stroke-width="1.0"/>
<text x="335.00" y="561.15" font-size="8.0" fill="#3a3a3a" stroke="#3a3a3a" stroke-width="0.22" text-anchor="end" textLength="12.00" lengthAdjust="spacingAndGlyphs">100</text>
<line x1="339.90" y1="571.40" x2="342.50" y2="571.40" stroke="#2e2e2e" stroke-width="1.0"/>
<text x="335.00" y="574.25" font-size="8.0" fill="#3a3a3a" stroke="#3a3a3a" stroke-width="0.22" text-anchor="end" textLength="8.00" lengthAdjust="spacingAndGlyphs">80</text>
<line x1="339.90" y1="584.50" x2="342.50" y2="584.50" stroke="#2e2e2e" stroke-width="1.0"/>
<text x="335.00" y="587.35" font-size="8.0" fill="#3a3a3a" stroke="#3a3a3a" stroke-width="0.22" text-anchor="end" textLength="8.00" lengthAdjust="spacingAndGlyphs">60</text>
<line x1="339.90" y1="597.70" x2="342.50" y2="597.70" stroke="#2e2e2e" stroke-width="1.0"/>
<text x="335.00" y="600.55" font-size="8.0" fill="#3a3a3a" stroke="#3a3a3a" stroke-width="0.22" text-anchor="end" textLength="8.00" lengthAdjust="spacingAndGlyphs">40</text>
<line x1="339.90" y1="610.80" x2="342.50" y2="610.80" stroke="#2e2e2e" stroke-width="1.0"/>
<text x="335.00" y="613.65" font-size="8.0" fill="#3a3a3a" stroke="#3a3a3a" stroke-width="0.22" text-anchor="end" textLength="8.00" lengthAdjust="spacingAndGlyphs">20</text>
<line x1="339.90" y1="624.00" x2="342.50" y2="624.00" stroke="#2e2e2e" stroke-width="1.0"/>
<text x="335.00" y="626.85" font-size="8.0" fill="#3a3a3a" stroke="#3a3a3a" stroke-width="0.22" text-anchor="end" textLength="4.00" lengthAdjust="spacingAndGlyphs">0</text>
<line x1="339.90" y1="637.20" x2="342.50" y2="637.20" stroke="#2e2e2e" stroke-width="1.0"/>
<text x="335.00" y="640.05" font-size="8.0" fill="#3a3a3a" stroke="#3a3a3a" stroke-width="0.22" text-anchor="end" textLength="12.60" lengthAdjust="spacingAndGlyphs">−20</text>
<text x="317.00" y="596.30" font-size="8.2" fill="#3a3a3a" stroke="#3a3a3a" stroke-width="0.22" text-anchor="middle" textLength="80.00" lengthAdjust="spacingAndGlyphs" transform="rotate(-90.00 317.00 596.30)">Observed - expected (%)</text>
<line x1="342.50" y1="637.20" x2="399.60" y2="637.20" stroke="#2e2e2e" stroke-width="1.3"/>
<line x1="358.60" y1="637.20" x2="358.60" y2="640.40" stroke="#2e2e2e" stroke-width="0.9"/>
<line x1="383.20" y1="637.20" x2="383.20" y2="640.40" stroke="#2e2e2e" stroke-width="0.9"/>
<polyline points="358.60,567.50 358.60,563.30 383.20,563.30 383.20,585.50" stroke="#6e6e6e" stroke-width="1.0" fill="none"/>
<text x="358.20" y="561.10" font-size="8.6" fill="#3a3a3a" stroke="#3a3a3a" stroke-width="0.22" textLength="25.0" lengthAdjust="spacingAndGlyphs"><tspan font-style="italic">P</tspan> = .09</text>
<g fill="#111111"><circle cx="358.60" cy="633.30" r="1.25"/><circle cx="361.41" cy="632.00" r="1.25"/><circle cx="357.20" cy="631.00" r="1.25"/><circle cx="360.00" cy="630.00" r="1.25"/><circle cx="355.80" cy="629.00" r="1.25"/><circle cx="358.60" cy="628.00" r="1.25"/><circle cx="361.41" cy="627.50" r="1.25"/><circle cx="354.39" cy="627.00" r="1.25"/><circle cx="357.20" cy="626.00" r="1.25"/><circle cx="360.00" cy="625.00" r="1.25"/><circle cx="362.81" cy="624.50" r="1.25"/><circle cx="355.80" cy="624.00" r="1.25"/><circle cx="358.60" cy="623.00" r="1.25"/><circle cx="361.41" cy="622.00" r="1.25"/><circle cx="357.20" cy="621.00" r="1.25"/><circle cx="354.39" cy="620.50" r="1.25"/><circle cx="360.00" cy="620.00" r="1.25"/><circle cx="362.81" cy="619.00" r="1.25"/><circle cx="358.60" cy="618.00" r="1.25"/><circle cx="361.41" cy="617.00" r="1.25"/><circle cx="357.20" cy="616.00" r="1.25"/><circle cx="360.00" cy="615.00" r="1.25"/><circle cx="355.80" cy="614.00" r="1.25"/><circle cx="358.60" cy="613.00" r="1.25"/><circle cx="361.41" cy="612.50" r="1.25"/><circle cx="354.39" cy="612.00" r="1.25"/><circle cx="357.20" cy="611.00" r="1.25"/><circle cx="360.00" cy="610.00" r="1.25"/><circle cx="355.80" cy="609.00" r="1.25"/><circle cx="358.60" cy="608.00" r="1.25"/><circle cx="361.41" cy="607.00" r="1.25"/><circle cx="357.20" cy="606.00" r="1.25"/><circle cx="360.00" cy="605.00" r="1.25"/><circle cx="355.80" cy="604.00" r="1.25"/><circle cx="362.81" cy="603.20" r="1.25"/><circle cx="358.60" cy="602.40" r="1.25"/><circle cx="355.80" cy="601.60" r="1.25"/><circle cx="361.41" cy="600.80" r="1.25"/><circle cx="358.60" cy="600.00" r="1.25"/><circle cx="355.80" cy="599.20" r="1.25"/><circle cx="361.41" cy="598.40" r="1.25"/><circle cx="364.21" cy="598.00" r="1.25"/><circle cx="358.60" cy="597.60" r="1.25"/><circle cx="355.80" cy="596.80" r="1.25"/><circle cx="361.41" cy="596.00" r="1.25"/><circle cx="352.99" cy="596.00" r="1.25"/><circle cx="358.60" cy="595.20" r="1.25"/><circle cx="355.80" cy="594.40" r="1.25"/><circle cx="362.81" cy="594.00" r="1.25"/><circle cx="352.99" cy="593.60" r="1.25"/><circle cx="358.60" cy="589.40" r="1.25"/><circle cx="358.60" cy="585.20" r="1.25"/><circle cx="361.41" cy="585.00" r="1.25"/><circle cx="358.60" cy="581.80" r="1.25"/><circle cx="361.41" cy="581.60" r="1.25"/><circle cx="358.60" cy="576.20" r="1.25"/><circle cx="358.60" cy="569.60" r="1.25"/><circle cx="361.41" cy="567.80" r="1.25"/></g>
<g fill="#111111"><circle cx="383.20" cy="588.00" r="1.25"/><circle cx="383.20" cy="595.60" r="1.25"/><circle cx="383.20" cy="608.10" r="1.25"/><circle cx="380.30" cy="611.80" r="1.25"/><circle cx="385.00" cy="613.20" r="1.25"/><circle cx="385.30" cy="616.00" r="1.25"/><circle cx="380.30" cy="616.70" r="1.25"/><circle cx="383.00" cy="622.00" r="1.25"/><circle cx="384.00" cy="623.30" r="1.25"/><circle cx="380.60" cy="626.60" r="1.25"/><circle cx="385.30" cy="626.60" r="1.25"/><circle cx="380.60" cy="630.90" r="1.25"/><circle cx="385.30" cy="630.00" r="1.25"/></g>
<line x1="350.20" y1="608.40" x2="366.40" y2="608.40" stroke="#222" stroke-width="1.0"/>
<line x1="374.80" y1="617.10" x2="390.90" y2="617.10" stroke="#222" stroke-width="1.0"/>
<text x="361.60" y="645.80" font-size="8.2" fill="#3a3a3a" stroke="#3a3a3a" stroke-width="0.22" text-anchor="end" textLength="36.50" lengthAdjust="spacingAndGlyphs" transform="rotate(-45.00 361.60 645.80)">no del17p</text>
<text x="386.20" y="645.80" font-size="8.2" fill="#3a3a3a" stroke="#3a3a3a" stroke-width="0.22" text-anchor="end" textLength="25.50" lengthAdjust="spacingAndGlyphs" transform="rotate(-45.00 386.20 645.80)">del17p</text>
<rect x="0.5" y="0.5" width="519" height="680" fill="none" stroke="#555" stroke-width="1.2"/></svg>
</body></html>
